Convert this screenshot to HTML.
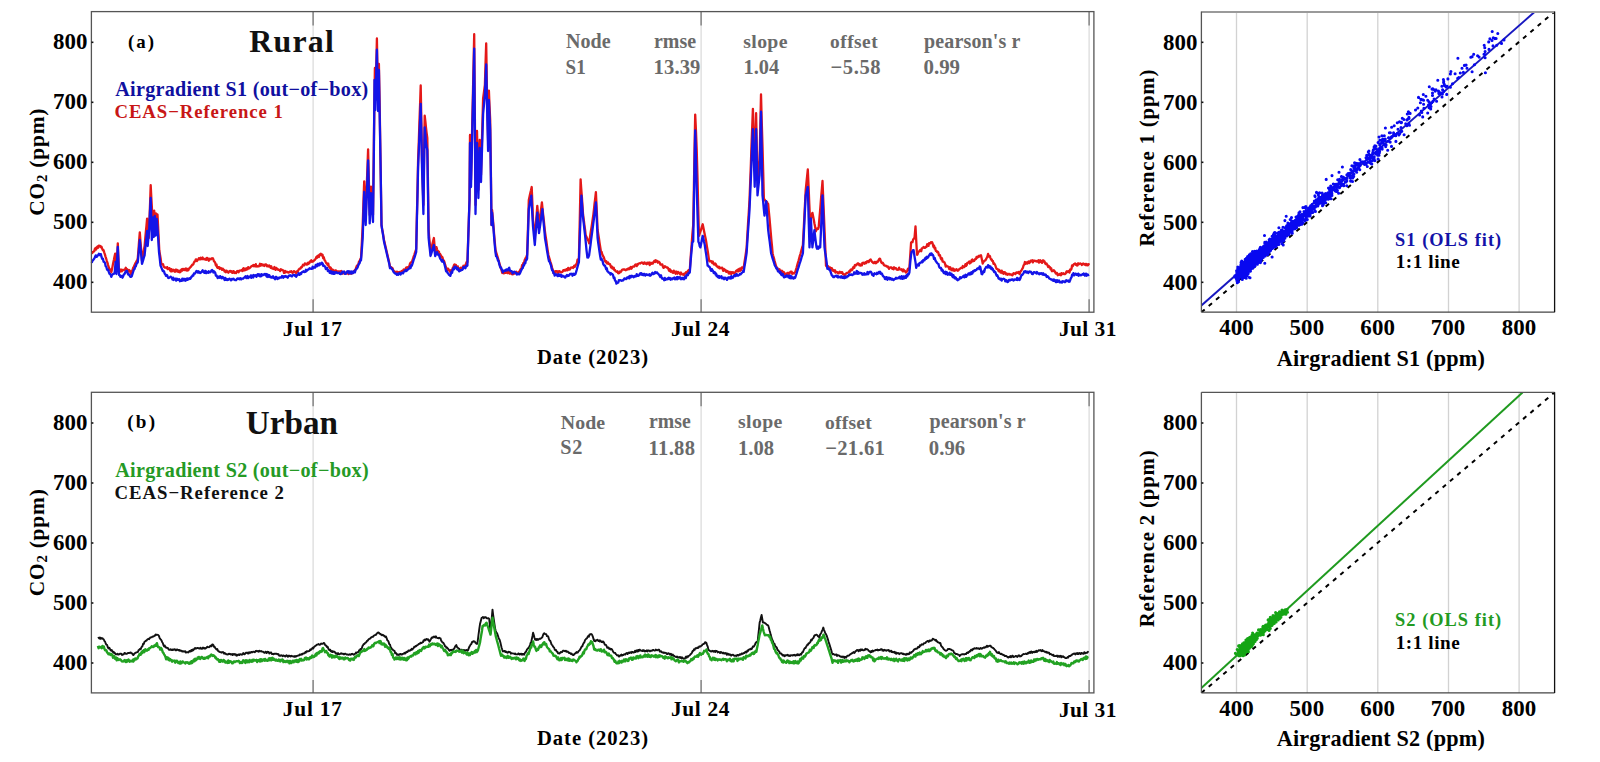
<!DOCTYPE html><html><head><meta charset="utf-8"><style>html,body{margin:0;padding:0;background:#fff;width:1600px;height:762px;overflow:hidden}svg{display:block}text{font-family:"Liberation Serif",serif;font-weight:bold;font-variant-ligatures:none}</style></head><body>
<svg width="1600" height="762" viewBox="0 0 1600 762">
<rect width="1600" height="762" fill="#fff"/>
<line x1="313.1" y1="11.6" x2="313.1" y2="312.2" stroke="#d6d6d6" stroke-width="1.1"/>
<line x1="313.1" y1="11.6" x2="313.1" y2="25.6" stroke="#777" stroke-width="1.3"/>
<line x1="313.1" y1="299.2" x2="313.1" y2="312.2" stroke="#777" stroke-width="1.3"/>
<line x1="701.1" y1="11.6" x2="701.1" y2="312.2" stroke="#d6d6d6" stroke-width="1.1"/>
<line x1="701.1" y1="11.6" x2="701.1" y2="25.6" stroke="#777" stroke-width="1.3"/>
<line x1="701.1" y1="299.2" x2="701.1" y2="312.2" stroke="#777" stroke-width="1.3"/>
<line x1="1089.1" y1="11.6" x2="1089.1" y2="312.2" stroke="#d6d6d6" stroke-width="1.1"/>
<line x1="1089.1" y1="11.6" x2="1089.1" y2="25.6" stroke="#777" stroke-width="1.3"/>
<line x1="1089.1" y1="299.2" x2="1089.1" y2="312.2" stroke="#777" stroke-width="1.3"/>
<path d="M91.7 252.9L92.3 253.0L93.0 251.8L93.6 251.7L94.3 251.1L94.9 248.8L95.6 248.0L96.2 249.5L96.8 247.2L97.5 246.4L98.1 247.8L98.8 245.6L99.4 245.9L100.1 245.8L100.8 247.1L101.5 246.7L102.2 248.8L102.9 250.3L103.6 250.2L104.2 252.3L104.9 254.4L105.5 256.6L106.2 258.7L106.8 260.8L107.5 262.9L108.1 265.1L108.8 267.3L109.4 269.1L110.0 270.2L110.7 269.8L111.3 272.3L112.0 269.2L112.6 266.1L113.2 262.9L113.9 259.8L114.5 256.7L115.2 253.6L115.8 261.8L116.4 270.0L117.1 256.6L117.8 243.3L118.4 257.6L119.0 272.7L119.7 271.8L120.4 270.7L121.0 269.5L121.7 271.4L122.4 269.9L123.1 270.2L123.8 270.2L124.4 269.4L125.1 269.5L125.8 267.7L126.5 269.4L127.1 269.1L127.8 271.1L128.4 271.5L129.1 270.0L129.7 270.8L130.3 271.6L131.0 274.3L131.7 271.3L132.4 270.3L133.1 268.0L133.8 267.0L134.5 265.2L135.2 263.6L135.8 262.7L136.5 261.2L137.2 260.6L137.8 258.0L138.5 249.4L139.1 240.9L139.8 232.3L140.5 241.9L141.3 251.4L142.0 261.0L142.7 257.2L143.3 253.5L143.9 249.8L144.6 246.0L145.2 239.2L145.8 232.3L146.5 225.4L147.1 218.6L147.9 228.3L148.8 238.0L149.4 220.4L150.1 202.8L150.7 185.2L151.4 199.1L152.2 213.0L153.2 225.0L154.2 210.7L155.0 222.0L156.0 213.5L156.8 214.9L157.5 214.5L158.1 226.5L158.7 238.5L159.3 250.5L159.9 254.3L160.6 258.2L161.2 263.0L161.8 264.3L162.4 264.5L163.0 264.1L163.7 266.5L164.4 267.4L165.2 267.7L165.9 267.4L166.5 268.1L167.1 267.1L167.7 269.1L168.3 268.8L168.9 268.3L169.5 268.1L170.1 270.5L170.7 271.2L171.3 269.1L171.9 271.4L172.5 270.4L173.1 269.7L173.8 270.2L174.4 271.5L175.0 271.8L175.6 269.6L176.2 271.2L176.8 269.7L177.5 271.5L178.1 270.5L178.7 272.0L179.3 272.2L179.9 270.8L180.5 272.0L181.1 270.0L181.7 269.3L182.3 270.6L182.9 268.9L183.5 269.2L184.1 269.7L184.7 270.1L185.3 268.8L185.9 268.4L186.5 270.5L187.1 268.9L187.7 270.5L188.3 270.2L188.9 268.7L189.5 268.1L190.2 267.4L190.8 266.9L191.4 266.0L192.0 265.1L192.7 264.4L193.3 264.5L193.9 262.5L194.5 261.5L195.2 261.4L195.8 259.3L196.4 259.3L197.0 261.1L197.7 259.7L198.3 259.7L198.9 258.1L199.5 259.1L200.1 259.4L200.7 257.8L201.4 259.2L202.0 259.2L202.6 257.5L203.2 259.1L203.8 258.8L204.5 259.4L205.1 258.6L205.7 259.6L206.3 259.8L206.9 257.9L207.5 258.1L208.2 259.8L208.8 260.7L209.4 258.8L210.1 259.2L210.8 259.4L211.4 258.5L212.1 258.5L212.8 258.2L213.4 259.5L214.0 261.3L214.6 261.7L215.3 263.1L215.9 265.4L216.5 264.5L217.1 267.2L217.7 267.9L218.4 267.1L219.0 267.2L219.6 269.0L220.2 267.8L220.9 268.0L221.5 268.9L222.1 269.9L222.7 268.6L223.4 269.5L224.0 269.9L224.6 271.5L225.2 270.7L225.9 272.2L226.5 270.6L227.1 271.1L227.8 272.0L228.4 272.7L229.1 271.6L229.7 271.0L230.3 270.8L231.0 271.9L231.6 271.1L232.2 272.8L232.9 272.9L233.5 271.2L234.1 271.5L234.8 273.0L235.4 272.6L236.1 273.1L236.7 271.9L237.3 271.0L238.0 271.2L238.6 272.3L239.3 270.6L239.9 270.6L240.5 270.5L241.2 270.3L241.8 270.0L242.4 271.1L243.1 268.8L243.7 268.1L244.4 270.4L245.0 269.9L245.6 270.0L246.3 268.3L246.9 269.5L247.6 269.2L248.2 267.1L248.8 268.3L249.5 268.3L250.1 267.6L250.7 267.0L251.4 266.2L252.0 266.1L252.6 265.6L253.3 265.0L253.9 266.2L254.6 265.1L255.2 266.3L255.8 264.2L256.4 266.5L257.0 265.9L257.6 266.5L258.2 266.3L258.8 266.3L259.4 265.4L260.0 263.8L260.7 265.7L261.3 264.1L261.9 264.4L262.5 265.4L263.1 265.0L263.7 264.6L264.3 266.0L264.9 265.0L265.5 264.3L266.1 264.3L266.8 266.2L267.4 265.4L268.1 266.5L268.7 265.6L269.3 265.5L270.0 266.6L270.6 267.7L271.2 266.2L271.9 268.1L272.5 268.7L273.1 268.7L273.8 269.0L274.4 267.0L275.1 269.0L275.7 269.9L276.3 267.9L277.0 268.7L277.6 268.9L278.2 269.8L278.9 269.8L279.5 270.1L280.2 271.1L280.8 269.3L281.4 269.6L282.1 270.0L282.7 270.2L283.3 270.3L284.0 272.9L284.6 272.8L285.3 271.0L285.9 272.3L286.5 271.8L287.1 271.8L287.7 271.9L288.3 272.7L288.9 272.5L289.5 271.9L290.1 271.5L290.7 271.8L291.4 271.3L292.0 272.4L292.6 272.9L293.2 272.0L293.8 271.2L294.4 271.4L295.0 272.0L295.6 272.6L296.2 273.1L296.8 271.4L297.4 271.9L298.1 270.8L298.7 269.6L299.3 268.9L299.9 268.6L300.5 268.5L301.1 267.1L301.8 267.3L302.4 266.0L303.0 264.8L303.6 265.3L304.3 265.4L304.9 263.4L305.6 264.0L306.2 263.7L306.8 264.6L307.5 264.4L308.1 262.6L308.7 263.7L309.4 263.1L310.0 261.4L310.6 261.6L311.3 260.3L311.9 261.9L312.6 261.2L313.2 261.4L313.8 260.7L314.5 259.9L315.1 259.6L315.7 258.7L316.4 257.0L317.0 257.9L317.6 255.8L318.2 255.7L318.9 257.0L319.5 254.6L320.1 254.2L320.8 253.8L321.4 255.4L322.0 254.5L322.6 255.0L323.2 258.2L323.8 257.2L324.5 260.1L325.1 260.6L325.7 262.0L326.3 263.3L326.9 263.2L327.5 264.8L328.2 263.6L328.8 266.6L329.4 266.8L330.1 268.3L330.7 267.6L331.4 270.3L332.0 271.8L332.6 269.5L333.2 270.3L333.8 271.1L334.4 271.9L335.1 270.4L335.7 270.4L336.3 270.7L336.9 271.7L337.5 272.2L338.1 271.4L338.7 271.4L339.3 271.6L340.0 271.5L340.6 271.8L341.2 271.0L341.8 272.3L342.4 273.6L343.0 272.2L343.6 273.2L344.2 271.8L344.9 273.3L345.5 273.6L346.1 273.5L346.7 273.1L347.3 273.2L347.9 273.5L348.6 274.1L349.2 272.0L349.8 271.8L350.4 273.5L351.1 273.8L351.7 272.7L352.3 272.4L352.9 273.1L353.6 271.5L354.2 271.7L354.9 270.0L355.6 269.6L356.2 267.4L356.9 265.7L357.6 265.5L358.3 264.8L359.0 261.6L359.6 261.4L360.3 259.2L361.0 258.0L361.9 241.5L362.7 225.0L363.4 203.2L364.2 181.4L364.9 198.2L365.7 215.0L366.3 198.6L366.9 182.2L367.5 165.7L368.1 149.3L368.9 182.2L369.7 215.0L370.4 200.8L371.0 186.7L371.7 196.1L372.3 205.6L373.0 215.0L373.9 140.0L374.9 68.0L375.6 100.0L376.2 69.2L376.9 38.5L378.0 100.0L378.9 64.0L379.6 100.0L380.5 160.0L381.5 225.0L382.1 228.8L382.8 232.5L383.4 236.2L384.0 240.0L384.6 242.6L385.2 245.2L385.8 247.8L386.4 250.4L387.0 253.0L387.6 255.6L388.2 258.2L388.8 260.8L389.4 263.4L390.0 267.0L390.6 267.1L391.3 267.1L391.9 267.9L392.6 268.2L393.2 270.3L393.8 270.9L394.5 271.2L395.1 272.6L395.7 272.4L396.3 273.5L396.9 271.7L397.6 273.8L398.2 272.3L398.8 272.5L399.4 272.0L400.0 272.9L400.6 272.5L401.2 271.4L401.9 270.9L402.5 271.1L403.1 271.1L403.7 269.5L404.3 270.1L404.9 270.3L405.6 268.6L406.2 267.6L406.8 267.3L407.4 267.8L408.1 267.0L408.7 267.0L409.4 266.0L410.0 263.6L410.6 262.7L411.3 262.1L411.9 262.0L412.5 260.1L413.1 258.3L413.7 256.4L414.4 254.6L415.0 252.7L415.6 250.9L416.2 249.0L416.8 219.3L417.5 189.7L418.1 160.0L418.8 141.4L419.4 122.8L420.1 104.1L420.7 85.5L421.4 122.8L422.0 160.0L422.7 182.5L423.4 205.0L424.0 160.3L424.7 115.7L425.4 121.6L426.0 127.5L426.6 132.8L427.3 138.0L428.0 184.0L428.6 230.0L429.2 237.3L429.9 244.7L430.5 252.0L431.2 249.2L431.9 246.4L432.5 243.6L433.2 240.8L433.9 238.0L434.5 245.0L435.2 252.0L435.9 250.0L436.5 247.2L437.1 249.6L437.7 251.1L438.3 252.3L438.9 251.6L439.5 254.4L440.1 254.0L440.8 255.3L441.4 257.2L442.0 256.6L442.6 257.7L443.2 260.7L443.8 260.4L444.4 262.0L445.2 265.0L446.1 267.6L446.8 268.9L447.5 269.8L448.2 268.7L448.9 270.2L449.6 271.2L450.3 272.0L450.9 270.2L451.5 270.2L452.1 270.2L452.8 267.7L453.4 267.1L454.0 265.0L454.6 264.4L455.2 265.9L455.9 265.0L456.5 267.5L457.1 268.1L457.8 266.4L458.4 269.2L459.1 268.2L459.7 269.7L460.3 269.3L460.9 267.6L461.5 268.2L462.2 267.7L462.8 267.7L463.4 265.8L464.0 266.7L464.7 266.4L465.4 264.9L466.0 263.7L466.7 261.8L467.4 262.0L468.1 241.3L468.8 220.7L469.5 200.0L470.0 135.0L471.0 180.0L471.7 150.0L472.3 120.0L473.0 90.0L474.2 34.2L474.9 119.6L475.5 205.0L476.2 168.0L477.0 131.0L477.7 160.5L478.4 190.0L479.0 165.0L479.7 140.0L480.4 157.5L481.0 175.0L481.7 149.5L482.4 124.0L483.1 98.5L484.0 91.8L484.9 85.0L485.5 64.2L486.2 43.4L487.0 95.0L488.1 140.0L488.9 90.6L489.5 105.3L490.2 120.0L490.9 172.5L491.5 225.0L492.1 210.0L492.8 218.0L493.5 226.0L494.1 234.0L494.8 242.0L495.5 250.0L496.1 252.1L496.7 254.2L497.4 256.3L498.0 258.4L498.6 260.5L499.2 262.5L499.8 264.6L500.4 266.7L501.1 268.8L501.7 270.9L502.3 273.0L502.9 272.5L503.6 273.4L504.2 273.2L504.8 272.8L505.4 271.7L506.1 272.8L506.7 272.7L507.3 271.4L507.9 273.2L508.6 272.5L509.2 271.0L509.9 273.6L510.6 271.8L511.2 272.7L511.9 274.2L512.6 274.3L513.2 274.0L513.8 274.0L514.5 273.3L515.1 272.8L515.7 272.2L516.3 271.7L516.9 273.3L517.5 273.2L518.2 272.5L518.8 272.8L519.4 271.6L520.1 270.0L520.8 268.9L521.4 268.8L522.1 265.2L522.8 265.0L523.4 262.9L524.0 262.9L524.6 260.3L525.3 258.8L525.9 257.6L526.5 256.5L527.1 255.0L528.0 227.5L528.8 200.0L529.5 196.8L530.2 193.5L531.0 190.2L531.7 187.0L532.4 203.5L533.0 220.0L533.9 229.0L534.8 238.0L535.4 229.9L536.0 221.9L536.7 213.9L537.3 205.8L538.1 215.4L539.0 225.0L539.7 219.3L540.5 213.7L541.2 208.1L541.9 202.4L542.5 208.3L543.1 214.2L543.8 220.2L544.4 226.1L545.0 232.0L545.7 236.6L546.4 241.2L547.0 245.8L547.7 250.4L548.4 255.0L549.0 257.2L549.7 259.3L550.3 261.5L551.0 263.6L551.6 265.8L552.2 268.0L552.9 270.1L553.5 273.0L554.1 271.9L554.7 273.2L555.3 271.2L555.9 271.6L556.5 271.1L557.1 271.1L557.7 272.8L558.3 272.7L558.9 271.2L559.5 271.2L560.1 271.6L560.8 272.3L561.4 272.4L562.0 272.0L562.7 271.5L563.3 270.1L563.9 270.6L564.6 269.9L565.2 270.7L565.8 270.5L566.4 269.2L567.0 269.0L567.6 270.2L568.2 267.8L568.8 269.6L569.4 269.6L570.0 269.4L570.7 267.6L571.3 267.7L571.9 267.5L572.5 267.4L573.1 268.0L573.7 266.9L574.3 265.6L574.9 266.8L575.5 265.5L576.2 264.3L576.9 263.1L577.5 259.7L578.2 260.2L578.9 258.0L579.8 218.7L580.6 179.4L581.2 188.3L581.9 197.2L582.5 206.1L583.1 215.0L583.8 220.0L584.4 225.0L585.1 230.0L585.7 235.4L586.4 236.6L587.1 238.4L587.7 239.9L588.4 240.8L589.1 243.3L589.7 239.2L590.3 235.0L590.9 230.9L591.6 226.7L592.2 222.6L592.8 218.4L593.4 214.3L594.0 208.8L594.6 203.2L595.3 197.7L595.9 192.2L596.8 211.1L597.6 230.0L598.3 234.4L599.0 238.8L599.6 243.1L600.3 247.5L601.0 252.0L601.6 251.9L602.3 254.5L603.0 256.1L603.6 256.8L604.2 258.5L604.9 260.8L605.6 261.9L606.2 261.1L606.8 263.4L607.5 263.5L608.1 262.5L608.7 263.9L609.3 264.1L610.0 264.2L610.6 266.0L611.2 267.6L611.8 266.5L612.5 268.5L613.1 268.5L613.7 267.6L614.3 270.0L615.0 269.9L615.6 271.3L616.2 271.3L616.8 271.9L617.5 271.3L618.1 273.1L618.7 273.3L619.4 272.9L620.0 271.5L620.6 272.1L621.3 271.2L621.9 270.0L622.6 269.6L623.2 269.5L623.8 269.6L624.5 269.3L625.1 270.0L625.8 270.3L626.4 269.6L627.0 269.1L627.7 269.5L628.3 268.4L628.9 268.5L629.5 269.1L630.1 267.9L630.7 267.0L631.3 268.7L631.9 268.0L632.5 266.8L633.1 266.5L633.7 266.7L634.3 266.6L634.9 265.3L635.5 264.5L636.1 264.8L636.7 266.1L637.3 264.1L637.9 264.7L638.5 263.7L639.1 263.5L639.7 263.2L640.3 263.5L640.9 262.9L641.6 262.5L642.2 262.7L642.8 262.9L643.4 263.8L644.1 262.6L644.7 262.5L645.3 263.7L645.9 263.6L646.6 264.3L647.2 262.6L647.8 263.5L648.4 263.5L649.1 262.5L649.7 265.1L650.3 263.0L650.9 262.7L651.6 263.7L652.2 262.9L652.8 263.6L653.4 262.4L654.0 261.3L654.7 260.6L655.3 262.0L655.9 260.3L656.5 261.2L657.1 260.9L657.8 262.7L658.4 261.6L659.1 262.0L659.7 262.6L660.4 264.6L661.0 264.7L661.6 264.5L662.3 264.4L662.9 266.6L663.6 267.9L664.2 267.4L664.8 266.2L665.5 266.6L666.1 267.1L666.8 267.6L667.4 267.5L668.0 267.9L668.7 269.8L669.3 270.8L669.9 269.3L670.6 271.7L671.2 270.6L671.9 271.8L672.5 272.5L673.1 272.9L673.8 270.7L674.4 271.8L675.0 272.7L675.6 273.7L676.2 271.5L676.8 272.1L677.4 273.7L678.0 271.9L678.6 272.7L679.2 272.7L679.8 273.7L680.4 274.5L681.0 272.5L681.6 274.1L682.2 274.2L682.8 274.6L683.4 273.9L684.0 275.0L684.6 273.6L685.2 273.3L685.9 272.3L686.5 273.3L687.2 271.9L687.9 270.9L688.5 270.1L689.1 271.1L689.8 270.0L690.4 261.2L691.0 252.5L691.7 243.8L692.3 235.0L693.2 225.0L693.9 188.2L694.5 151.4L695.2 114.6L696.0 131.9L696.7 149.3L697.5 178.1L698.2 207.0L699.0 235.8L699.6 233.9L700.2 232.0L700.9 230.1L701.5 228.1L702.1 226.2L702.7 224.3L703.4 227.8L704.1 231.2L704.8 234.7L705.5 238.1L706.2 241.6L706.9 246.3L707.7 251.0L708.4 255.7L709.1 260.7L709.7 261.4L710.3 260.9L710.9 261.6L711.6 261.1L712.2 263.0L712.8 261.6L713.4 263.2L714.0 264.4L714.6 264.5L715.2 263.4L715.9 264.2L716.5 266.2L717.1 266.1L717.7 267.1L718.3 267.5L718.9 266.7L719.5 268.3L720.1 268.3L720.8 267.6L721.4 268.1L722.0 267.6L722.6 268.9L723.2 270.8L723.8 268.9L724.4 270.5L725.0 269.7L725.6 270.0L726.2 271.9L726.9 271.2L727.5 271.0L728.1 271.7L728.7 273.4L729.3 273.6L729.9 271.9L730.6 272.4L731.2 274.2L731.8 272.1L732.5 272.9L733.1 272.3L733.7 273.2L734.3 272.6L735.0 272.9L735.6 272.1L736.2 270.8L736.8 270.5L737.5 269.8L738.1 271.5L738.7 269.3L739.3 268.7L740.0 270.9L740.6 268.5L741.2 270.0L741.8 267.5L742.5 268.2L743.1 267.2L743.7 267.6L744.4 262.7L745.2 257.8L745.9 252.9L746.6 248.0L747.3 236.0L748.0 224.0L748.8 212.0L749.5 200.0L750.2 181.8L750.9 163.6L751.5 145.3L752.2 127.1L752.9 108.9L753.5 129.3L754.1 149.6L754.7 170.0L755.4 141.6L756.1 113.2L756.8 146.6L757.5 180.0L758.2 173.3L758.9 166.7L759.6 160.0L760.3 127.2L761.0 94.4L761.7 120.4L762.5 146.4L763.2 172.3L763.9 199.2L764.5 199.4L765.1 200.3L765.7 201.5L766.4 202.6L767.0 202.0L767.6 203.5L768.2 204.1L768.8 211.1L769.5 218.1L770.1 225.1L770.7 232.2L771.3 239.2L772.0 246.2L772.6 253.2L773.2 255.7L773.9 258.1L774.5 260.6L775.2 263.1L775.9 265.5L776.5 267.9L777.1 267.4L777.7 269.8L778.3 269.5L778.9 270.6L779.5 269.3L780.1 270.7L780.8 270.9L781.4 272.0L782.0 270.7L782.6 271.9L783.2 272.7L783.8 272.0L784.4 273.7L785.0 274.6L785.6 273.7L786.2 274.2L786.8 273.9L787.4 272.8L788.0 273.0L788.6 274.6L789.2 272.7L789.8 272.9L790.5 271.8L791.1 272.1L791.7 271.8L792.3 273.8L792.9 273.1L793.5 273.4L794.1 273.5L794.7 272.4L795.3 272.0L795.9 269.8L796.6 267.5L797.2 265.2L797.8 263.0L798.5 260.8L799.1 258.5L799.7 256.2L800.4 254.0L801.0 251.8L801.6 249.5L802.3 247.2L802.9 245.0L803.6 231.2L804.3 217.5L805.0 203.8L805.7 190.0L806.4 183.2L807.1 176.3L807.8 169.5L808.6 186.8L809.3 204.1L810.1 221.4L810.9 218.5L811.6 215.7L812.4 212.8L813.1 216.3L813.8 219.7L814.4 223.2L815.1 226.6L815.8 231.3L816.5 229.5L817.2 228.4L818.0 229.1L818.7 227.2L819.3 219.5L820.0 211.8L820.6 204.1L821.2 196.4L821.9 188.7L822.5 181.0L823.2 197.7L823.9 214.5L824.6 231.2L825.3 248.0L826.0 265.8L826.6 266.4L827.2 265.6L827.8 266.9L828.4 266.4L829.0 268.5L829.6 268.7L830.2 267.5L830.8 269.7L831.4 268.2L832.0 268.4L832.6 270.6L833.2 269.9L833.8 270.9L834.4 271.6L835.0 270.3L835.6 272.6L836.2 271.7L836.8 272.2L837.4 272.1L838.0 273.3L838.6 273.4L839.2 272.2L839.8 271.8L840.4 272.5L841.0 272.9L841.7 272.1L842.3 272.4L842.9 274.1L843.5 274.0L844.1 274.9L844.7 275.0L845.3 274.8L845.9 273.6L846.5 273.1L847.1 272.9L847.7 272.8L848.3 272.4L848.9 271.9L849.5 270.9L850.1 271.7L850.7 269.6L851.3 269.5L851.9 270.1L852.5 269.4L853.1 267.4L853.7 266.7L854.3 267.7L854.9 265.0L855.5 264.8L856.1 265.3L856.7 264.8L857.3 263.7L858.0 263.3L858.6 263.7L859.3 265.2L859.9 264.3L860.5 265.6L861.2 265.0L861.8 265.4L862.4 262.8L863.1 263.2L863.7 262.6L864.4 263.7L865.0 263.4L865.6 262.2L866.3 263.1L866.9 261.4L867.5 261.6L868.2 261.0L868.8 262.1L869.5 260.6L870.1 259.8L870.7 259.5L871.4 260.9L872.0 261.7L872.7 262.2L873.3 263.1L873.9 263.2L874.6 262.0L875.2 262.0L875.8 263.2L876.4 262.8L877.0 261.6L877.7 262.0L878.3 260.7L878.9 259.5L879.5 258.7L880.1 258.9L880.8 261.3L881.4 262.6L882.1 263.2L882.7 262.7L883.4 263.8L884.0 265.2L884.6 265.5L885.3 265.6L885.9 265.7L886.6 266.6L887.2 266.3L887.8 266.4L888.5 267.9L889.1 268.8L889.7 267.7L890.3 267.4L891.0 267.3L891.6 267.7L892.2 268.7L892.8 267.9L893.5 269.3L894.1 267.3L894.7 267.8L895.3 268.4L896.0 268.2L896.6 269.5L897.2 269.5L897.8 269.9L898.5 269.1L899.1 267.6L899.7 269.3L900.3 269.5L901.0 269.6L901.6 269.3L902.2 270.6L902.8 271.4L903.4 269.5L904.0 271.2L904.7 270.7L905.3 271.3L905.9 272.6L906.6 272.0L907.3 270.5L908.0 268.6L908.7 269.8L909.4 268.0L910.2 255.7L911.1 242.4L911.8 242.0L912.5 242.1L913.1 239.7L913.8 238.6L914.5 238.2L915.5 226.3L916.2 239.9L917.0 254.8L917.6 254.3L918.2 252.1L918.8 251.8L919.4 251.0L920.0 250.1L920.6 249.9L921.2 251.3L921.8 248.4L922.4 248.3L923.0 247.7L923.6 246.9L924.2 247.7L924.8 247.9L925.4 247.7L926.0 246.7L926.6 246.8L927.2 244.2L927.9 244.5L928.5 245.9L929.1 243.1L929.7 243.2L930.3 243.3L930.9 242.3L931.5 242.6L932.1 242.3L932.7 243.8L933.4 246.8L934.0 245.6L934.6 248.6L935.2 247.7L935.8 250.9L936.4 251.0L937.1 252.0L937.7 251.6L938.3 252.4L938.9 255.3L939.5 254.7L940.1 255.7L940.8 258.4L941.4 259.5L942.0 258.2L942.6 261.6L943.2 261.5L943.8 262.0L944.4 262.3L945.1 264.0L945.7 266.6L946.3 265.6L946.9 266.2L947.5 266.4L948.1 266.6L948.7 267.4L949.3 269.1L949.9 267.1L950.5 267.6L951.1 269.8L951.7 270.1L952.3 270.3L952.9 268.5L953.5 269.0L954.1 270.8L954.7 269.8L955.3 270.5L955.9 269.7L956.5 269.1L957.1 270.2L957.7 270.8L958.4 270.5L959.0 269.5L959.6 268.8L960.3 268.6L960.9 267.9L961.6 267.7L962.2 268.1L962.8 266.0L963.5 266.6L964.1 267.1L964.8 266.4L965.4 264.2L966.0 265.9L966.7 265.1L967.3 262.9L967.9 262.8L968.5 262.2L969.2 261.4L969.8 263.5L970.4 261.6L971.0 262.5L971.7 260.1L972.3 259.4L972.9 261.3L973.5 260.7L974.1 260.9L974.8 259.7L975.4 258.8L976.0 259.1L976.6 256.9L977.3 257.7L977.9 257.1L978.5 255.9L979.1 256.7L979.8 255.6L980.4 255.7L981.0 255.3L981.9 259.6L982.7 263.5L983.4 262.1L984.1 261.1L984.7 260.6L985.4 260.4L986.1 259.2L986.8 257.8L987.4 256.6L988.1 253.9L988.7 256.7L989.3 255.7L989.9 256.2L990.5 258.1L991.1 259.6L991.7 259.4L992.3 261.1L992.9 261.0L993.5 263.8L994.1 263.3L994.7 264.2L995.4 265.5L996.0 267.5L996.7 268.9L997.3 268.8L998.0 269.6L998.6 271.2L999.2 269.9L999.9 271.1L1000.5 272.5L1001.1 272.5L1001.7 270.7L1002.4 273.1L1003.0 272.0L1003.6 273.8L1004.2 272.4L1004.9 272.2L1005.5 273.3L1006.1 274.4L1006.7 273.4L1007.4 274.8L1008.0 274.5L1008.6 273.8L1009.2 273.9L1009.9 274.6L1010.5 274.5L1011.1 274.3L1011.7 275.0L1012.3 275.4L1012.9 274.5L1013.5 273.2L1014.1 273.3L1014.7 273.6L1015.4 274.1L1016.0 272.7L1016.6 272.4L1017.2 272.9L1017.8 272.7L1018.4 271.9L1019.0 273.1L1019.6 274.0L1020.3 271.8L1020.9 271.1L1021.6 270.1L1022.2 268.9L1022.9 267.8L1023.6 265.3L1024.2 264.7L1024.9 262.0L1025.5 263.9L1026.1 262.4L1026.8 262.6L1027.4 263.6L1028.0 261.9L1028.6 261.5L1029.2 263.1L1029.8 262.4L1030.5 260.9L1031.1 260.6L1031.7 261.4L1032.3 260.3L1032.9 262.4L1033.5 260.6L1034.2 260.7L1034.8 260.9L1035.4 261.1L1036.0 261.0L1036.6 261.5L1037.2 261.7L1037.9 261.1L1038.5 260.2L1039.1 262.6L1039.7 261.9L1040.3 260.3L1040.9 261.3L1041.5 262.2L1042.1 262.9L1042.8 260.4L1043.4 260.3L1044.0 261.6L1044.6 261.5L1045.2 263.5L1045.8 264.0L1046.4 263.4L1047.0 264.4L1047.6 265.5L1048.2 267.0L1048.8 265.9L1049.4 267.2L1050.0 267.1L1050.6 269.3L1051.2 268.3L1051.9 271.2L1052.5 270.5L1053.2 271.1L1053.8 270.2L1054.5 271.0L1055.1 272.1L1055.8 273.6L1056.4 273.2L1057.0 272.9L1057.7 275.2L1058.3 274.8L1059.0 274.9L1059.6 273.8L1060.2 273.9L1060.9 275.3L1061.5 273.1L1062.1 273.9L1062.7 274.0L1063.3 273.1L1063.9 274.0L1064.6 274.2L1065.2 273.9L1065.8 273.4L1066.4 271.7L1067.0 271.2L1067.6 272.0L1068.3 271.5L1068.9 271.0L1069.5 272.6L1070.2 269.5L1070.8 269.8L1071.5 268.8L1072.1 265.3L1072.8 266.1L1073.4 264.7L1074.0 264.1L1074.6 264.0L1075.2 263.5L1075.8 264.7L1076.4 264.3L1077.0 265.5L1077.6 265.4L1078.2 263.3L1078.8 264.2L1079.4 264.1L1080.0 263.4L1080.6 263.7L1081.2 263.8L1081.8 265.0L1082.5 264.1L1083.1 263.5L1083.7 263.8L1084.3 264.5L1084.9 264.8L1085.5 264.0L1086.1 265.3L1086.7 264.0L1087.4 265.3L1088.0 265.2L1088.6 264.1L1089.2 265.0" fill="none" stroke="#e41818" stroke-width="2.3" stroke-linejoin="round"/>
<path d="M91.7 262.8L92.4 260.8L93.1 260.2L93.7 259.3L94.4 258.4L95.1 256.8L95.7 255.4L96.4 256.9L97.0 256.7L97.7 255.3L98.3 255.1L98.9 253.8L99.6 255.1L100.2 254.1L100.9 254.2L101.6 257.2L102.2 259.0L102.9 258.6L103.6 261.7L104.3 262.1L105.0 262.9L105.6 266.1L106.3 266.8L107.0 269.5L107.6 270.1L108.2 269.8L108.8 271.9L109.5 273.8L110.1 273.8L110.7 274.9L111.3 276.8L112.0 275.0L112.7 274.4L113.3 273.9L114.0 273.9L114.7 272.3L115.6 262.0L116.4 274.0L117.1 260.5L117.8 247.0L118.4 261.4L119.0 275.0L119.7 274.9L120.4 276.8L121.0 276.4L121.7 275.9L122.4 277.7L123.1 276.4L123.8 274.3L124.4 274.3L125.1 272.7L125.8 271.3L126.5 270.9L127.1 271.0L127.8 273.7L128.4 274.7L129.1 274.5L129.7 275.7L130.3 276.8L131.0 276.8L131.7 276.3L132.4 274.2L133.1 272.0L133.8 269.6L134.5 269.1L135.2 266.7L135.8 266.5L136.5 263.8L137.2 263.1L137.8 262.1L138.5 254.7L139.1 247.4L139.8 240.0L140.5 247.9L141.3 255.9L142.0 263.8L142.7 261.7L143.3 259.6L143.9 257.4L144.6 255.3L145.2 249.2L145.8 243.2L146.5 237.1L147.1 231.0L147.7 246.0L148.4 237.8L149.2 229.5L149.9 213.8L150.7 198.0L151.8 240.0L153.0 217.5L153.7 237.0L154.8 216.0L155.7 235.5L156.7 219.0L157.8 232.5L159.0 252.0L159.8 258.8L160.5 265.5L161.6 268.1L162.2 269.6L162.8 271.1L163.4 270.8L164.1 271.6L164.7 273.8L165.3 274.0L165.9 275.8L166.5 275.2L167.1 275.2L167.7 276.7L168.3 277.9L168.9 278.0L169.5 277.3L170.1 277.3L170.7 276.6L171.3 277.4L171.9 277.8L172.5 279.6L173.1 277.6L173.8 280.0L174.4 278.9L175.0 278.9L175.6 278.6L176.2 280.6L176.8 278.7L177.5 279.9L178.1 279.9L178.7 279.2L179.3 279.2L179.9 281.2L180.5 280.6L181.1 280.4L181.7 280.9L182.3 278.6L182.9 280.2L183.5 280.3L184.1 278.8L184.7 279.4L185.3 280.8L185.9 279.0L186.5 280.1L187.1 278.4L187.7 279.7L188.3 278.6L188.9 279.2L189.5 278.2L190.2 278.9L190.8 278.0L191.4 276.7L192.0 276.6L192.7 275.2L193.3 275.6L193.9 273.5L194.5 273.7L195.2 273.2L195.8 272.0L196.4 271.0L197.0 271.3L197.7 272.5L198.3 271.2L198.9 272.6L199.5 271.9L200.1 273.0L200.7 272.7L201.4 272.3L202.0 271.2L202.6 270.3L203.2 271.7L203.8 272.3L204.5 272.9L205.1 271.0L205.7 270.9L206.3 273.2L206.9 272.7L207.5 272.0L208.2 272.8L208.8 271.3L209.4 272.4L210.1 272.4L210.8 271.9L211.4 270.4L212.1 270.0L212.8 270.9L213.4 272.5L214.0 271.3L214.6 271.8L215.3 272.9L215.9 275.7L216.5 275.4L217.1 276.5L217.7 278.1L218.4 277.2L219.0 276.5L219.6 277.8L220.2 276.1L220.9 277.1L221.5 278.3L222.1 277.1L222.7 276.9L223.4 278.4L224.0 278.0L224.6 280.0L225.2 277.8L225.9 279.8L226.5 278.9L227.1 280.1L227.8 279.2L228.4 279.8L229.1 278.9L229.7 278.7L230.3 279.4L231.0 280.4L231.6 279.2L232.2 278.9L232.9 279.5L233.5 278.7L234.1 279.3L234.8 280.0L235.4 280.0L236.1 280.2L236.7 279.4L237.3 278.5L238.0 278.3L238.6 279.0L239.3 278.4L239.9 279.2L240.5 278.2L241.2 279.4L241.8 278.7L242.4 278.7L243.1 278.7L243.7 277.9L244.4 277.5L245.0 277.0L245.6 276.2L246.3 278.1L246.9 277.2L247.6 276.0L248.2 278.1L248.8 277.1L249.5 277.1L250.1 276.5L250.7 275.5L251.4 277.8L252.0 275.4L252.6 275.9L253.3 277.5L253.9 275.0L254.6 275.9L255.2 275.7L255.8 275.1L256.4 276.8L257.0 275.4L257.6 274.3L258.2 275.5L258.8 274.1L259.4 276.0L260.0 276.4L260.7 276.4L261.3 274.1L261.9 275.7L262.5 274.6L263.1 275.0L263.7 274.5L264.3 274.5L264.9 274.0L265.5 275.2L266.1 274.0L266.8 276.6L267.4 274.3L268.1 277.0L268.7 275.1L269.3 275.1L270.0 277.0L270.6 276.7L271.2 277.5L271.9 277.0L272.5 277.6L273.1 276.3L273.8 278.1L274.4 277.9L275.1 279.3L275.7 277.0L276.3 277.0L277.0 278.6L277.6 279.1L278.2 277.7L278.9 278.3L279.5 277.8L280.2 277.3L280.8 277.4L281.4 277.6L282.1 276.0L282.7 276.6L283.3 277.7L284.0 276.3L284.6 276.7L285.3 276.0L285.9 276.2L286.5 277.0L287.1 277.2L287.7 277.7L288.3 276.3L288.9 275.6L289.5 275.9L290.1 275.1L290.7 275.5L291.4 276.4L292.0 276.4L292.6 275.4L293.2 275.2L293.8 274.9L294.4 275.1L295.0 275.9L295.6 275.2L296.2 276.8L296.8 275.7L297.4 274.8L298.0 274.7L298.6 273.3L299.2 274.9L299.8 274.6L300.4 273.3L301.1 274.0L301.7 272.4L302.3 272.0L302.9 271.7L303.5 271.3L304.1 272.1L304.7 271.9L305.3 271.8L305.9 269.8L306.5 271.3L307.1 270.2L307.7 269.6L308.3 269.7L308.9 269.2L309.6 268.2L310.2 268.5L310.8 268.8L311.4 268.7L312.0 268.9L312.6 266.7L313.2 268.3L313.8 267.7L314.5 267.1L315.1 267.5L315.7 264.9L316.4 266.3L317.0 266.3L317.6 263.9L318.2 264.9L318.9 265.5L319.5 263.4L320.1 264.6L320.8 264.4L321.4 262.8L322.0 262.7L322.7 263.6L323.3 266.0L323.9 265.6L324.6 266.0L325.2 267.0L325.8 269.0L326.5 267.8L327.1 267.8L327.8 271.0L328.4 269.9L329.0 270.7L329.7 272.9L330.3 271.7L330.9 271.2L331.5 273.5L332.1 271.8L332.7 271.8L333.3 273.8L333.9 272.0L334.6 273.8L335.2 272.4L335.8 272.3L336.4 272.2L337.0 273.1L337.6 273.2L338.2 272.9L338.8 273.2L339.4 272.6L340.0 274.0L340.6 274.2L341.2 273.6L341.8 273.7L342.4 271.7L343.1 272.1L343.7 271.9L344.3 271.7L344.9 273.8L345.5 273.6L346.1 273.5L346.7 272.5L347.3 271.3L347.9 272.1L348.6 271.1L349.2 273.4L349.8 271.7L350.4 271.7L351.1 273.5L351.7 271.5L352.3 273.4L352.9 271.8L353.6 272.7L354.2 271.2L354.9 272.4L355.6 270.0L356.2 268.8L356.9 268.6L357.6 267.5L358.3 265.2L359.0 263.5L359.6 263.3L360.3 260.5L361.0 260.4L361.9 249.2L362.7 238.0L363.4 215.0L364.2 192.0L364.9 208.5L365.7 225.0L366.3 208.8L366.9 192.7L367.5 176.6L368.1 160.4L368.9 191.9L369.7 223.4L370.4 208.3L371.0 193.2L371.7 202.8L372.3 212.4L373.0 222.0L373.9 150.0L374.5 80.0L375.2 110.0L376.0 79.8L376.9 49.7L378.0 111.0L378.9 70.0L379.6 110.0L380.5 160.0L381.5 225.0L382.1 229.2L382.8 233.3L383.4 237.4L384.0 241.6L384.6 244.2L385.2 246.7L385.8 249.3L386.4 251.8L387.0 254.4L387.6 257.0L388.2 259.5L388.8 262.1L389.4 264.6L390.0 268.2L390.6 267.6L391.3 268.0L391.9 269.3L392.6 269.6L393.2 271.0L393.8 272.4L394.5 272.9L395.1 273.6L395.7 273.4L396.3 274.0L396.9 274.8L397.6 273.8L398.2 274.7L398.8 274.0L399.4 273.0L400.0 273.1L400.6 274.6L401.2 273.3L401.9 272.8L402.5 272.8L403.1 273.4L403.7 271.8L404.3 271.5L404.9 271.2L405.6 269.9L406.2 271.0L406.8 270.5L407.4 270.0L408.1 269.2L408.7 268.6L409.4 268.6L410.0 266.6L410.6 268.1L411.3 265.1L411.9 265.5L412.5 263.6L413.1 261.6L413.7 259.7L414.4 257.8L415.0 255.9L415.6 253.9L416.2 252.0L416.8 223.7L417.5 195.3L418.1 167.0L418.8 151.2L419.4 135.4L420.1 119.7L420.7 103.9L421.4 135.4L422.0 167.0L422.7 190.5L423.4 214.0L424.0 170.8L424.7 127.5L425.4 135.2L426.0 143.0L426.6 146.5L427.3 150.0L428.0 193.8L428.6 237.7L429.2 243.8L429.9 249.9L430.5 256.0L431.2 253.8L431.9 251.6L432.5 249.4L433.2 247.2L433.9 245.0L434.5 250.5L435.2 256.0L435.9 254.0L436.5 253.0L437.1 252.0L437.7 254.6L438.3 254.1L438.9 254.6L439.5 256.7L440.1 258.5L440.8 259.4L441.4 260.4L442.0 261.6L442.6 260.0L443.2 261.8L443.8 262.0L444.4 264.0L445.2 267.3L446.1 271.3L446.8 271.2L447.5 272.7L448.2 273.5L448.9 274.8L449.6 274.7L450.3 275.9L450.9 273.9L451.5 271.6L452.1 272.7L452.8 269.4L453.4 268.3L454.0 269.2L454.6 266.6L455.2 268.1L455.9 266.8L456.5 267.7L457.1 269.5L457.8 268.1L458.4 269.8L459.1 271.4L459.7 269.8L460.3 270.8L460.9 270.5L461.5 269.9L462.2 269.9L462.8 269.3L463.4 267.1L464.0 267.3L464.7 267.7L465.4 268.3L466.0 265.8L466.7 266.3L467.4 265.5L468.1 243.7L468.8 221.8L469.5 200.0L470.0 143.0L471.0 187.0L471.7 158.0L472.3 129.0L473.0 100.0L474.2 48.6L474.9 131.3L475.5 214.0L476.2 178.5L477.0 143.0L477.7 170.5L478.4 198.0L479.0 173.0L479.7 148.0L480.4 165.0L481.0 182.0L481.7 159.3L482.4 136.7L483.1 114.0L484.0 104.5L484.9 95.0L485.5 79.7L486.2 64.4L487.0 104.0L488.1 151.0L488.9 100.0L489.5 115.0L490.2 130.0L490.9 177.5L491.5 225.0L492.1 212.6L492.8 220.8L493.5 229.0L494.1 237.2L494.8 245.4L495.5 252.6L496.1 256.2L496.7 256.7L497.4 258.5L498.0 260.6L498.6 260.8L499.2 264.0L499.8 265.8L500.4 267.6L501.1 267.7L501.7 269.2L502.3 270.6L502.9 272.3L503.6 270.9L504.2 270.5L504.8 270.6L505.4 270.9L506.1 269.6L506.7 269.4L507.3 270.3L507.9 270.1L508.6 268.6L509.2 267.7L509.9 270.7L510.6 270.9L511.2 271.2L511.9 271.4L512.6 273.5L513.2 272.3L513.8 271.8L514.5 271.7L515.1 272.5L515.7 273.3L516.3 272.9L516.9 274.6L517.5 273.9L518.2 273.6L518.8 274.3L519.4 274.3L520.1 273.0L520.8 271.3L521.4 270.0L522.1 268.5L522.8 268.1L523.4 265.2L524.0 265.5L524.6 263.0L525.3 263.3L525.9 260.0L526.5 259.9L527.1 258.7L528.0 233.9L528.8 209.2L529.4 205.8L530.0 202.4L530.7 199.0L531.3 195.6L532.1 210.9L533.0 226.3L533.9 235.7L534.8 245.0L535.4 236.9L536.0 228.8L536.7 220.7L537.3 212.6L538.1 222.8L539.0 233.1L539.7 228.3L540.4 223.5L541.0 218.8L541.7 214.0L542.4 209.2L543.0 216.4L543.7 223.7L544.4 230.9L545.0 238.2L545.7 242.3L546.4 246.4L547.0 250.5L547.7 254.6L548.4 258.5L549.0 261.2L549.7 261.7L550.3 263.8L551.0 265.4L551.6 268.4L552.2 270.4L552.9 270.7L553.5 273.1L554.1 273.4L554.7 275.6L555.3 274.4L555.9 274.9L556.5 274.3L557.1 275.5L557.7 276.1L558.3 275.9L558.9 274.3L559.5 275.6L560.1 275.9L560.8 274.7L561.4 276.8L562.0 275.7L562.7 275.7L563.3 276.7L563.9 276.7L564.6 276.5L565.2 277.6L565.8 276.5L566.4 275.9L567.0 275.0L567.6 276.1L568.2 275.5L568.8 275.8L569.4 275.1L570.0 274.0L570.7 274.0L571.3 274.1L571.9 273.8L572.5 275.7L573.1 274.8L573.7 273.8L574.3 274.9L574.9 274.5L575.5 274.0L576.2 271.6L576.9 269.2L577.5 266.9L578.2 264.5L578.9 262.1L579.5 245.5L580.1 228.9L580.8 212.2L581.4 195.6L582.2 206.7L583.1 217.8L583.8 223.8L584.4 229.7L585.1 235.7L585.7 241.6L586.5 250.1L587.4 257.5L588.2 257.7L589.1 255.3L589.8 250.2L590.5 245.1L591.1 239.9L591.8 234.8L592.5 229.7L593.2 224.2L593.9 218.8L594.5 213.3L595.2 207.9L595.9 202.4L596.8 220.3L597.6 238.2L598.2 242.9L598.9 247.6L599.6 252.3L600.2 256.3L600.8 259.5L601.4 258.4L602.0 260.0L602.6 261.1L603.2 263.9L603.8 265.0L604.4 265.5L605.0 265.6L605.6 267.5L606.2 269.4L606.8 268.3L607.4 271.3L608.1 271.7L608.7 272.6L609.3 272.6L609.9 273.0L610.5 274.6L611.1 273.3L611.8 274.0L612.4 274.2L613.0 274.9L613.7 278.0L614.4 277.4L615.0 280.5L615.7 281.0L616.4 283.6L617.0 283.0L617.6 282.5L618.3 282.6L618.9 280.1L619.5 280.4L620.1 280.4L620.7 280.2L621.3 280.6L622.0 280.8L622.6 280.2L623.2 280.4L623.8 279.5L624.4 278.4L625.0 278.7L625.7 279.1L626.3 279.1L626.9 277.7L627.5 277.5L628.1 278.0L628.7 276.8L629.3 278.4L630.0 275.8L630.6 277.4L631.2 276.7L631.8 275.8L632.4 276.6L633.0 276.2L633.6 277.3L634.2 276.9L634.8 275.9L635.4 276.5L636.0 276.3L636.7 274.2L637.3 275.8L637.9 275.6L638.5 275.9L639.1 275.1L639.7 273.9L640.3 273.2L640.9 274.5L641.5 273.3L642.1 274.9L642.7 274.5L643.3 275.2L643.9 274.0L644.5 273.9L645.2 275.6L645.8 275.0L646.4 274.3L647.0 274.9L647.6 274.6L648.2 275.2L648.8 274.9L649.4 274.1L650.1 275.8L650.7 275.3L651.4 274.7L652.0 273.2L652.6 272.8L653.3 274.0L653.9 274.0L654.6 273.4L655.2 272.0L655.9 273.1L656.5 272.4L657.1 272.5L657.8 273.7L658.4 273.9L659.1 275.0L659.7 275.9L660.4 277.1L661.0 275.3L661.6 277.1L662.3 278.7L662.9 278.5L663.6 278.8L664.2 280.2L664.8 277.9L665.5 279.9L666.1 279.4L666.8 279.2L667.4 278.4L668.0 279.2L668.7 277.8L669.3 278.8L669.9 278.0L670.6 279.8L671.2 279.4L671.9 278.5L672.5 279.2L673.1 278.1L673.8 278.4L674.4 277.4L675.0 279.3L675.6 279.0L676.2 279.0L676.8 277.2L677.4 279.2L678.0 277.0L678.6 278.5L679.2 278.3L679.8 277.1L680.4 278.1L681.0 279.3L681.6 278.6L682.2 277.8L682.8 279.1L683.4 277.9L684.0 279.4L684.6 278.0L685.2 276.4L685.9 278.1L686.5 274.9L687.2 274.6L687.9 275.3L688.5 272.8L689.1 273.2L689.8 272.3L690.4 264.6L691.0 256.9L691.7 249.3L692.3 242.6L693.2 241.6L693.9 204.6L694.5 167.5L695.2 130.5L696.0 158.7L696.7 186.8L697.5 214.2L698.4 241.8L699.1 243.1L699.7 246.2L700.4 247.4L701.2 243.5L701.9 239.7L702.7 235.8L703.4 238.7L704.0 241.6L704.7 244.5L705.4 249.6L706.2 254.6L706.9 259.6L707.6 265.6L708.2 265.7L708.8 266.7L709.4 266.7L710.1 267.8L710.7 270.2L711.3 270.9L711.9 269.2L712.5 270.2L713.1 270.9L713.7 273.0L714.3 271.9L714.9 272.4L715.5 274.5L716.1 273.5L716.7 276.2L717.3 275.4L717.9 277.1L718.5 277.5L719.1 276.0L719.7 277.8L720.3 276.9L720.9 276.6L721.5 276.3L722.1 278.3L722.8 278.1L723.4 277.6L724.0 279.2L724.6 277.7L725.2 278.6L725.8 277.8L726.4 278.7L727.0 279.9L727.6 278.7L728.2 277.5L728.9 277.5L729.5 278.4L730.1 277.2L730.7 278.6L731.3 276.2L731.9 278.1L732.5 277.2L733.1 277.6L733.8 276.1L734.4 275.1L735.0 275.1L735.6 276.1L736.2 274.2L736.8 274.1L737.5 275.7L738.1 275.6L738.7 275.3L739.3 274.9L740.0 273.8L740.6 274.4L741.2 273.6L741.8 273.0L742.5 272.3L743.1 270.9L743.7 271.9L744.4 267.2L745.2 262.5L745.9 257.9L746.6 253.2L747.3 242.4L748.0 231.6L748.8 220.7L749.5 209.9L750.2 193.7L750.9 177.6L751.5 161.4L752.2 145.3L752.9 129.1L753.5 148.3L754.1 167.6L754.7 186.8L755.4 157.9L756.1 129.1L756.8 162.2L757.5 195.4L758.2 188.7L758.9 181.9L759.6 175.2L760.3 143.4L761.0 111.7L761.8 153.6L762.5 195.4L763.2 202.1L763.8 208.9L764.5 215.6L765.4 208.4L766.2 201.2L766.9 210.8L767.5 220.5L768.2 230.1L768.9 235.9L769.7 241.6L770.4 247.4L771.1 253.2L771.7 255.3L772.3 257.3L772.9 259.4L773.6 261.4L774.2 263.5L774.8 265.5L775.4 266.5L776.0 267.5L776.6 268.7L777.3 268.4L777.9 271.3L778.5 270.9L779.1 271.9L779.8 273.0L780.4 271.8L781.0 274.2L781.6 275.0L782.2 273.7L782.9 274.0L783.5 276.4L784.1 277.3L784.7 277.1L785.3 276.1L786.0 276.7L786.6 275.4L787.2 275.8L787.8 276.4L788.5 277.4L789.1 275.7L789.7 278.0L790.3 275.7L790.9 278.3L791.6 276.4L792.2 278.0L792.8 278.1L793.4 278.5L794.1 277.3L794.7 278.0L795.3 277.5L795.9 275.5L796.6 273.4L797.2 271.4L797.8 269.4L798.5 267.4L799.1 265.4L799.7 263.3L800.4 261.3L801.0 259.3L801.6 257.2L802.3 255.2L802.9 253.2L803.6 238.8L804.3 224.3L805.0 209.8L805.7 195.4L806.4 192.5L807.1 189.7L807.8 186.8L808.6 217.1L809.5 247.4L810.2 232.9L810.9 218.5L811.6 232.9L812.4 247.4L813.1 241.6L813.7 235.9L814.4 230.1L815.1 236.1L815.8 242.0L816.5 247.4L817.1 248.8L817.7 246.7L818.4 248.7L819.0 247.8L819.6 246.3L820.2 247.4L821.0 230.1L821.7 212.7L822.5 195.4L823.2 212.7L823.8 230.1L824.5 247.4L825.2 252.5L826.0 257.5L826.7 262.6L827.4 268.8L828.0 268.1L828.7 268.3L829.3 269.8L830.0 270.1L830.6 271.8L831.3 273.9L831.9 275.6L832.6 275.6L833.2 277.2L833.8 277.2L834.4 276.9L835.0 276.1L835.7 275.9L836.3 275.7L836.9 276.8L837.5 276.0L838.1 277.5L838.7 276.4L839.3 277.2L839.9 277.2L840.5 277.5L841.2 276.3L841.8 276.7L842.4 277.9L843.0 276.7L843.6 277.7L844.2 278.3L844.9 276.5L845.5 277.8L846.1 276.6L846.7 277.3L847.4 275.9L848.0 276.3L848.6 275.9L849.2 274.3L849.9 274.9L850.5 274.9L851.1 274.3L851.7 274.6L852.3 275.1L853.0 274.5L853.6 274.3L854.2 272.3L854.8 273.6L855.5 273.1L856.1 273.7L856.7 271.0L857.3 271.5L858.0 273.8L858.6 272.3L859.3 273.4L859.9 273.2L860.5 272.8L861.2 273.0L861.8 273.5L862.4 274.8L863.1 273.7L863.7 274.5L864.4 273.3L865.0 274.6L865.6 274.1L866.3 274.2L866.9 274.4L867.5 272.0L868.2 274.2L868.8 273.0L869.5 271.9L870.1 272.2L870.8 271.7L871.5 272.6L872.1 274.8L872.8 275.0L873.5 275.9L874.1 273.7L874.7 273.3L875.3 273.8L875.9 273.8L876.5 274.2L877.1 272.8L877.7 273.7L878.3 273.0L878.9 272.0L879.5 273.1L880.1 271.7L880.7 273.7L881.3 273.3L881.9 273.5L882.5 275.2L883.1 276.0L883.7 276.8L884.3 276.8L884.9 278.9L885.5 279.1L886.1 277.4L886.7 277.1L887.4 279.8L888.0 278.4L888.6 277.6L889.2 277.9L889.8 279.4L890.4 278.1L891.1 278.7L891.7 279.6L892.3 278.8L892.9 279.5L893.5 280.1L894.2 279.5L894.8 278.9L895.4 278.8L896.0 277.8L896.6 278.5L897.2 278.4L897.9 278.0L898.5 277.6L899.1 278.2L899.7 276.7L900.3 278.1L901.0 278.8L901.6 276.2L902.2 276.8L902.8 278.8L903.4 276.4L904.0 278.4L904.7 277.7L905.3 276.3L905.9 277.9L906.6 275.1L907.3 276.4L908.0 273.8L908.7 274.5L909.4 272.3L910.2 262.9L911.1 254.7L911.7 251.8L912.4 251.6L913.0 250.1L913.6 250.2L914.2 254.4L914.9 258.7L915.6 262.9L916.2 267.9L916.8 265.5L917.5 264.8L918.1 264.3L918.8 265.6L919.4 263.3L920.0 262.9L920.7 262.6L921.3 262.2L921.9 261.3L922.6 262.2L923.2 260.1L923.8 259.9L924.5 260.4L925.1 258.2L925.8 257.5L926.4 258.7L927.0 256.8L927.7 257.8L928.3 257.1L929.0 255.4L929.6 254.7L930.2 253.6L930.9 255.1L931.5 253.4L932.1 254.2L932.8 254.9L933.4 256.0L934.0 258.9L934.7 257.9L935.3 260.1L936.0 261.4L936.6 262.2L937.2 263.0L937.9 263.7L938.5 264.0L939.1 266.7L939.7 267.8L940.4 267.8L941.0 267.9L941.6 270.6L942.2 269.6L942.9 270.5L943.5 272.6L944.1 273.3L944.7 272.8L945.4 271.7L946.0 274.2L946.6 272.1L947.2 272.8L947.8 274.7L948.4 274.3L949.1 274.4L949.7 272.7L950.3 274.9L950.9 274.2L951.5 273.6L952.2 276.2L952.8 277.1L953.4 275.1L954.0 276.7L954.6 278.4L955.2 277.3L955.9 277.7L956.5 279.5L957.1 279.0L957.7 280.3L958.3 279.7L958.9 279.4L959.5 278.8L960.1 277.2L960.7 278.2L961.4 277.7L962.0 277.2L962.6 277.2L963.2 276.2L963.8 275.7L964.4 277.4L965.0 275.7L965.6 274.7L966.2 276.8L966.8 275.2L967.4 275.4L968.1 274.1L968.7 273.3L969.3 273.5L969.9 274.6L970.5 272.7L971.1 274.1L971.7 272.2L972.4 273.5L973.0 271.2L973.6 271.7L974.2 270.5L974.8 270.1L975.4 270.7L976.0 269.8L976.6 269.8L977.2 268.5L977.9 268.3L978.5 267.9L979.1 269.0L979.7 266.3L980.3 267.0L981.0 270.6L981.6 274.0L982.2 274.3L982.9 272.7L983.6 271.0L984.2 272.1L984.9 268.9L985.5 268.1L986.1 266.9L986.8 267.2L987.5 267.5L988.1 265.1L988.7 265.7L989.3 267.6L989.9 266.2L990.5 266.5L991.1 268.8L991.7 267.8L992.3 269.5L992.9 269.0L993.5 270.8L994.1 272.0L994.7 271.5L995.4 272.2L996.0 274.3L996.7 275.7L997.3 275.2L998.0 276.9L998.6 278.5L999.2 278.9L999.8 278.5L1000.4 279.6L1001.1 278.7L1001.7 280.6L1002.3 279.2L1002.9 279.0L1003.5 278.7L1004.1 279.0L1004.7 279.4L1005.3 281.3L1006.0 280.2L1006.6 280.4L1007.2 281.9L1007.8 282.1L1008.4 281.4L1009.0 279.9L1009.7 280.0L1010.3 280.4L1010.9 279.6L1011.5 279.8L1012.1 279.3L1012.8 279.3L1013.4 280.5L1014.0 280.0L1014.6 279.5L1015.3 279.5L1015.9 279.7L1016.5 279.8L1017.1 277.9L1017.7 280.0L1018.4 278.9L1019.0 278.5L1019.6 280.0L1020.3 278.6L1020.9 276.6L1021.6 274.8L1022.2 275.0L1022.9 274.1L1023.6 273.1L1024.2 271.4L1024.9 271.8L1025.6 271.1L1026.2 272.6L1026.9 272.1L1027.5 271.6L1028.2 273.1L1028.9 272.2L1029.5 271.4L1030.2 272.0L1030.8 271.6L1031.5 272.7L1032.1 274.0L1032.7 274.2L1033.3 273.4L1033.9 272.1L1034.5 272.4L1035.1 272.3L1035.7 272.8L1036.4 273.6L1037.0 272.0L1037.6 273.3L1038.2 273.1L1038.8 273.8L1039.4 274.3L1040.0 273.2L1040.6 273.8L1041.3 273.1L1041.9 273.9L1042.6 274.6L1043.2 273.3L1043.9 274.8L1044.6 275.0L1045.2 274.4L1045.9 274.8L1046.6 277.0L1047.2 276.2L1047.9 276.4L1048.6 277.2L1049.2 278.4L1049.9 278.7L1050.5 279.1L1051.2 279.6L1051.9 279.4L1052.5 280.3L1053.2 280.7L1053.8 279.4L1054.5 280.9L1055.1 280.2L1055.8 282.2L1056.4 282.1L1057.0 280.1L1057.7 281.7L1058.3 280.9L1059.0 280.4L1059.6 282.4L1060.2 282.4L1060.9 282.1L1061.5 281.6L1062.1 282.5L1062.7 281.3L1063.3 281.6L1063.9 281.5L1064.6 282.1L1065.2 282.0L1065.8 280.5L1066.4 280.2L1067.0 281.1L1067.6 281.1L1068.3 280.5L1068.9 281.8L1069.5 281.7L1070.2 280.0L1070.8 278.3L1071.5 277.4L1072.1 274.7L1072.8 275.0L1073.4 273.2L1074.0 275.4L1074.6 274.7L1075.2 273.8L1075.8 273.6L1076.4 274.8L1077.0 274.5L1077.6 275.1L1078.2 273.6L1078.8 275.7L1079.4 274.6L1080.0 274.6L1080.6 275.4L1081.2 275.1L1081.8 274.7L1082.5 274.2L1083.1 274.7L1083.7 273.5L1084.3 274.1L1084.9 275.7L1085.5 273.8L1086.1 273.7L1086.7 275.7L1087.4 274.5L1088.0 274.9L1088.6 275.0L1089.2 274.8" fill="none" stroke="#1414e8" stroke-width="2.3" stroke-linejoin="round"/>
<rect x="91.4" y="11.6" width="1002.5" height="300.6" fill="none" stroke="#555" stroke-width="1.3"/>
<line x1="91.4" y1="282.3" x2="93.4" y2="282.3" stroke="#111" stroke-width="1.6"/>
<line x1="91.4" y1="222.3" x2="93.4" y2="222.3" stroke="#111" stroke-width="1.6"/>
<line x1="91.4" y1="162.3" x2="93.4" y2="162.3" stroke="#111" stroke-width="1.6"/>
<line x1="91.4" y1="102.3" x2="93.4" y2="102.3" stroke="#111" stroke-width="1.6"/>
<line x1="91.4" y1="42.3" x2="93.4" y2="42.3" stroke="#111" stroke-width="1.6"/>
<line x1="313.1" y1="392.3" x2="313.1" y2="692.9" stroke="#d6d6d6" stroke-width="1.1"/>
<line x1="313.1" y1="392.3" x2="313.1" y2="406.3" stroke="#777" stroke-width="1.3"/>
<line x1="313.1" y1="679.9" x2="313.1" y2="692.9" stroke="#777" stroke-width="1.3"/>
<line x1="701.1" y1="392.3" x2="701.1" y2="692.9" stroke="#d6d6d6" stroke-width="1.1"/>
<line x1="701.1" y1="392.3" x2="701.1" y2="406.3" stroke="#777" stroke-width="1.3"/>
<line x1="701.1" y1="679.9" x2="701.1" y2="692.9" stroke="#777" stroke-width="1.3"/>
<line x1="1089.1" y1="392.3" x2="1089.1" y2="692.9" stroke="#d6d6d6" stroke-width="1.1"/>
<line x1="1089.1" y1="392.3" x2="1089.1" y2="406.3" stroke="#777" stroke-width="1.3"/>
<line x1="1089.1" y1="679.9" x2="1089.1" y2="692.9" stroke="#777" stroke-width="1.3"/>
<path d="M97.9 638.2L98.6 637.7L99.2 638.5L99.8 637.4L100.5 638.8L101.2 638.0L101.8 638.6L102.4 638.2L103.1 639.0L103.8 639.5L104.4 641.0L105.1 641.7L105.8 643.7L106.4 644.7L107.1 644.9L107.7 647.0L108.4 648.4L109.1 647.8L109.7 648.3L110.4 650.0L111.0 650.6L111.7 649.9L112.3 651.4L113.0 652.2L113.6 651.7L114.2 653.1L114.9 652.9L115.5 654.2L116.2 654.3L116.9 654.3L117.5 653.7L118.2 654.5L118.8 654.6L119.5 654.0L120.2 653.6L120.8 653.6L121.5 653.9L122.1 654.9L122.7 654.4L123.3 654.5L123.9 654.1L124.5 652.9L125.1 653.2L125.8 653.9L126.4 653.6L127.0 653.7L127.6 653.3L128.2 652.9L128.8 652.9L129.4 653.0L130.1 652.6L130.7 652.5L131.4 653.3L132.0 653.3L132.7 654.2L133.3 655.1L134.0 654.1L134.6 653.5L135.3 652.8L135.9 652.7L136.6 652.4L137.3 652.0L137.9 652.0L138.6 650.1L139.2 649.8L139.9 649.0L140.6 649.3L141.2 647.8L141.8 646.8L142.5 646.0L143.2 643.6L143.8 644.0L144.4 642.0L145.1 641.4L145.8 640.6L146.4 640.8L147.1 639.7L147.7 639.2L148.4 638.8L149.1 639.2L149.7 638.3L150.4 637.4L151.0 637.4L151.7 637.3L152.3 636.6L153.0 636.5L153.7 636.5L154.3 635.8L154.9 635.7L155.6 634.5L156.2 635.0L156.9 634.7L157.6 634.9L158.2 635.0L158.9 635.9L159.6 637.9L160.2 638.9L160.9 639.6L161.6 640.7L162.2 642.2L162.8 643.0L163.5 645.3L164.2 646.4L164.8 645.6L165.4 646.8L166.1 647.7L166.8 647.8L167.4 647.9L168.0 648.2L168.7 649.5L169.3 649.9L169.9 649.9L170.6 649.2L171.2 649.8L171.8 650.0L172.4 649.4L173.0 650.0L173.6 649.5L174.3 649.3L174.9 649.1L175.5 650.3L176.1 650.4L176.7 649.4L177.3 649.5L178.0 650.0L178.6 649.9L179.2 650.8L179.8 650.0L180.4 650.8L181.0 650.9L181.7 650.7L182.3 651.6L182.9 651.1L183.5 651.3L184.1 651.7L184.7 651.4L185.3 651.2L185.9 652.5L186.6 652.3L187.2 652.1L187.8 652.2L188.4 652.5L189.0 651.6L189.6 650.9L190.2 651.3L190.8 651.5L191.4 649.9L192.0 650.9L192.7 649.6L193.3 650.3L193.9 649.5L194.5 648.4L195.1 647.9L195.7 648.7L196.3 648.5L196.9 648.2L197.5 647.9L198.1 647.9L198.7 648.4L199.3 648.5L199.9 648.6L200.6 647.7L201.2 648.7L201.8 648.9L202.4 648.4L203.0 647.5L203.6 647.8L204.2 648.6L204.8 648.0L205.4 648.6L206.0 647.9L206.6 647.8L207.2 646.7L207.8 647.0L208.4 647.1L209.1 647.2L209.7 646.9L210.3 645.7L210.9 645.8L211.5 646.3L212.1 644.7L212.7 644.4L213.4 645.2L214.0 646.8L214.7 646.8L215.3 648.1L216.0 648.9L216.6 649.5L217.3 649.0L217.9 650.6L218.6 651.5L219.2 651.5L219.8 652.0L220.4 652.2L221.1 652.1L221.7 652.7L222.3 652.4L222.9 651.9L223.5 652.4L224.1 653.7L224.7 652.9L225.3 653.4L226.0 654.2L226.6 654.2L227.2 654.5L227.8 654.3L228.4 654.4L229.0 653.7L229.6 654.0L230.3 653.9L230.9 654.6L231.5 654.6L232.1 653.9L232.7 654.9L233.3 654.1L233.9 654.6L234.5 654.1L235.2 654.8L235.8 654.3L236.4 655.7L237.0 654.8L237.6 655.4L238.2 654.7L238.9 654.4L239.5 655.1L240.1 654.1L240.7 654.3L241.3 654.4L241.9 654.8L242.6 654.3L243.2 653.1L243.8 653.6L244.4 654.3L245.0 654.0L245.6 653.1L246.3 652.6L246.9 652.7L247.5 653.4L248.1 652.4L248.7 653.4L249.4 652.3L250.0 652.8L250.6 652.7L251.2 651.9L251.8 652.2L252.4 652.3L253.1 651.6L253.7 651.9L254.3 651.9L254.9 652.3L255.5 651.1L256.1 650.8L256.8 651.2L257.4 651.3L258.0 651.0L258.6 651.8L259.2 650.7L259.9 651.3L260.5 651.3L261.1 651.0L261.7 651.5L262.4 651.6L263.0 651.6L263.6 652.3L264.2 652.7L264.9 652.8L265.5 651.7L266.1 652.0L266.7 653.1L267.4 651.8L268.0 651.9L268.6 651.9L269.2 653.5L269.9 652.8L270.5 652.8L271.1 652.4L271.7 653.8L272.3 654.1L273.0 653.8L273.6 654.3L274.2 653.9L274.8 653.6L275.4 653.6L276.0 653.9L276.7 653.8L277.3 654.3L277.9 654.0L278.5 654.1L279.1 655.6L279.7 655.7L280.4 655.8L281.0 655.2L281.6 655.5L282.2 655.7L282.8 656.2L283.4 655.4L284.0 655.8L284.6 655.9L285.2 656.5L285.9 655.7L286.5 655.2L287.1 655.9L287.7 656.8L288.3 655.7L288.9 656.4L289.5 655.7L290.1 655.9L290.7 656.5L291.3 655.7L291.9 656.2L292.5 656.4L293.1 656.1L293.7 656.7L294.3 656.9L294.9 655.9L295.5 656.7L296.1 656.5L296.7 656.0L297.3 655.8L298.0 655.5L298.6 655.6L299.2 655.3L299.8 654.4L300.4 654.8L301.0 654.7L301.6 654.0L302.2 654.5L302.9 653.4L303.5 653.5L304.1 653.3L304.7 653.2L305.3 652.1L305.9 652.6L306.5 651.3L307.1 651.6L307.7 651.2L308.3 651.2L309.0 651.1L309.6 650.9L310.2 649.4L310.8 650.1L311.4 649.1L312.0 648.8L312.6 647.7L313.2 648.5L313.9 647.0L314.6 646.6L315.2 646.1L315.9 645.5L316.5 645.1L317.2 644.6L317.8 644.6L318.5 644.1L319.1 644.6L319.8 644.7L320.4 644.6L321.1 643.5L321.7 643.9L322.4 643.8L323.0 643.6L323.7 642.9L324.4 643.3L325.0 644.9L325.7 645.5L326.3 645.7L327.0 647.0L327.6 646.7L328.3 648.6L328.9 649.5L329.6 650.3L330.2 649.7L330.9 651.3L331.5 651.7L332.1 650.9L332.7 651.9L333.3 651.4L333.9 651.7L334.5 651.7L335.1 652.3L335.7 653.5L336.3 653.3L336.9 653.8L337.5 654.4L338.1 653.1L338.7 654.2L339.4 654.4L340.0 654.0L340.6 653.5L341.2 653.3L341.8 653.8L342.4 653.7L343.1 653.6L343.7 654.3L344.3 654.3L344.9 653.7L345.5 653.6L346.1 654.2L346.8 654.6L347.4 654.5L348.0 654.5L348.6 654.9L349.2 654.7L349.8 654.2L350.4 654.7L351.0 654.6L351.6 654.0L352.2 653.8L352.8 654.1L353.4 654.6L354.0 654.7L354.6 654.0L355.2 653.9L355.9 652.6L356.6 653.0L357.2 652.3L357.9 652.3L358.5 652.0L359.2 650.2L359.8 651.1L360.5 648.9L361.1 649.2L361.8 648.2L362.5 646.0L363.1 645.1L363.8 643.9L364.4 644.1L365.1 642.9L365.8 642.7L366.4 641.9L367.1 640.7L367.7 640.8L368.4 639.6L369.0 639.0L369.7 638.7L370.3 638.6L371.0 637.4L371.6 637.3L372.3 636.9L372.9 636.9L373.6 635.9L374.2 635.4L374.9 635.2L375.5 634.7L376.2 634.7L376.8 633.3L377.5 633.0L378.1 632.4L378.8 632.6L379.5 633.7L380.1 633.7L380.8 634.1L381.4 635.0L382.1 635.3L382.7 634.8L383.4 635.1L384.0 636.0L384.7 635.9L385.3 636.9L386.0 636.5L386.7 638.3L387.3 640.2L388.0 640.7L388.6 641.9L389.3 644.2L390.0 644.6L390.6 647.0L391.3 647.9L391.9 649.1L392.6 649.4L393.2 650.2L393.9 650.6L394.6 651.1L395.2 653.4L395.9 653.0L396.5 653.6L397.1 655.0L397.7 654.4L398.3 654.4L398.9 655.0L399.5 654.7L400.1 653.9L400.7 654.0L401.3 654.6L401.9 654.6L402.5 653.9L403.1 653.9L403.8 653.9L404.4 652.8L405.1 653.6L405.7 653.0L406.4 651.8L407.1 652.1L407.7 651.7L408.4 650.5L409.0 650.7L409.7 650.9L410.3 649.9L411.0 650.0L411.6 648.8L412.3 649.6L412.9 648.7L413.6 648.1L414.2 646.8L414.9 647.0L415.6 646.0L416.2 646.3L416.8 645.4L417.4 645.1L418.1 644.7L418.7 644.0L419.3 643.8L419.9 643.7L420.5 642.6L421.1 642.8L421.8 643.0L422.4 642.2L423.0 642.1L423.6 640.3L424.2 640.7L424.8 639.6L425.5 640.2L426.1 639.1L426.7 639.0L427.4 639.7L428.0 639.3L428.7 639.9L429.4 641.7L430.0 640.9L430.7 639.6L431.4 638.1L432.0 637.4L432.6 637.8L433.3 636.9L434.0 636.5L434.6 637.1L435.3 637.5L435.9 636.3L436.6 637.6L437.3 638.1L437.9 638.1L438.6 638.3L439.2 637.7L439.9 638.1L440.5 638.4L441.2 640.7L441.9 641.6L442.5 642.3L443.1 642.6L443.8 643.6L444.4 644.7L445.1 646.3L445.8 646.4L446.4 647.8L447.1 647.5L447.7 648.4L448.4 649.2L449.0 650.1L449.7 650.8L450.3 650.0L451.0 649.8L451.7 650.2L452.3 649.7L453.0 650.3L453.7 649.1L454.3 648.4L455.0 646.8L455.6 645.9L456.3 645.0L456.9 646.8L457.6 647.7L458.2 648.0L458.9 648.8L459.5 649.0L460.1 650.4L460.7 650.1L461.3 649.9L461.9 649.6L462.5 650.2L463.1 650.6L463.8 650.0L464.4 650.1L465.0 650.6L465.6 650.7L466.2 650.0L466.8 650.2L467.4 650.8L468.1 650.1L468.7 648.4L469.4 646.6L470.0 645.7L470.7 644.4L471.4 644.1L472.0 642.0L472.7 642.0L473.4 641.2L474.0 641.4L474.7 641.5L475.3 642.7L476.0 643.1L476.6 643.9L477.3 643.8L478.0 638.9L478.6 634.0L479.3 629.0L480.0 624.1L480.8 620.9L481.6 617.9L482.3 617.7L483.0 616.9L483.8 618.3L484.5 617.2L485.2 617.2L485.9 617.3L486.5 618.2L487.2 618.5L487.9 618.2L488.5 618.3L489.2 618.9L489.9 626.1L490.5 633.3L491.2 625.4L491.8 617.6L492.5 609.7L493.1 614.6L493.8 619.5L494.5 624.5L495.1 628.6L495.8 631.1L496.4 632.7L497.1 633.3L497.7 635.0L498.4 637.3L499.0 638.7L499.7 639.9L500.4 642.5L501.0 645.1L501.6 647.8L502.3 649.8L502.9 651.4L503.5 651.1L504.2 651.3L504.8 650.9L505.4 652.1L506.0 651.4L506.6 651.9L507.2 652.7L507.9 652.6L508.5 651.8L509.1 651.9L509.7 652.2L510.3 652.2L510.9 653.7L511.6 653.3L512.2 653.4L512.8 653.4L513.4 653.6L514.0 653.6L514.7 654.1L515.3 653.6L515.9 654.4L516.5 654.4L517.1 654.4L517.8 654.3L518.4 653.4L519.0 653.8L519.6 654.6L520.3 653.8L520.9 654.2L521.5 653.7L522.1 654.7L522.7 653.9L523.4 654.0L524.0 654.8L524.6 653.6L525.2 652.4L525.8 652.0L526.4 651.0L527.0 649.4L527.6 648.8L528.2 648.3L528.8 647.4L529.4 646.4L530.0 645.1L530.6 642.9L531.2 642.5L531.8 639.2L532.5 636.0L533.1 632.7L533.8 635.1L534.4 637.5L535.1 639.7L535.7 639.7L536.3 638.9L536.9 640.0L537.5 639.1L538.1 639.8L538.7 639.5L539.3 638.7L539.9 638.7L540.5 638.8L541.1 638.2L541.7 637.8L542.4 637.0L543.0 635.2L543.6 633.8L544.3 633.2L544.9 633.8L545.6 634.1L546.2 634.2L546.9 636.1L547.6 636.1L548.2 636.6L548.9 638.9L549.5 640.5L550.2 640.7L550.9 642.5L551.5 644.4L552.2 645.1L552.8 646.1L553.5 647.1L554.1 647.7L554.8 649.8L555.5 650.4L556.1 650.1L556.8 651.6L557.4 651.6L558.1 653.3L558.7 653.4L559.4 653.6L560.0 653.0L560.7 652.0L561.3 652.4L562.0 652.2L562.7 651.0L563.3 650.6L564.0 650.7L564.6 651.1L565.3 651.2L565.9 650.7L566.5 651.7L567.1 651.8L567.7 651.5L568.3 652.1L568.9 653.1L569.6 652.8L570.2 653.2L570.8 653.9L571.4 653.4L572.0 654.2L572.6 654.7L573.2 655.1L573.9 654.8L574.5 653.7L575.2 653.6L575.8 653.1L576.5 652.1L577.1 652.7L577.8 652.5L578.4 651.4L579.1 650.7L579.7 650.2L580.4 649.1L581.0 647.8L581.7 646.5L582.3 646.4L583.0 644.3L583.7 642.9L584.3 642.4L585.0 640.2L585.6 639.5L586.3 638.7L586.9 638.4L587.6 637.0L588.2 635.9L588.9 636.7L589.5 634.5L590.2 634.5L590.9 634.0L591.5 634.1L592.2 635.0L592.9 636.8L593.5 638.9L594.2 641.0L594.9 640.3L595.5 641.2L596.1 640.2L596.8 640.3L597.4 639.7L598.0 640.5L598.6 641.1L599.2 640.2L599.8 641.5L600.4 640.6L601.0 641.5L601.6 642.0L602.2 641.4L602.8 642.3L603.4 641.6L604.0 642.7L604.7 644.4L605.3 644.9L606.0 645.0L606.6 646.2L607.3 647.8L607.9 647.7L608.6 647.5L609.2 648.9L609.9 648.4L610.6 649.5L611.2 648.9L611.9 649.3L612.5 650.4L613.2 651.8L613.8 652.6L614.5 652.8L615.2 653.0L615.8 654.2L616.5 654.5L617.1 655.4L617.8 655.5L618.4 655.3L619.0 656.6L619.6 656.2L620.3 655.2L620.9 655.6L621.5 654.5L622.1 655.6L622.7 655.0L623.3 655.0L623.9 654.4L624.5 654.2L625.2 654.6L625.8 653.7L626.4 653.1L627.0 653.0L627.6 654.1L628.2 652.9L628.9 652.4L629.5 653.0L630.1 652.2L630.7 652.5L631.3 652.9L632.0 651.8L632.6 652.0L633.2 652.6L633.8 652.3L634.5 652.2L635.1 650.7L635.7 652.0L636.3 651.2L636.9 650.3L637.6 651.5L638.2 650.0L638.8 651.2L639.4 649.7L640.0 649.8L640.7 650.5L641.3 650.7L641.9 650.7L642.5 651.1L643.1 650.0L643.8 651.0L644.4 650.4L645.0 651.4L645.6 650.9L646.3 651.1L646.9 650.2L647.5 651.5L648.1 650.5L648.7 650.4L649.4 650.8L650.0 651.4L650.6 650.7L651.3 650.8L651.9 650.9L652.6 650.2L653.2 649.9L653.9 650.3L654.5 650.6L655.2 650.5L655.8 649.6L656.5 650.2L657.1 650.4L657.8 650.0L658.5 649.6L659.1 649.7L659.8 651.6L660.4 651.5L661.1 651.2L661.7 652.3L662.4 652.4L663.0 652.7L663.6 652.4L664.2 653.0L664.8 652.7L665.4 652.9L666.0 652.9L666.7 653.8L667.3 654.1L667.9 653.4L668.5 653.2L669.1 653.6L669.7 654.6L670.3 654.1L670.9 653.7L671.5 655.3L672.1 654.9L672.8 654.5L673.4 655.8L674.0 655.6L674.6 656.4L675.2 656.6L675.8 656.8L676.4 657.1L677.0 656.5L677.7 657.4L678.3 657.2L678.9 657.6L679.5 657.1L680.2 657.9L680.8 657.1L681.5 658.4L682.2 657.4L682.9 658.1L683.5 658.7L684.2 658.7L684.9 658.4L685.5 657.4L686.1 656.5L686.8 657.7L687.5 656.3L688.1 656.8L688.8 655.8L689.4 655.5L690.1 654.9L690.7 654.0L691.4 653.6L692.0 652.5L692.7 651.0L693.4 650.8L694.0 649.3L694.7 649.7L695.4 648.3L696.0 648.2L696.7 648.3L697.3 647.5L698.0 648.1L698.6 647.6L699.2 646.5L699.9 646.3L700.6 646.5L701.2 645.8L701.9 645.4L702.5 644.4L703.2 644.2L703.8 643.7L704.5 643.6L705.1 642.1L705.8 642.3L706.5 643.2L707.1 645.1L707.8 646.9L708.4 649.8L709.1 650.4L709.7 650.7L710.3 651.1L710.9 651.5L711.5 651.5L712.1 650.7L712.7 651.1L713.4 651.7L714.0 650.9L714.6 650.9L715.2 652.1L715.8 650.8L716.4 651.0L717.0 651.2L717.6 652.4L718.2 651.8L718.9 652.0L719.5 652.4L720.1 653.1L720.7 651.9L721.3 652.3L721.9 652.8L722.6 653.3L723.2 652.6L723.8 653.3L724.4 653.6L725.0 653.0L725.6 653.6L726.3 653.3L726.9 654.8L727.5 653.5L728.1 653.9L728.7 654.7L729.3 654.2L729.9 654.8L730.5 654.5L731.1 655.7L731.8 655.1L732.4 654.9L733.0 654.7L733.6 655.3L734.2 655.8L734.8 655.8L735.4 655.9L736.0 655.5L736.6 655.9L737.2 654.9L737.9 655.0L738.5 655.5L739.1 655.0L739.7 654.3L740.3 654.7L740.9 654.5L741.5 653.5L742.1 653.5L742.8 653.9L743.4 653.1L744.0 652.9L744.6 653.1L745.2 651.9L745.9 651.7L746.5 652.5L747.2 650.8L747.9 651.3L748.5 649.6L749.1 649.6L749.8 649.5L750.5 648.7L751.1 649.3L751.8 648.9L752.4 647.4L753.1 646.3L753.7 646.7L754.4 645.7L755.0 644.5L755.7 642.9L756.4 642.0L757.0 642.3L757.7 641.2L758.3 635.1L759.0 628.9L759.6 622.8L760.3 620.2L760.9 617.5L761.6 614.9L762.2 618.5L762.9 622.5L763.6 622.5L764.2 622.7L764.9 623.0L765.5 623.6L766.2 624.1L766.9 624.8L767.5 624.9L768.2 625.4L768.9 627.8L769.5 630.2L770.2 632.6L770.8 635.1L771.5 637.5L772.1 639.6L772.7 640.5L773.3 642.3L773.9 643.8L774.5 643.7L775.1 645.7L775.7 646.6L776.3 647.0L776.9 647.9L777.5 650.1L778.1 650.1L778.7 651.1L779.4 651.7L780.0 653.5L780.7 653.5L781.3 653.5L782.0 654.6L782.6 655.6L783.2 655.6L783.8 655.0L784.5 656.2L785.1 655.9L785.7 655.2L786.3 655.3L786.9 655.2L787.5 654.8L788.2 655.8L788.8 655.2L789.4 655.9L790.0 656.1L790.6 655.3L791.2 655.3L791.9 655.4L792.5 655.6L793.1 654.9L793.7 655.3L794.3 655.1L794.9 654.7L795.5 655.7L796.1 655.4L796.7 655.0L797.4 654.2L798.0 655.2L798.6 654.5L799.2 655.2L799.8 654.7L800.4 654.0L801.0 654.7L801.6 653.5L802.3 652.2L803.0 652.0L803.6 650.3L804.2 649.1L804.9 648.0L805.5 648.0L806.2 646.6L806.9 645.5L807.5 644.4L808.1 644.7L808.7 643.1L809.3 643.3L809.9 642.5L810.5 641.6L811.1 639.8L811.8 640.2L812.4 638.8L813.0 638.4L813.6 637.7L814.2 635.9L814.8 635.2L815.4 635.2L816.1 634.7L816.7 634.8L817.4 635.2L818.1 636.4L818.7 636.5L819.4 637.9L820.0 634.8L820.7 633.8L821.3 632.6L822.0 630.8L822.6 629.6L823.3 627.6L823.9 629.6L824.6 631.4L825.2 632.9L825.9 634.1L826.6 635.4L827.2 637.2L827.9 639.3L828.5 641.5L829.2 643.6L829.9 645.8L830.5 647.9L831.2 650.0L831.8 652.2L832.5 654.3L833.1 654.0L833.8 654.2L834.5 654.7L835.1 654.7L835.8 654.8L836.4 654.4L837.0 656.0L837.7 655.1L838.4 655.4L839.0 655.4L839.6 655.9L840.2 656.4L840.8 656.8L841.4 656.5L842.0 657.2L842.6 656.5L843.2 656.8L843.8 656.8L844.4 658.0L845.0 656.8L845.6 657.2L846.2 657.6L846.8 656.4L847.5 655.7L848.1 655.8L848.7 655.6L849.3 655.2L849.9 654.5L850.5 654.3L851.2 653.8L851.8 653.2L852.4 653.3L853.0 652.5L853.6 652.1L854.2 652.9L854.9 652.4L855.5 651.2L856.1 651.0L856.7 650.2L857.3 650.0L858.0 650.7L858.6 651.3L859.2 649.8L859.8 650.3L860.4 650.7L861.0 649.3L861.7 650.1L862.3 649.5L862.9 650.2L863.5 650.2L864.1 650.2L864.7 649.9L865.4 648.7L866.0 649.5L866.6 649.2L867.3 649.3L868.0 649.7L868.6 650.7L869.3 651.1L870.0 651.7L870.6 652.4L871.2 651.1L871.8 651.9L872.5 650.6L873.1 651.4L873.7 650.8L874.3 650.6L874.9 650.6L875.5 649.9L876.1 649.9L876.8 650.0L877.4 649.5L878.0 650.4L878.6 650.0L879.2 650.0L879.9 650.1L880.5 649.3L881.1 649.1L881.8 649.2L882.4 650.6L883.0 650.0L883.7 650.8L884.3 649.8L884.9 650.0L885.5 650.4L886.2 650.8L886.8 650.2L887.4 650.3L888.1 650.1L888.7 650.0L889.3 651.3L890.0 651.5L890.6 651.0L891.2 650.7L891.8 652.1L892.5 651.7L893.1 652.4L893.7 652.1L894.3 651.8L895.0 653.0L895.6 652.2L896.2 653.8L896.8 652.8L897.5 653.3L898.1 653.0L898.7 653.6L899.3 654.2L900.0 653.3L900.6 653.4L901.2 653.3L901.9 653.2L902.5 654.0L903.1 653.6L903.8 654.4L904.4 654.3L905.0 654.0L905.6 654.7L906.3 654.8L906.9 653.7L907.5 654.4L908.2 654.3L908.8 653.5L909.4 654.0L910.0 652.3L910.6 652.9L911.3 652.8L911.9 651.9L912.5 651.5L913.1 651.0L913.7 650.1L914.3 649.2L914.9 649.2L915.6 648.6L916.2 648.9L916.8 648.6L917.4 648.3L918.0 646.9L918.7 647.4L919.3 647.1L919.9 645.3L920.6 645.8L921.2 644.7L921.8 644.3L922.5 644.5L923.1 644.6L923.7 643.4L924.3 643.2L925.0 643.1L925.6 642.9L926.2 641.8L926.9 641.5L927.5 640.9L928.1 641.1L928.8 641.9L929.5 640.4L930.1 641.0L930.8 640.5L931.4 640.6L932.0 640.2L932.7 638.8L933.4 638.9L934.0 639.4L934.6 639.6L935.3 640.5L935.9 639.7L936.6 641.4L937.2 641.2L937.8 642.4L938.5 642.5L939.1 642.7L939.8 643.4L940.4 643.1L941.0 645.5L941.6 646.4L942.2 646.9L942.9 647.8L943.5 648.9L944.1 649.4L944.7 650.0L945.3 650.5L946.0 650.8L946.6 650.5L947.3 650.2L947.9 649.0L948.6 649.1L949.2 648.9L949.9 649.2L950.5 649.5L951.1 649.6L951.7 650.1L952.3 650.4L952.9 650.5L953.5 651.2L954.1 652.9L954.7 653.3L955.3 653.5L955.9 654.1L956.5 653.9L957.1 654.1L957.7 654.6L958.4 654.6L959.0 654.8L959.7 656.0L960.3 655.3L961.0 654.6L961.6 654.4L962.3 654.2L962.9 654.1L963.6 654.2L964.2 654.5L964.9 654.1L965.5 653.9L966.1 654.1L966.7 652.9L967.4 652.5L968.0 653.1L968.6 651.9L969.2 652.0L969.8 651.0L970.4 651.3L971.0 649.8L971.7 649.8L972.3 650.3L972.9 649.0L973.5 649.1L974.1 648.4L974.7 648.2L975.3 648.6L976.0 648.6L976.6 647.9L977.2 648.6L977.8 648.4L978.4 648.3L979.0 648.9L979.6 649.0L980.3 648.2L980.9 648.0L981.5 648.7L982.1 648.6L982.7 648.0L983.3 647.9L983.9 647.3L984.5 647.7L985.1 647.2L985.7 647.4L986.4 646.3L987.0 645.7L987.6 646.8L988.2 646.1L988.8 646.2L989.4 645.9L990.0 645.7L990.6 645.7L991.3 647.2L992.0 647.4L992.6 647.8L993.2 648.0L993.9 648.6L994.5 649.4L995.2 650.2L995.9 650.9L996.5 652.0L997.1 652.8L997.7 652.4L998.3 652.9L998.9 652.1L999.5 653.4L1000.1 653.4L1000.7 654.1L1001.3 653.7L1001.9 654.4L1002.6 654.5L1003.2 655.1L1003.8 654.9L1004.4 655.7L1005.0 656.1L1005.6 655.8L1006.2 656.0L1006.8 656.6L1007.4 656.6L1008.0 657.6L1008.6 657.5L1009.2 656.7L1009.8 657.0L1010.4 656.0L1011.0 657.3L1011.6 656.8L1012.2 655.8L1012.8 655.7L1013.4 657.0L1014.1 656.9L1014.7 656.6L1015.3 656.2L1015.9 655.9L1016.5 656.3L1017.1 656.9L1017.7 656.4L1018.3 655.4L1018.9 655.7L1019.5 655.4L1020.1 656.5L1020.8 656.2L1021.4 656.1L1022.0 655.1L1022.7 654.7L1023.3 654.0L1023.9 654.1L1024.5 654.1L1025.2 653.9L1025.8 653.6L1026.4 654.0L1027.1 654.0L1027.7 653.0L1028.3 653.5L1029.0 652.4L1029.6 652.1L1030.2 652.9L1030.8 651.6L1031.4 651.5L1032.1 652.9L1032.7 652.0L1033.3 651.8L1033.9 652.2L1034.5 652.3L1035.1 651.4L1035.7 652.0L1036.4 650.8L1037.0 651.9L1037.6 651.1L1038.2 650.9L1038.8 650.2L1039.4 650.2L1040.0 650.6L1040.7 650.1L1041.3 650.9L1041.9 651.3L1042.5 650.1L1043.1 651.1L1043.7 651.1L1044.3 651.4L1044.9 651.9L1045.5 651.7L1046.1 652.5L1046.7 651.7L1047.3 652.8L1047.9 652.8L1048.6 652.5L1049.2 652.9L1049.8 654.3L1050.4 654.0L1051.0 654.1L1051.6 654.3L1052.2 655.2L1052.8 655.1L1053.4 654.7L1054.0 656.1L1054.6 656.1L1055.2 656.1L1055.8 656.0L1056.5 656.1L1057.1 655.6L1057.7 656.8L1058.3 656.5L1058.9 655.7L1059.5 656.8L1060.1 656.3L1060.8 655.8L1061.4 657.3L1062.0 656.3L1062.6 656.7L1063.2 656.3L1063.8 657.1L1064.4 657.2L1065.1 657.8L1065.7 658.1L1066.3 658.1L1066.9 657.9L1067.6 657.1L1068.2 657.6L1068.9 656.2L1069.5 656.0L1070.2 656.1L1070.8 655.4L1071.5 655.4L1072.1 654.4L1072.8 654.2L1073.4 653.6L1074.1 653.9L1074.7 653.5L1075.3 654.4L1075.9 653.4L1076.5 653.3L1077.1 654.0L1077.7 653.1L1078.3 654.1L1078.9 653.5L1079.5 652.9L1080.1 653.7L1080.7 654.1L1081.3 652.9L1081.9 653.3L1082.5 653.2L1083.1 653.8L1083.7 653.8L1084.3 652.2L1084.9 652.7L1085.5 653.3L1086.1 652.6L1086.7 652.7L1087.3 652.7L1087.9 651.8L1088.5 652.5" fill="none" stroke="#111" stroke-width="1.9" stroke-linejoin="round"/>
<path d="M97.9 645.8L98.6 648.2L99.2 646.8L99.8 646.9L100.5 647.3L101.2 647.8L101.8 648.2L102.4 645.9L103.1 647.5L103.8 646.4L104.4 648.7L105.1 650.2L105.8 650.0L106.4 650.4L107.1 652.5L107.7 652.8L108.4 654.2L109.1 653.6L109.7 653.4L110.4 655.0L111.0 654.9L111.7 654.1L112.3 654.9L113.0 657.7L113.6 657.3L114.2 656.1L114.9 658.6L115.5 659.1L116.2 657.6L116.8 660.4L117.4 658.2L118.1 659.3L118.7 660.0L119.3 659.5L119.9 659.2L120.5 659.7L121.1 660.2L121.8 661.2L122.4 661.1L123.0 661.6L123.6 661.2L124.2 660.4L124.8 660.1L125.5 661.8L126.1 662.0L126.7 660.3L127.3 661.6L127.9 660.4L128.5 659.5L129.1 660.6L129.7 661.7L130.3 660.7L131.0 661.4L131.6 661.4L132.2 661.2L132.8 659.8L133.4 661.5L134.0 659.1L134.6 660.2L135.2 658.4L135.8 658.6L136.4 659.3L137.0 658.5L137.6 658.3L138.2 656.4L138.9 655.7L139.5 654.0L140.1 654.3L140.7 654.8L141.3 652.6L141.9 653.3L142.5 651.2L143.1 652.3L143.7 650.3L144.3 652.2L144.9 649.6L145.5 649.3L146.1 650.4L146.8 650.7L147.4 650.3L148.0 649.2L148.6 649.8L149.2 648.1L149.8 648.2L150.4 647.8L151.1 647.2L151.7 646.3L152.3 646.4L153.0 647.0L153.7 646.8L154.3 645.6L155.0 646.0L155.6 644.8L156.2 645.8L156.9 643.1L157.6 646.0L158.2 647.1L158.9 646.9L159.6 647.8L160.2 649.5L160.9 647.9L161.5 648.5L162.2 650.4L162.8 652.3L163.5 653.1L164.1 654.3L164.8 655.4L165.4 656.8L166.1 659.3L166.7 657.2L167.3 659.1L167.9 657.7L168.6 660.0L169.2 658.6L169.8 660.4L170.4 659.2L171.0 660.3L171.6 660.2L172.2 661.7L172.8 660.5L173.5 660.9L174.1 661.1L174.7 660.6L175.3 662.7L175.9 661.1L176.6 660.7L177.2 660.9L177.8 662.5L178.4 663.1L179.1 662.3L179.7 663.4L180.3 661.4L180.9 663.4L181.6 663.1L182.2 661.7L182.8 661.4L183.4 662.4L184.1 662.5L184.7 662.8L185.3 663.5L185.9 662.2L186.6 662.4L187.2 662.7L187.8 662.3L188.4 663.2L189.1 663.7L189.7 662.9L190.3 662.1L190.9 663.4L191.5 661.2L192.2 662.9L192.8 661.9L193.4 660.4L194.0 659.4L194.6 661.3L195.2 658.6L195.8 660.3L196.4 659.3L197.1 659.3L197.7 657.5L198.3 658.6L198.9 656.9L199.6 657.9L200.2 659.0L200.9 658.0L201.5 656.9L202.2 657.2L202.9 657.7L203.5 658.9L204.2 658.9L204.8 657.8L205.5 658.4L206.2 657.5L206.8 657.6L207.5 656.8L208.1 658.3L208.8 656.4L209.4 655.9L210.1 656.5L210.7 655.1L211.4 654.5L212.0 655.1L212.7 655.9L213.4 655.3L214.0 655.7L214.7 656.4L215.3 657.9L216.0 657.6L216.6 659.0L217.3 659.6L217.9 659.0L218.6 660.4L219.2 661.8L219.8 660.2L220.4 661.8L221.0 659.9L221.6 661.1L222.2 661.0L222.9 661.7L223.5 659.9L224.1 660.3L224.7 661.1L225.3 662.6L225.9 661.5L226.5 662.6L227.1 661.7L227.7 663.0L228.3 660.5L228.9 662.8L229.5 661.1L230.1 661.1L230.8 662.0L231.4 661.7L232.0 663.4L232.6 663.3L233.2 662.7L233.8 661.4L234.4 661.5L235.0 662.0L235.6 661.6L236.2 661.3L236.8 661.2L237.5 661.3L238.1 661.4L238.7 660.8L239.3 661.3L239.9 663.1L240.5 662.7L241.1 662.1L241.8 663.0L242.4 662.9L243.0 660.5L243.6 660.3L244.2 661.1L244.8 661.6L245.4 662.9L246.0 660.1L246.7 661.9L247.3 662.2L247.9 660.6L248.5 662.0L249.1 662.3L249.7 660.0L250.3 661.6L250.9 661.0L251.6 661.8L252.2 660.0L252.8 661.4L253.4 659.6L254.0 659.6L254.6 660.6L255.2 660.3L255.8 660.5L256.5 659.8L257.1 662.0L257.7 660.3L258.3 660.5L258.9 660.0L259.5 661.4L260.2 659.3L260.8 661.4L261.4 659.3L262.0 661.1L262.6 659.8L263.2 660.2L263.9 659.2L264.5 660.7L265.1 659.0L265.7 660.5L266.3 660.1L266.9 660.7L267.5 660.9L268.2 660.3L268.8 658.5L269.4 660.2L270.0 658.2L270.6 660.1L271.2 660.3L271.9 658.1L272.5 657.7L273.1 659.8L273.7 658.5L274.3 659.5L274.9 660.0L275.5 660.5L276.1 659.5L276.7 660.5L277.3 660.8L278.0 660.5L278.6 659.6L279.2 661.2L279.8 659.9L280.4 661.4L281.0 660.1L281.6 660.5L282.2 659.4L282.8 659.7L283.4 662.1L284.0 660.9L284.6 661.8L285.2 661.2L285.9 662.1L286.5 661.6L287.1 660.7L287.7 661.3L288.3 662.3L288.9 661.1L289.5 663.4L290.1 660.9L290.7 662.2L291.3 663.0L291.9 662.6L292.5 660.9L293.1 660.7L293.7 662.3L294.3 661.4L294.9 660.4L295.5 660.5L296.1 661.8L296.7 659.9L297.4 660.4L298.0 662.1L298.6 660.0L299.2 661.5L299.9 659.1L300.5 659.4L301.1 658.8L301.7 660.6L302.4 660.0L303.0 660.4L303.6 660.3L304.2 659.9L304.9 658.0L305.5 658.9L306.1 657.5L306.7 659.5L307.4 658.2L308.0 658.3L308.6 659.3L309.2 659.3L309.8 657.9L310.4 657.0L311.0 658.0L311.6 657.7L312.2 655.6L312.9 656.0L313.5 657.1L314.1 656.9L314.7 656.4L315.3 654.9L315.9 653.7L316.5 655.4L317.1 653.0L317.7 653.6L318.3 652.6L318.9 653.4L319.5 651.6L320.1 651.1L320.7 652.0L321.3 651.2L321.9 651.4L322.5 648.5L323.1 648.1L323.8 650.2L324.4 650.4L325.1 652.2L325.7 651.6L326.4 651.1L327.0 652.9L327.7 652.9L328.3 655.1L329.0 655.8L329.6 656.6L330.2 654.7L330.8 656.1L331.4 655.2L332.0 657.6L332.6 655.4L333.2 656.9L333.9 657.3L334.5 656.0L335.1 657.2L335.7 656.1L336.3 656.0L336.9 656.8L337.5 656.4L338.1 657.5L338.7 658.3L339.3 659.0L339.9 657.2L340.5 657.9L341.1 658.6L341.7 657.6L342.3 657.7L342.9 657.9L343.5 659.3L344.1 658.1L344.7 659.3L345.4 657.6L346.0 658.1L346.6 658.2L347.2 658.1L347.8 657.9L348.4 658.7L349.0 659.9L349.6 659.6L350.2 660.6L350.8 658.8L351.4 658.8L352.0 658.7L352.6 659.5L353.2 658.5L353.8 659.9L354.4 658.3L355.1 656.7L355.7 657.5L356.3 656.7L356.9 655.5L357.5 655.3L358.1 655.7L358.8 656.1L359.4 654.5L360.0 653.0L360.6 651.8L361.2 652.1L361.8 651.3L362.5 651.3L363.1 650.8L363.7 649.8L364.3 649.1L364.9 650.9L365.5 650.7L366.1 649.7L366.7 649.9L367.3 648.6L368.0 648.8L368.6 647.6L369.2 647.9L369.8 648.1L370.4 647.3L371.0 647.3L371.6 646.4L372.2 645.3L372.8 646.3L373.4 646.2L374.0 644.0L374.6 643.5L375.2 642.7L375.9 643.1L376.5 642.6L377.1 642.3L377.7 641.9L378.3 641.9L378.9 641.2L379.5 643.1L380.1 641.0L380.7 641.3L381.4 644.3L382.0 643.2L382.6 644.6L383.2 643.9L383.8 643.4L384.4 643.9L385.1 646.8L385.7 644.8L386.3 646.4L386.9 646.3L387.5 647.8L388.1 647.5L388.8 649.1L389.4 647.9L390.0 649.2L390.6 652.0L391.3 652.2L391.9 654.9L392.6 653.9L393.2 657.7L393.9 657.9L394.5 659.6L395.1 658.8L395.8 657.6L396.4 659.1L397.0 657.4L397.6 658.5L398.3 659.1L398.9 657.5L399.5 657.3L400.1 659.5L400.8 657.7L401.4 659.3L402.0 658.6L402.6 657.8L403.3 659.7L403.9 658.4L404.5 658.1L405.1 659.9L405.8 660.2L406.4 658.4L407.0 660.2L407.6 657.4L408.2 658.9L408.8 658.0L409.5 656.6L410.1 656.6L410.7 656.0L411.3 656.6L411.9 655.5L412.5 655.2L413.1 655.4L413.7 654.1L414.4 653.0L415.0 653.8L415.6 654.4L416.2 652.3L416.8 652.0L417.4 653.4L418.1 650.9L418.7 652.7L419.3 650.5L419.9 649.9L420.5 650.9L421.1 651.0L421.8 649.4L422.4 648.5L423.0 647.7L423.6 647.0L424.2 648.5L424.8 648.2L425.5 646.7L426.1 646.7L426.7 647.1L427.3 646.7L427.9 646.4L428.5 646.7L429.1 644.6L429.7 646.3L430.4 645.1L431.0 644.0L431.6 644.7L432.2 643.4L432.8 643.4L433.4 644.3L434.0 644.0L434.7 643.7L435.3 644.6L436.0 645.0L436.6 644.0L437.3 643.4L437.9 646.1L438.6 644.0L439.2 645.3L439.9 644.7L440.5 646.2L441.2 647.2L441.8 645.8L442.4 647.8L443.0 648.3L443.6 649.7L444.2 651.1L444.8 651.1L445.4 650.1L446.0 651.6L446.6 652.7L447.2 652.5L447.8 655.2L448.4 654.5L449.0 655.2L449.6 654.3L450.2 654.8L450.8 655.1L451.4 652.7L452.0 653.3L452.6 652.3L453.3 651.2L453.9 651.7L454.5 651.9L455.1 651.4L455.7 652.0L456.3 650.7L456.9 650.9L457.5 650.6L458.1 650.7L458.8 651.5L459.4 651.7L460.0 651.6L460.6 650.7L461.2 650.8L461.9 652.7L462.5 650.5L463.1 651.8L463.7 653.3L464.4 652.0L465.0 652.8L465.6 652.7L466.2 653.7L466.8 654.5L467.5 652.6L468.1 653.8L468.7 655.3L469.3 653.8L469.9 655.1L470.5 652.9L471.2 653.3L471.8 652.1L472.4 653.8L473.0 652.4L473.6 653.1L474.2 652.5L474.8 651.0L475.4 652.4L476.1 650.0L476.7 652.1L477.3 651.5L477.9 650.4L478.6 647.8L479.3 645.1L480.0 642.5L480.6 638.5L481.3 634.6L482.0 630.7L482.6 626.0L483.3 626.3L483.9 625.0L484.6 624.7L485.3 625.4L485.9 623.3L486.6 622.8L487.2 624.8L487.9 626.7L488.6 628.7L489.2 630.7L489.9 632.6L490.5 634.6L491.2 628.9L491.8 623.3L492.5 617.6L493.1 621.3L493.8 624.9L494.4 628.6L495.1 632.2L495.7 635.9L496.4 638.4L497.0 640.8L497.7 643.3L498.4 645.8L499.0 648.2L499.7 650.7L500.3 653.1L501.0 655.8L501.6 654.5L502.2 654.6L502.9 655.9L503.5 655.9L504.1 657.5L504.7 656.6L505.3 657.6L506.0 656.9L506.6 658.0L507.2 656.5L507.8 655.8L508.5 657.9L509.1 657.8L509.7 656.7L510.3 656.9L510.9 657.7L511.6 659.0L512.2 658.5L512.8 658.0L513.4 658.5L514.0 658.0L514.7 658.2L515.3 657.7L515.9 659.3L516.5 657.5L517.1 659.0L517.8 657.9L518.4 658.1L519.0 660.0L519.6 660.4L520.3 659.5L520.9 660.9L521.5 660.3L522.1 659.9L522.7 660.2L523.4 658.6L524.0 659.0L524.6 660.9L525.3 658.6L525.9 659.1L526.6 655.8L527.2 654.7L527.9 653.3L528.6 654.1L529.2 651.8L529.9 649.7L530.5 647.6L531.2 647.5L531.8 644.3L532.5 645.1L533.1 641.5L533.8 644.8L534.4 646.7L535.1 646.7L535.7 649.1L536.4 650.9L537.0 649.7L537.6 648.9L538.2 649.7L538.8 647.3L539.4 647.5L540.0 645.4L540.7 646.3L541.3 646.9L541.9 644.6L542.5 645.0L543.1 643.2L543.7 642.8L544.3 642.2L544.9 644.5L545.5 643.8L546.1 643.9L546.7 646.3L547.3 647.3L547.9 648.2L548.6 648.8L549.2 649.2L549.8 651.3L550.4 650.9L551.0 651.8L551.6 652.5L552.2 653.1L552.9 653.9L553.5 655.7L554.2 655.4L554.8 656.0L555.5 655.8L556.1 656.4L556.8 658.0L557.4 659.2L558.1 657.4L558.7 659.4L559.3 660.2L560.0 659.1L560.6 660.1L561.2 658.1L561.8 659.9L562.5 658.0L563.1 658.3L563.7 658.0L564.4 657.8L565.0 660.0L565.6 658.8L566.2 658.9L566.9 660.0L567.5 658.7L568.1 660.4L568.8 658.6L569.4 660.8L570.0 660.5L570.6 659.5L571.3 660.8L571.9 660.6L572.5 661.1L573.2 659.5L573.9 660.1L574.5 660.0L575.1 660.6L575.8 661.2L576.5 662.3L577.1 661.0L577.7 660.8L578.3 659.2L578.9 658.8L579.5 656.8L580.1 657.3L580.7 656.7L581.4 655.8L582.0 655.7L582.6 653.9L583.2 652.3L583.8 653.4L584.4 651.0L585.0 649.5L585.6 649.5L586.3 649.1L587.0 647.0L587.6 646.0L588.2 644.6L588.9 645.0L589.5 643.6L590.2 643.9L590.9 641.2L591.5 641.5L592.2 642.2L592.9 644.3L593.5 646.0L594.2 649.5L594.8 649.8L595.4 649.1L596.0 650.3L596.7 650.3L597.3 650.6L597.9 650.0L598.5 649.6L599.1 649.6L599.7 650.7L600.3 649.4L600.9 649.3L601.6 651.5L602.2 651.4L602.8 650.7L603.4 651.3L604.0 649.7L604.6 652.2L605.2 652.2L605.8 651.8L606.4 652.3L607.0 653.9L607.6 655.1L608.2 655.1L608.8 653.6L609.4 655.6L610.0 655.4L610.6 655.6L611.2 655.7L611.9 657.9L612.5 657.7L613.2 658.7L613.9 659.9L614.5 661.7L615.2 660.7L615.8 662.3L616.5 663.2L617.1 663.3L617.8 663.4L618.4 661.5L619.0 663.1L619.6 660.8L620.3 661.7L620.9 662.3L621.5 662.6L622.1 660.8L622.8 661.6L623.4 661.5L624.0 659.5L624.6 661.3L625.3 661.4L625.9 659.2L626.5 659.6L627.1 659.7L627.8 661.0L628.4 660.9L629.0 658.5L629.6 658.9L630.3 658.0L630.9 657.6L631.5 657.9L632.1 659.8L632.8 659.6L633.4 657.4L634.0 658.5L634.6 658.3L635.3 657.7L635.9 658.6L636.5 656.3L637.1 656.7L637.8 656.1L638.4 658.2L639.0 657.7L639.6 656.6L640.3 655.4L640.9 657.4L641.5 657.0L642.1 657.1L642.8 657.2L643.4 656.2L644.0 655.6L644.6 656.5L645.2 654.6L645.8 656.6L646.4 655.2L647.0 655.6L647.6 656.8L648.2 654.4L648.8 655.4L649.4 656.8L650.0 655.6L650.6 657.1L651.2 656.6L651.8 655.3L652.4 656.0L653.0 655.7L653.6 656.6L654.2 656.7L654.8 656.2L655.4 655.0L656.0 657.2L656.6 655.4L657.2 656.7L657.8 657.3L658.4 656.4L659.1 655.3L659.7 656.8L660.3 655.6L660.9 655.9L661.6 656.1L662.2 656.1L662.8 657.3L663.4 657.9L664.1 657.1L664.7 658.7L665.3 656.3L665.9 657.1L666.6 657.2L667.2 657.9L667.8 658.3L668.4 657.3L669.1 657.8L669.7 657.8L670.3 657.8L670.9 657.2L671.5 659.3L672.1 657.5L672.8 658.9L673.4 658.5L674.0 659.3L674.6 660.3L675.2 660.8L675.8 661.2L676.4 660.8L677.0 660.0L677.7 659.5L678.3 660.1L678.9 662.4L679.5 661.2L680.1 661.2L680.7 661.2L681.3 661.2L682.0 660.8L682.6 661.1L683.2 661.7L683.8 661.7L684.4 660.7L685.0 660.9L685.6 660.7L686.3 662.0L686.9 662.5L687.5 663.2L688.1 661.9L688.7 662.1L689.3 662.2L690.0 661.1L690.6 660.6L691.2 659.1L691.8 660.2L692.4 659.9L693.1 658.3L693.7 658.9L694.3 657.2L694.9 656.5L695.6 656.7L696.2 656.9L696.8 656.1L697.4 655.3L698.0 656.8L698.7 655.7L699.3 654.1L699.9 653.1L700.5 654.5L701.1 654.8L701.7 653.9L702.3 653.4L702.9 653.8L703.5 652.7L704.1 650.8L704.7 651.4L705.3 650.8L705.9 651.0L706.5 649.4L707.1 652.2L707.8 653.8L708.5 654.0L709.1 656.4L709.8 657.0L710.4 659.4L711.0 658.9L711.6 660.3L712.2 658.9L712.8 657.8L713.5 657.9L714.1 659.7L714.7 658.1L715.3 660.0L715.9 659.3L716.5 658.9L717.1 659.2L717.7 660.4L718.3 659.6L719.0 659.3L719.6 659.5L720.2 659.9L720.8 659.6L721.4 660.3L722.0 659.5L722.6 659.2L723.2 658.8L723.8 659.8L724.4 659.1L725.1 659.2L725.7 659.1L726.3 659.7L726.9 661.3L727.5 660.2L728.1 659.5L728.7 660.1L729.4 660.0L730.0 658.8L730.6 660.9L731.2 660.0L731.9 661.4L732.5 660.3L733.1 659.2L733.7 661.3L734.4 658.8L735.0 658.9L735.6 658.8L736.2 658.8L736.9 658.7L737.5 660.9L738.1 658.7L738.7 659.7L739.4 658.7L740.0 659.1L740.6 658.5L741.2 658.9L741.8 658.4L742.4 659.3L743.0 659.8L743.6 657.2L744.2 657.7L744.9 657.8L745.5 658.5L746.1 655.6L746.7 657.0L747.3 656.0L747.9 656.0L748.5 656.2L749.1 655.9L749.7 654.7L750.3 655.6L750.9 654.7L751.5 653.4L752.1 653.0L752.8 652.7L753.4 654.1L754.0 653.9L754.6 651.7L755.2 652.6L755.8 650.8L756.4 651.7L757.0 648.3L757.7 644.9L758.3 641.4L759.0 638.0L759.6 634.6L760.3 632.3L761.0 630.0L761.6 627.7L762.3 625.4L762.9 628.5L763.6 631.5L764.2 633.4L764.9 635.3L765.5 635.1L766.2 634.9L766.9 635.1L767.5 635.3L768.2 635.2L768.8 635.1L769.5 637.1L770.1 636.5L770.8 639.8L771.5 640.4L772.1 642.8L772.8 643.7L773.4 645.8L774.1 648.9L774.7 649.1L775.3 651.0L775.9 652.4L776.5 653.2L777.1 652.7L777.7 654.4L778.3 655.0L779.0 657.2L779.6 658.3L780.2 658.3L780.8 659.7L781.4 659.6L782.0 662.0L782.6 662.1L783.2 662.6L783.8 660.6L784.4 662.1L785.0 662.1L785.6 662.2L786.2 662.8L786.9 660.9L787.5 660.6L788.1 661.9L788.7 661.0L789.3 663.1L789.9 663.0L790.5 661.8L791.1 662.7L791.7 662.2L792.3 663.1L792.9 662.1L793.5 661.2L794.1 663.4L794.8 661.4L795.4 661.0L796.0 662.9L796.6 662.5L797.2 663.2L797.8 661.4L798.4 663.4L799.0 662.5L799.6 661.4L800.2 659.0L800.8 660.5L801.4 658.8L802.0 657.5L802.6 657.5L803.2 658.6L803.8 656.2L804.4 656.0L805.0 656.6L805.6 655.5L806.2 653.9L806.8 653.2L807.4 653.2L808.1 652.6L808.7 652.5L809.3 651.6L809.9 649.7L810.5 651.0L811.1 650.2L811.8 648.7L812.4 647.1L813.0 647.4L813.6 647.9L814.2 645.6L814.8 645.1L815.5 645.6L816.1 645.1L816.7 644.7L817.3 642.8L817.9 643.0L818.5 640.9L819.1 639.7L819.7 640.8L820.4 638.8L821.0 639.9L821.6 637.6L822.2 637.0L822.8 637.7L823.4 634.7L824.0 635.3L824.6 637.3L825.3 639.2L825.9 641.2L826.6 643.2L827.2 645.2L827.9 647.1L828.5 649.1L829.2 651.2L829.8 653.2L830.5 655.3L831.2 657.4L831.8 659.4L832.5 662.8L833.1 661.0L833.7 660.2L834.4 661.0L835.0 660.4L835.6 660.8L836.2 661.5L836.9 661.7L837.5 660.6L838.1 662.9L838.7 660.5L839.4 660.4L840.0 660.9L840.6 660.1L841.2 662.6L841.9 660.5L842.5 660.1L843.1 661.8L843.7 661.1L844.4 660.4L845.0 661.4L845.6 660.6L846.2 660.2L846.8 661.3L847.5 660.5L848.1 660.7L848.7 661.0L849.3 662.3L850.0 661.2L850.6 661.0L851.2 660.1L851.8 660.5L852.5 659.8L853.1 661.4L853.7 661.5L854.3 661.2L855.0 659.9L855.6 660.7L856.2 659.4L856.8 660.7L857.5 661.0L858.1 658.8L858.7 658.4L859.3 660.8L859.9 659.4L860.6 659.8L861.2 659.8L861.8 659.5L862.4 657.3L863.0 657.5L863.6 657.7L864.3 658.9L864.9 658.3L865.5 656.7L866.1 656.3L866.7 657.9L867.3 657.9L868.0 655.4L868.6 656.0L869.2 655.2L869.9 656.6L870.5 655.9L871.2 657.4L871.9 657.3L872.5 657.5L873.2 660.5L873.8 658.7L874.5 661.4L875.1 660.6L875.8 659.3L876.4 659.1L877.0 658.9L877.7 658.4L878.3 659.0L879.0 657.5L879.6 658.6L880.2 658.1L880.9 657.0L881.5 658.9L882.1 657.1L882.7 658.2L883.3 658.5L884.0 658.7L884.6 658.3L885.2 658.1L885.8 658.1L886.4 659.1L887.0 657.3L887.6 658.8L888.3 659.6L888.9 658.7L889.5 658.9L890.1 659.5L890.7 659.9L891.3 658.7L891.9 659.6L892.6 660.3L893.2 659.8L893.8 658.8L894.4 661.1L895.0 659.4L895.6 660.3L896.2 658.7L896.9 660.6L897.5 660.4L898.1 661.4L898.7 659.6L899.3 659.0L900.0 659.7L900.6 659.9L901.2 660.6L901.9 659.4L902.5 660.6L903.1 660.8L903.8 658.4L904.4 661.0L905.0 658.3L905.6 658.8L906.3 658.2L906.9 660.1L907.5 660.4L908.2 658.4L908.8 659.2L909.4 660.0L910.0 659.1L910.6 657.4L911.2 657.7L911.8 658.6L912.4 658.2L913.0 656.8L913.6 656.8L914.2 655.1L914.9 655.7L915.5 656.5L916.1 654.0L916.7 654.2L917.3 654.9L917.9 653.1L918.5 653.2L919.1 654.5L919.7 652.6L920.3 653.2L920.9 654.2L921.5 652.8L922.2 653.0L922.8 651.1L923.4 652.1L924.0 651.9L924.7 651.6L925.3 651.3L925.9 649.9L926.5 651.3L927.1 650.3L927.8 651.0L928.4 649.6L929.0 651.2L929.6 649.7L930.3 650.5L930.9 649.4L931.5 648.5L932.1 648.7L932.8 648.0L933.4 648.5L934.0 647.8L934.6 648.1L935.3 650.7L935.9 651.2L936.5 650.4L937.1 651.1L937.8 652.4L938.4 652.4L939.0 652.4L939.7 653.2L940.3 654.6L940.9 653.1L941.6 654.6L942.2 654.2L942.8 656.1L943.4 655.2L944.1 656.9L944.7 656.6L945.3 656.8L946.0 658.1L946.6 655.7L947.3 655.6L947.9 656.4L948.6 654.4L949.2 654.0L949.9 654.2L950.5 654.3L951.1 653.6L951.7 654.2L952.3 654.1L953.0 655.2L953.6 656.0L954.2 657.0L954.8 656.6L955.4 657.7L956.0 658.9L956.6 658.0L957.3 659.6L957.9 660.2L958.5 661.1L959.1 661.1L959.7 660.7L960.3 660.6L960.9 659.8L961.5 661.2L962.1 659.2L962.7 659.6L963.3 658.8L963.9 659.8L964.5 660.9L965.2 660.1L965.8 658.2L966.4 660.6L967.0 658.2L967.6 658.5L968.2 659.2L968.8 657.9L969.4 660.0L970.0 659.6L970.6 660.3L971.2 659.1L971.8 658.2L972.4 657.3L973.1 657.3L973.7 657.8L974.3 658.1L974.9 656.0L975.5 656.6L976.1 656.7L976.7 655.2L977.4 656.2L978.0 654.7L978.6 654.6L979.2 653.9L979.8 656.3L980.5 654.1L981.1 655.1L981.8 656.3L982.4 656.3L983.1 655.9L983.7 657.0L984.4 657.2L985.0 657.7L985.6 656.8L986.2 655.4L986.9 656.2L987.5 654.6L988.1 655.3L988.8 653.3L989.4 654.2L990.0 651.8L990.6 653.7L991.3 655.4L992.0 654.3L992.6 656.5L993.2 656.6L993.9 655.9L994.5 658.3L995.2 658.5L995.9 658.4L996.5 661.3L997.1 661.1L997.7 661.8L998.3 659.7L999.0 660.4L999.6 661.1L1000.2 660.6L1000.8 660.1L1001.4 660.9L1002.0 661.1L1002.6 661.4L1003.3 661.4L1003.9 661.4L1004.5 661.7L1005.1 662.4L1005.7 661.2L1006.3 662.0L1006.9 663.1L1007.6 663.0L1008.2 663.2L1008.8 663.7L1009.4 662.5L1010.0 663.6L1010.6 663.6L1011.2 662.5L1011.9 663.7L1012.5 663.1L1013.1 663.4L1013.7 662.3L1014.3 663.9L1015.0 662.7L1015.6 662.9L1016.2 663.1L1016.8 663.7L1017.5 664.3L1018.1 663.9L1018.7 663.3L1019.3 662.2L1020.0 662.8L1020.6 663.0L1021.2 662.2L1021.8 663.7L1022.5 661.9L1023.1 662.5L1023.7 663.7L1024.3 661.5L1025.0 662.0L1025.6 663.3L1026.2 663.3L1026.8 661.9L1027.5 662.5L1028.1 662.1L1028.7 660.6L1029.3 662.8L1029.9 662.6L1030.5 662.6L1031.1 660.5L1031.7 661.3L1032.3 661.9L1032.9 661.9L1033.5 661.8L1034.1 659.4L1034.7 661.1L1035.3 660.0L1035.9 659.3L1036.5 660.2L1037.1 658.9L1037.7 659.4L1038.3 659.7L1038.9 659.4L1039.5 659.1L1040.1 659.4L1040.7 659.4L1041.3 658.3L1041.9 658.4L1042.5 658.5L1043.1 657.8L1043.7 659.4L1044.3 660.7L1044.9 659.0L1045.5 661.0L1046.1 659.7L1046.7 660.1L1047.3 661.2L1047.9 660.4L1048.5 660.8L1049.1 662.1L1049.7 659.9L1050.3 661.2L1050.9 661.0L1051.5 661.7L1052.1 662.0L1052.7 662.6L1053.3 661.6L1053.9 663.6L1054.5 663.8L1055.1 663.5L1055.7 663.2L1056.3 663.9L1056.9 662.1L1057.5 663.8L1058.1 663.4L1058.7 663.2L1059.3 664.3L1059.9 663.5L1060.5 665.1L1061.1 663.0L1061.7 663.6L1062.3 664.3L1063.0 663.4L1063.6 663.5L1064.2 665.2L1064.8 664.1L1065.4 663.9L1066.0 665.6L1066.6 666.2L1067.2 665.6L1067.8 665.7L1068.4 664.9L1069.0 666.3L1069.7 665.7L1070.3 665.4L1070.9 664.3L1071.5 663.1L1072.2 663.5L1072.8 662.9L1073.4 663.3L1074.0 661.6L1074.7 661.5L1075.3 662.1L1075.9 660.7L1076.5 660.4L1077.2 661.2L1077.8 660.6L1078.4 661.3L1079.0 661.5L1079.7 660.1L1080.3 660.1L1080.9 659.3L1081.6 659.6L1082.2 658.7L1082.8 659.9L1083.5 658.6L1084.1 657.7L1084.7 657.9L1085.3 658.9L1086.0 656.4L1086.6 658.9L1087.2 657.9L1087.9 657.0L1088.5 656.8" fill="none" stroke="#22a222" stroke-width="2.4" stroke-linejoin="round"/>
<rect x="91.4" y="392.3" width="1002.5" height="300.6" fill="none" stroke="#555" stroke-width="1.3"/>
<line x1="91.4" y1="663.0" x2="93.4" y2="663.0" stroke="#111" stroke-width="1.6"/>
<line x1="91.4" y1="603.0" x2="93.4" y2="603.0" stroke="#111" stroke-width="1.6"/>
<line x1="91.4" y1="543.0" x2="93.4" y2="543.0" stroke="#111" stroke-width="1.6"/>
<line x1="91.4" y1="483.0" x2="93.4" y2="483.0" stroke="#111" stroke-width="1.6"/>
<line x1="91.4" y1="423.0" x2="93.4" y2="423.0" stroke="#111" stroke-width="1.6"/>
<line x1="1236.5" y1="11.6" x2="1236.5" y2="312.2" stroke="#d2d2d2" stroke-width="1.3"/>
<line x1="1307.2" y1="11.6" x2="1307.2" y2="312.2" stroke="#d2d2d2" stroke-width="1.3"/>
<line x1="1377.8" y1="11.6" x2="1377.8" y2="312.2" stroke="#d2d2d2" stroke-width="1.3"/>
<line x1="1448.5" y1="11.6" x2="1448.5" y2="312.2" stroke="#d2d2d2" stroke-width="1.3"/>
<line x1="1519.1" y1="11.6" x2="1519.1" y2="312.2" stroke="#d2d2d2" stroke-width="1.3"/>
<clipPath id="c0"><rect x="1201.4" y="11.6" width="353.2" height="300.6"/></clipPath>
<g clip-path="url(#c0)">
<line x1="1201.4" y1="312.2" x2="1554.6" y2="11.6" stroke="#000" stroke-width="2.0" stroke-dasharray="4.3,5.3"/>
<line x1="1201.4" y1="305.4" x2="1534.5" y2="12" stroke="#1717c0" stroke-width="2.0"/>
<path d="M1248.5 264.3h0M1249.8 263.6h0M1247.3 261.0h0M1244.7 265.4h0M1246.6 263.3h0M1244.3 268.8h0M1248.8 257.6h0M1254.2 253.5h0M1246.4 263.7h0M1245.9 263.9h0M1250.6 267.9h0M1250.0 260.4h0M1249.0 263.8h0M1244.6 265.8h0M1248.4 261.7h0M1251.5 262.0h0M1242.8 273.7h0M1246.6 264.2h0M1240.5 272.9h0M1243.0 269.4h0M1240.7 272.3h0M1247.5 265.5h0M1243.1 275.3h0M1249.7 258.9h0M1249.2 262.3h0M1247.7 261.0h0M1237.8 267.1h0M1246.2 265.6h0M1248.3 269.2h0M1249.0 265.9h0M1242.0 272.9h0M1246.5 266.9h0M1244.4 267.0h0M1245.1 272.6h0M1253.0 258.6h0M1245.1 271.2h0M1248.4 262.8h0M1252.3 260.6h0M1246.0 266.7h0M1248.0 264.2h0M1249.0 264.8h0M1248.8 265.2h0M1243.3 273.2h0M1248.8 263.4h0M1254.3 253.0h0M1242.0 263.4h0M1252.2 256.4h0M1249.0 261.0h0M1245.8 268.0h0M1257.0 251.8h0M1251.7 260.9h0M1243.4 268.3h0M1248.8 264.2h0M1251.0 261.2h0M1247.7 265.6h0M1251.4 261.3h0M1248.2 267.1h0M1251.3 262.2h0M1254.6 251.4h0M1245.6 266.3h0M1249.4 263.6h0M1246.5 263.7h0M1249.0 261.0h0M1243.5 271.4h0M1246.1 266.4h0M1247.7 261.6h0M1252.3 259.4h0M1253.4 259.0h0M1242.9 263.9h0M1245.1 268.6h0M1251.3 260.9h0M1240.1 272.6h0M1246.5 260.9h0M1248.1 269.8h0M1253.8 260.9h0M1251.4 262.6h0M1247.1 262.8h0M1246.9 263.2h0M1247.4 260.4h0M1255.0 262.6h0M1246.7 263.0h0M1247.2 265.6h0M1250.0 264.3h0M1248.0 262.4h0M1247.7 267.1h0M1243.8 274.0h0M1248.5 264.8h0M1246.6 269.8h0M1253.5 261.2h0M1251.3 260.1h0M1248.4 262.8h0M1251.3 256.4h0M1247.1 265.5h0M1253.0 264.3h0M1248.5 265.9h0M1251.0 264.2h0M1243.0 272.1h0M1250.0 261.0h0M1241.4 271.8h0M1239.9 277.1h0M1247.2 262.7h0M1244.7 267.3h0M1249.2 261.9h0M1258.0 254.9h0M1245.0 264.8h0M1245.9 265.8h0M1249.4 259.1h0M1250.6 260.5h0M1247.8 263.1h0M1247.6 263.1h0M1251.5 265.4h0M1250.7 262.2h0M1244.1 268.2h0M1248.2 263.3h0M1248.7 267.6h0M1244.0 262.6h0M1249.6 262.3h0M1244.9 270.4h0M1252.6 265.1h0M1249.3 263.7h0M1248.9 263.5h0M1246.0 268.0h0M1248.0 263.8h0M1240.0 273.0h0M1243.7 266.2h0M1250.0 264.4h0M1239.5 271.7h0M1252.1 257.5h0M1241.1 262.4h0M1251.7 263.8h0M1244.9 268.2h0M1251.8 263.2h0M1249.1 260.8h0M1242.0 272.8h0M1253.8 260.4h0M1254.6 258.3h0M1248.2 266.8h0M1247.3 267.5h0M1247.8 265.6h0M1244.4 273.5h0M1253.2 263.8h0M1246.2 266.9h0M1248.3 263.4h0M1245.1 267.1h0M1245.9 271.3h0M1243.1 269.8h0M1253.8 256.5h0M1247.9 262.5h0M1252.6 260.2h0M1248.6 266.2h0M1245.6 264.3h0M1247.1 266.6h0M1246.1 269.2h0M1248.5 266.0h0M1246.9 260.7h0M1247.2 264.1h0M1242.7 265.3h0M1245.1 268.1h0M1255.5 254.6h0M1245.7 267.9h0M1244.0 268.0h0M1249.9 254.9h0M1254.5 256.1h0M1242.3 270.5h0M1247.6 264.6h0M1245.8 265.0h0M1241.0 266.5h0M1251.6 262.3h0M1248.4 268.9h0M1248.8 264.2h0M1245.3 266.4h0M1250.4 261.6h0M1246.2 261.7h0M1247.9 263.2h0M1243.8 265.3h0M1243.4 271.4h0M1254.2 256.0h0M1246.4 259.2h0M1249.7 260.2h0M1248.4 263.0h0M1246.6 264.8h0M1246.4 260.1h0M1251.2 264.0h0M1247.2 265.1h0M1247.9 262.8h0M1248.6 261.3h0M1253.5 260.5h0M1251.4 260.1h0M1250.1 263.0h0M1246.1 265.3h0M1242.7 269.2h0M1252.5 263.5h0M1252.6 260.1h0M1247.9 261.5h0M1250.8 264.5h0M1251.8 261.4h0M1252.0 258.5h0M1252.4 263.4h0M1246.6 264.8h0M1254.9 261.1h0M1243.2 264.9h0M1252.2 253.5h0M1250.6 255.7h0M1252.2 261.0h0M1256.5 254.4h0M1254.8 257.7h0M1243.7 267.6h0M1241.4 265.3h0M1252.0 264.5h0M1244.2 264.2h0M1248.5 263.8h0M1252.1 256.3h0M1241.5 269.2h0M1239.6 273.5h0M1249.6 261.8h0M1248.7 261.2h0M1247.5 264.4h0M1248.7 262.0h0M1244.9 268.4h0M1242.1 275.7h0M1247.8 261.5h0M1244.4 265.1h0M1241.5 269.3h0M1250.7 261.5h0M1248.3 260.7h0M1250.2 263.5h0M1244.3 269.4h0M1245.7 266.6h0M1244.3 263.8h0M1244.8 271.1h0M1249.3 259.3h0M1245.2 268.4h0M1250.0 265.6h0M1250.0 258.6h0M1257.1 256.3h0M1242.6 272.7h0M1252.3 261.4h0M1248.1 261.1h0M1248.5 260.1h0M1242.4 270.3h0M1246.6 264.1h0M1251.7 258.7h0M1248.2 265.9h0M1248.9 262.2h0M1247.3 264.8h0M1253.4 260.9h0M1248.4 265.2h0M1239.2 271.6h0M1245.6 266.1h0M1240.2 272.6h0M1234.7 277.0h0M1246.3 262.2h0M1254.2 258.0h0M1248.7 260.8h0M1243.5 264.4h0M1244.5 265.4h0M1253.3 252.6h0M1249.2 265.5h0M1248.7 261.0h0M1248.3 264.8h0M1248.7 257.9h0M1251.9 255.5h0M1250.9 267.4h0M1249.4 265.7h0M1244.1 265.5h0M1250.7 259.3h0M1245.6 264.0h0M1253.1 259.7h0M1243.1 267.0h0M1247.9 262.2h0M1248.5 263.9h0M1242.9 265.5h0M1255.8 264.0h0M1254.7 256.3h0M1246.5 268.4h0M1251.8 257.9h0M1250.1 262.9h0M1237.4 276.0h0M1249.6 261.6h0M1248.3 266.6h0M1248.9 266.0h0M1243.9 272.3h0M1247.4 264.7h0M1247.8 262.8h0M1253.5 256.1h0M1249.9 262.8h0M1248.5 260.5h0M1255.0 257.9h0M1246.2 266.0h0M1246.9 263.3h0M1240.8 267.2h0M1255.2 258.8h0M1252.6 260.7h0M1252.4 260.7h0M1251.3 260.9h0M1249.0 265.9h0M1249.4 259.7h0M1247.4 265.7h0M1247.6 263.0h0M1248.7 265.9h0M1254.9 256.9h0M1250.9 260.4h0M1248.3 265.1h0M1246.1 259.7h0M1245.8 264.9h0M1255.3 252.3h0M1250.7 258.8h0M1248.8 265.3h0M1247.0 266.0h0M1243.8 266.4h0M1248.2 263.7h0M1252.2 260.2h0M1246.8 265.9h0M1247.5 269.9h0M1247.6 265.1h0M1249.0 269.9h0M1241.8 268.4h0M1247.5 266.7h0M1244.9 268.9h0M1252.3 261.0h0M1245.2 265.7h0M1251.0 265.8h0M1255.0 263.2h0M1247.2 268.0h0M1246.0 272.0h0M1249.3 265.8h0M1248.5 258.8h0M1244.3 270.5h0M1250.5 259.9h0M1257.1 260.2h0M1247.4 263.7h0M1247.7 265.3h0M1244.1 267.7h0M1249.9 260.7h0M1243.2 263.0h0M1243.8 267.2h0M1253.9 258.5h0M1244.7 269.9h0M1253.1 257.8h0M1255.0 258.7h0M1249.6 260.1h0M1250.9 261.7h0M1256.8 251.1h0M1247.7 270.3h0M1246.0 266.7h0M1242.8 266.0h0M1248.7 264.5h0M1254.8 260.5h0M1252.6 260.8h0M1244.5 271.3h0M1244.9 266.4h0M1246.4 258.2h0M1249.7 259.1h0M1247.6 267.7h0M1249.4 265.4h0M1249.8 263.7h0M1247.2 261.7h0M1248.3 266.2h0M1249.4 264.9h0M1248.2 261.3h0M1250.6 259.1h0M1256.4 257.8h0M1251.0 264.8h0M1248.7 268.0h0M1241.4 272.0h0M1250.2 268.9h0M1240.3 268.6h0M1242.5 270.8h0M1252.1 259.0h0M1251.5 255.4h0M1247.9 260.6h0M1241.3 273.4h0M1246.9 262.4h0M1245.6 262.7h0M1251.2 263.5h0M1258.1 258.0h0M1249.4 263.1h0M1245.2 271.3h0M1243.5 263.6h0M1248.3 271.0h0M1247.8 267.6h0M1243.6 268.7h0M1249.0 263.9h0M1243.6 267.4h0M1253.2 258.6h0M1253.0 260.3h0M1253.1 256.2h0M1246.5 271.8h0M1250.7 261.7h0M1248.0 266.2h0M1246.9 264.7h0M1247.1 264.2h0M1243.0 271.2h0M1242.4 270.9h0M1251.9 258.3h0M1247.7 263.3h0M1249.4 264.8h0M1252.8 253.8h0M1241.2 263.1h0M1245.2 270.9h0M1249.3 262.0h0M1250.2 254.6h0M1246.9 262.7h0M1252.9 259.1h0M1249.4 263.4h0M1243.4 269.8h0M1244.6 267.7h0M1251.9 262.3h0M1250.5 259.6h0M1240.5 271.9h0M1254.2 259.9h0M1251.0 265.0h0M1254.2 258.7h0M1246.9 267.7h0M1247.3 265.3h0M1243.7 264.7h0M1259.3 253.0h0M1247.8 262.7h0M1255.2 256.6h0M1245.8 265.8h0M1249.2 263.4h0M1241.4 270.8h0M1246.9 262.8h0M1252.7 263.2h0M1243.2 264.3h0M1253.1 259.5h0M1249.9 264.6h0M1244.1 269.0h0M1246.4 267.5h0M1246.6 264.8h0M1248.3 265.9h0M1246.2 262.2h0M1245.0 269.0h0M1247.2 271.6h0M1244.2 269.6h0M1243.0 274.4h0M1248.3 263.9h0M1252.3 257.1h0M1242.0 267.4h0M1248.5 267.6h0M1245.8 268.3h0M1244.4 261.9h0M1252.1 259.5h0M1246.3 265.5h0M1254.9 254.9h0M1245.2 259.2h0M1250.1 258.3h0M1247.5 264.0h0M1245.3 265.4h0M1251.0 259.6h0M1247.9 266.0h0M1251.1 264.5h0M1248.3 263.6h0M1243.9 270.5h0M1248.1 264.2h0M1248.7 263.1h0M1252.6 253.0h0M1244.7 269.5h0M1248.3 264.1h0M1241.2 270.5h0M1251.3 259.9h0M1243.9 264.5h0M1240.9 271.8h0M1248.3 266.3h0M1253.2 264.4h0M1242.0 272.1h0M1243.9 266.1h0M1245.4 266.2h0M1243.7 270.9h0M1250.1 263.3h0M1245.1 266.5h0M1245.5 264.8h0M1251.0 263.2h0M1245.3 267.2h0M1250.3 267.5h0M1244.4 270.7h0M1243.4 263.3h0M1240.7 277.0h0M1256.4 257.7h0M1247.2 264.1h0M1249.5 263.8h0M1248.4 266.1h0M1249.2 263.2h0M1248.7 263.4h0M1256.6 256.7h0M1244.1 273.1h0M1241.9 269.9h0M1244.2 269.9h0M1242.9 270.2h0M1251.7 260.1h0M1252.0 258.6h0M1244.4 264.5h0M1242.6 270.3h0M1247.0 262.2h0M1254.4 254.9h0M1236.6 270.7h0M1250.7 257.5h0M1244.0 268.1h0M1252.9 260.3h0M1243.9 265.2h0M1247.3 268.8h0M1242.1 268.6h0M1244.4 268.8h0M1254.4 259.5h0M1252.0 265.8h0M1246.8 267.8h0M1244.8 266.9h0M1240.5 268.0h0M1246.8 262.1h0M1248.4 264.0h0M1248.2 264.5h0M1248.1 266.5h0M1243.8 266.6h0M1248.2 264.6h0M1248.3 261.9h0M1254.0 253.5h0M1256.4 256.7h0M1247.9 268.6h0M1245.3 269.0h0M1248.2 268.2h0M1245.9 269.5h0M1245.4 262.5h0M1248.3 263.1h0M1244.1 272.1h0M1251.1 259.4h0M1248.1 260.2h0M1249.6 263.8h0M1247.7 266.3h0M1245.4 267.3h0M1244.5 266.3h0M1247.5 262.6h0M1246.2 262.1h0M1249.5 259.1h0M1248.5 260.1h0M1242.7 264.6h0M1248.8 261.4h0M1242.8 273.2h0M1245.9 266.3h0M1247.3 263.8h0M1239.7 272.5h0M1248.9 260.5h0M1249.2 264.1h0M1247.8 267.0h0M1246.7 260.9h0M1246.9 263.0h0M1244.4 266.6h0M1247.4 261.8h0M1246.2 262.5h0M1248.9 262.2h0M1243.4 275.5h0M1249.5 264.8h0M1249.1 264.4h0M1247.9 267.1h0M1246.6 264.7h0M1250.9 258.0h0M1241.5 271.3h0M1250.5 265.3h0M1249.5 256.6h0M1249.7 263.9h0M1250.1 265.9h0M1245.7 265.3h0M1247.4 263.3h0M1251.2 263.3h0M1250.3 259.6h0M1249.4 264.3h0M1242.1 272.0h0M1250.8 261.1h0M1253.5 256.9h0M1252.8 261.7h0M1249.5 261.7h0M1241.9 269.7h0M1252.5 251.6h0M1247.9 266.3h0M1237.8 268.9h0M1250.1 262.4h0M1242.2 269.6h0M1243.0 266.3h0M1245.8 263.3h0M1253.9 255.1h0M1246.9 264.0h0M1249.7 264.4h0M1255.9 258.7h0M1255.3 256.1h0M1248.1 262.3h0M1247.5 260.3h0M1243.2 267.1h0M1245.6 263.0h0M1250.3 257.5h0M1250.2 261.6h0M1249.0 267.7h0M1252.7 263.4h0M1245.2 270.8h0M1248.3 259.0h0M1251.6 263.4h0M1251.0 257.7h0M1253.1 257.9h0M1250.2 257.0h0M1247.2 261.8h0M1250.0 262.6h0M1244.3 267.9h0M1241.6 269.5h0M1251.0 260.9h0M1248.3 265.4h0M1249.8 262.6h0M1241.3 265.1h0M1247.0 270.1h0M1246.0 265.1h0M1244.8 269.6h0M1239.0 271.5h0M1247.1 262.3h0M1252.3 260.4h0M1250.1 259.9h0M1246.0 270.6h0M1248.4 260.3h0M1251.7 262.6h0M1236.8 272.0h0M1248.0 263.5h0M1250.8 269.3h0M1251.4 263.3h0M1255.7 256.6h0M1253.3 254.7h0M1249.8 261.6h0M1249.8 261.7h0M1251.8 264.9h0M1246.2 261.3h0M1248.3 258.3h0M1252.4 260.1h0M1256.8 257.0h0M1247.8 269.1h0M1248.3 261.1h0M1249.4 254.8h0M1254.2 256.4h0M1248.4 259.9h0M1254.7 256.5h0M1244.4 270.2h0M1247.7 260.3h0M1247.7 268.1h0M1251.8 261.3h0M1252.9 258.9h0M1242.1 266.6h0M1244.6 265.8h0M1249.9 261.2h0M1245.7 268.3h0M1242.1 273.2h0M1252.9 259.6h0M1250.6 263.9h0M1250.6 265.7h0M1246.5 269.2h0M1252.9 261.2h0M1247.5 270.1h0M1253.2 263.6h0M1244.6 271.9h0M1244.9 266.2h0M1249.4 261.6h0M1245.5 260.2h0M1251.4 265.6h0M1249.6 264.7h0M1244.6 264.3h0M1248.8 264.0h0M1247.0 265.9h0M1252.4 255.1h0M1245.8 267.0h0M1246.6 268.7h0M1253.6 263.0h0M1258.0 254.3h0M1257.0 255.2h0M1248.8 267.5h0M1249.4 265.7h0M1255.0 256.3h0M1248.0 262.3h0M1244.4 269.2h0M1249.0 261.3h0M1250.4 260.2h0M1245.0 272.1h0M1241.5 270.7h0M1242.4 267.7h0M1251.3 262.8h0M1245.3 272.9h0M1247.9 265.0h0M1249.4 260.6h0M1251.1 256.6h0M1247.1 271.4h0M1250.6 253.9h0M1244.7 270.3h0M1247.0 262.1h0M1244.2 263.7h0M1253.3 256.4h0M1248.4 263.3h0M1245.4 269.9h0M1247.0 263.0h0M1247.6 266.6h0M1251.5 268.6h0M1241.7 261.1h0M1244.1 265.4h0M1246.9 259.6h0M1259.2 256.9h0M1252.6 255.6h0M1248.0 259.3h0M1251.5 256.3h0M1257.2 256.0h0M1241.0 268.6h0M1245.0 268.7h0M1237.1 276.6h0M1239.1 275.3h0M1246.0 267.0h0M1241.8 275.1h0M1245.0 270.9h0M1245.3 269.1h0M1253.2 263.9h0M1250.7 264.5h0M1245.5 270.8h0M1250.4 257.1h0M1242.7 266.4h0M1244.4 268.0h0M1249.2 265.6h0M1240.9 264.9h0M1244.6 268.3h0M1240.6 273.3h0M1246.1 267.0h0M1252.0 261.8h0M1242.8 266.0h0M1246.6 267.8h0M1242.2 264.0h0M1241.2 275.6h0M1240.9 270.2h0M1251.3 267.1h0M1254.9 253.9h0M1247.6 268.0h0M1242.9 271.2h0M1248.4 262.8h0M1244.4 265.1h0M1248.8 269.8h0M1246.8 268.7h0M1246.8 272.6h0M1248.0 265.9h0M1243.4 270.8h0M1244.1 271.1h0M1239.0 276.8h0M1244.0 271.4h0M1240.2 276.0h0M1245.1 267.1h0M1242.0 266.3h0M1246.1 275.1h0M1247.4 267.4h0M1240.2 274.9h0M1242.5 269.5h0M1242.0 275.1h0M1248.6 266.5h0M1252.3 266.4h0M1249.0 263.1h0M1244.3 269.3h0M1251.4 264.1h0M1239.8 272.3h0M1251.5 264.3h0M1243.1 276.3h0M1234.9 275.9h0M1256.0 258.4h0M1251.8 263.7h0M1241.7 268.5h0M1246.3 263.5h0M1244.9 273.2h0M1246.1 271.0h0M1239.9 268.0h0M1243.0 265.7h0M1247.5 269.6h0M1246.5 272.0h0M1250.3 266.7h0M1246.0 270.0h0M1254.8 266.2h0M1242.9 270.8h0M1246.7 272.2h0M1238.2 279.4h0M1240.8 269.5h0M1250.8 266.4h0M1242.0 272.0h0M1247.7 264.4h0M1245.4 265.8h0M1241.6 273.3h0M1244.3 269.5h0M1243.7 273.2h0M1243.8 263.9h0M1248.6 263.6h0M1248.2 270.2h0M1243.4 270.5h0M1242.2 269.0h0M1246.8 265.8h0M1245.3 262.3h0M1249.7 260.0h0M1256.0 261.4h0M1249.0 265.9h0M1245.5 273.2h0M1245.0 268.2h0M1242.4 270.9h0M1242.2 261.9h0M1241.8 271.6h0M1244.1 277.4h0M1244.0 272.4h0M1248.6 265.5h0M1244.1 274.4h0M1244.9 272.3h0M1241.0 274.0h0M1252.1 261.6h0M1247.7 267.4h0M1252.6 265.6h0M1248.8 262.9h0M1251.5 265.3h0M1244.7 271.1h0M1248.5 271.0h0M1256.2 262.1h0M1240.9 270.3h0M1250.3 270.3h0M1252.3 262.9h0M1247.3 264.5h0M1248.7 267.2h0M1250.7 263.3h0M1243.1 274.8h0M1247.3 262.4h0M1242.2 267.6h0M1243.0 270.0h0M1243.2 277.0h0M1245.1 272.8h0M1246.3 264.5h0M1247.5 260.7h0M1240.0 272.4h0M1253.6 257.1h0M1250.3 266.6h0M1248.6 266.6h0M1244.3 269.7h0M1245.3 267.3h0M1247.9 272.1h0M1247.3 263.7h0M1239.0 269.6h0M1248.6 270.0h0M1257.3 263.2h0M1238.3 273.7h0M1249.6 267.4h0M1247.2 275.7h0M1245.2 266.0h0M1251.2 263.1h0M1241.0 274.4h0M1246.3 260.3h0M1251.5 262.9h0M1244.9 271.9h0M1244.0 269.6h0M1246.1 271.8h0M1243.9 272.8h0M1251.9 261.7h0M1242.1 273.7h0M1249.2 267.1h0M1240.7 266.9h0M1248.4 263.0h0M1245.3 266.0h0M1235.4 275.7h0M1245.7 266.8h0M1241.4 267.0h0M1243.9 270.1h0M1251.8 256.4h0M1241.2 275.8h0M1241.4 273.1h0M1251.4 268.4h0M1246.1 269.3h0M1251.8 261.2h0M1247.0 262.1h0M1242.2 274.0h0M1245.4 268.7h0M1250.6 265.5h0M1249.4 267.8h0M1245.7 272.8h0M1245.9 268.1h0M1245.2 275.1h0M1243.4 270.1h0M1253.4 261.6h0M1245.7 270.8h0M1241.2 276.1h0M1243.8 275.2h0M1248.6 259.2h0M1248.2 271.1h0M1245.1 263.4h0M1243.0 268.7h0M1245.8 269.7h0M1239.0 278.5h0M1240.5 269.3h0M1248.9 259.5h0M1243.8 273.5h0M1247.2 268.3h0M1250.6 260.4h0M1248.3 265.0h0M1245.8 261.2h0M1254.2 263.1h0M1248.4 264.2h0M1244.3 274.2h0M1248.6 258.4h0M1247.3 269.7h0M1242.3 279.5h0M1246.0 268.7h0M1245.0 269.6h0M1237.8 268.5h0M1245.0 270.3h0M1244.6 269.5h0M1243.9 267.9h0M1239.1 268.6h0M1244.3 270.0h0M1245.5 264.9h0M1246.1 266.3h0M1241.1 273.6h0M1248.2 266.0h0M1240.8 272.7h0M1244.8 272.6h0M1250.9 259.5h0M1242.9 275.9h0M1243.6 266.1h0M1250.0 261.3h0M1244.2 270.2h0M1244.5 272.3h0M1246.6 268.5h0M1249.9 263.1h0M1236.9 273.6h0M1242.4 270.4h0M1241.7 268.5h0M1241.4 274.3h0M1242.3 270.7h0M1242.3 277.1h0M1246.9 264.7h0M1242.1 271.1h0M1246.2 269.6h0M1247.3 262.9h0M1242.8 268.6h0M1246.2 278.2h0M1252.2 262.6h0M1247.0 272.6h0M1243.1 266.9h0M1245.4 259.8h0M1242.0 273.6h0M1246.8 267.3h0M1249.1 266.4h0M1242.4 270.1h0M1244.9 266.9h0M1250.1 260.0h0M1243.7 273.8h0M1246.4 262.2h0M1241.6 275.4h0M1242.4 270.4h0M1243.7 266.1h0M1254.1 258.5h0M1244.1 273.3h0M1243.6 272.8h0M1243.5 272.1h0M1245.0 269.2h0M1248.2 262.1h0M1246.4 272.5h0M1253.7 259.8h0M1246.5 265.6h0M1251.3 261.5h0M1246.8 265.9h0M1248.0 261.0h0M1240.1 271.7h0M1245.2 265.8h0M1245.4 266.7h0M1244.7 262.9h0M1237.3 282.7h0M1249.1 260.9h0M1244.2 270.8h0M1244.0 271.0h0M1244.7 272.9h0M1244.8 276.0h0M1247.3 268.5h0M1240.7 275.3h0M1242.1 269.9h0M1246.8 272.8h0M1246.3 262.8h0M1244.2 268.8h0M1243.5 271.3h0M1242.4 273.9h0M1245.5 271.5h0M1250.3 268.5h0M1241.6 274.1h0M1251.6 263.3h0M1249.0 266.2h0M1243.9 275.1h0M1248.7 266.8h0M1240.0 276.7h0M1239.0 273.8h0M1240.7 266.2h0M1244.1 267.6h0M1244.4 270.7h0M1243.7 276.1h0M1246.1 273.2h0M1237.4 281.9h0M1247.6 264.2h0M1240.2 276.1h0M1243.1 270.5h0M1244.1 272.1h0M1241.2 272.1h0M1240.4 268.1h0M1241.8 274.4h0M1245.6 269.8h0M1248.0 269.4h0M1247.9 263.4h0M1241.8 275.6h0M1242.6 275.3h0M1242.1 276.6h0M1247.4 272.0h0M1237.8 273.8h0M1250.5 255.0h0M1243.8 273.7h0M1242.6 267.7h0M1247.0 266.4h0M1249.7 268.9h0M1247.0 268.3h0M1249.8 265.7h0M1246.2 270.5h0M1250.5 257.3h0M1250.5 271.1h0M1245.3 267.5h0M1251.3 262.4h0M1246.3 270.0h0M1246.0 267.7h0M1242.1 268.5h0M1244.6 268.9h0M1248.7 264.3h0M1240.6 270.5h0M1248.2 273.6h0M1247.0 262.0h0M1246.8 259.3h0M1237.1 272.5h0M1245.3 265.2h0M1248.2 271.3h0M1242.7 271.5h0M1246.0 271.1h0M1236.4 278.7h0M1248.3 262.7h0M1243.1 273.7h0M1249.1 266.0h0M1238.5 281.7h0M1248.4 266.7h0M1244.8 269.0h0M1248.8 268.3h0M1242.1 274.3h0M1243.3 263.8h0M1254.4 265.2h0M1242.5 275.1h0M1242.9 273.8h0M1244.6 265.1h0M1241.7 264.4h0M1250.3 263.2h0M1252.4 265.2h0M1242.9 272.4h0M1239.0 270.6h0M1250.2 267.8h0M1250.0 259.5h0M1248.9 260.6h0M1250.2 264.3h0M1242.3 269.1h0M1245.0 266.4h0M1240.3 267.6h0M1240.2 277.1h0M1249.5 260.9h0M1243.1 272.1h0M1254.5 263.5h0M1246.0 267.9h0M1243.2 271.5h0M1248.8 269.3h0M1252.7 268.1h0M1247.6 270.2h0M1241.0 267.4h0M1247.1 260.2h0M1251.0 261.5h0M1243.8 265.9h0M1242.7 273.0h0M1249.6 265.3h0M1246.2 267.0h0M1241.4 276.2h0M1244.2 273.4h0M1242.7 270.7h0M1246.8 268.6h0M1246.1 271.9h0M1250.2 263.2h0M1248.4 267.0h0M1239.6 270.2h0M1247.3 267.1h0M1249.2 266.5h0M1247.5 266.5h0M1249.7 265.6h0M1243.5 272.8h0M1242.0 273.2h0M1249.3 262.6h0M1241.5 269.8h0M1237.3 271.2h0M1249.7 271.1h0M1242.9 272.4h0M1244.5 271.0h0M1240.3 272.7h0M1240.5 274.7h0M1241.2 274.3h0M1244.3 266.9h0M1247.1 266.6h0M1236.8 280.5h0M1248.6 261.1h0M1241.1 268.9h0M1241.5 274.2h0M1248.3 263.2h0M1245.4 271.4h0M1239.7 269.7h0M1252.9 263.0h0M1242.3 274.3h0M1246.6 269.0h0M1246.5 270.6h0M1251.2 263.0h0M1243.9 269.4h0M1249.6 264.9h0M1242.8 273.0h0M1250.0 277.8h0M1242.7 270.8h0M1244.3 276.6h0M1253.1 261.1h0M1246.9 263.3h0M1246.1 267.1h0M1254.4 262.2h0M1247.1 267.9h0M1242.5 271.8h0M1248.5 268.0h0M1241.1 274.6h0M1250.1 268.0h0M1250.4 260.1h0M1243.5 270.5h0M1243.2 267.2h0M1246.4 268.8h0M1245.7 268.2h0M1241.9 272.5h0M1247.9 264.9h0M1237.8 272.5h0M1244.0 269.1h0M1244.1 272.3h0M1244.6 272.2h0M1246.9 261.5h0M1240.9 273.7h0M1248.0 267.5h0M1245.0 263.8h0M1243.2 266.8h0M1240.4 271.2h0M1241.1 274.0h0M1247.1 258.8h0M1241.9 270.4h0M1245.9 266.3h0M1249.8 265.5h0M1249.7 270.1h0M1251.7 268.0h0M1244.5 268.0h0M1241.5 270.8h0M1249.7 265.9h0M1246.9 271.7h0M1250.1 269.8h0M1245.7 269.6h0M1250.3 269.6h0M1249.0 262.4h0M1248.5 261.9h0M1247.6 256.6h0M1247.2 264.0h0M1246.6 269.8h0M1246.6 270.9h0M1249.5 277.5h0M1243.7 272.4h0M1252.4 263.2h0M1245.3 265.4h0M1249.5 262.9h0M1245.3 266.7h0M1244.7 268.6h0M1253.6 259.2h0M1244.5 264.3h0M1240.7 276.7h0M1242.9 272.6h0M1244.5 274.6h0M1254.1 255.3h0M1246.5 263.1h0M1249.3 262.6h0M1241.8 276.2h0M1247.1 266.7h0M1248.3 267.0h0M1252.7 262.0h0M1243.0 271.6h0M1248.0 264.6h0M1246.9 268.9h0M1241.7 268.9h0M1245.6 267.7h0M1244.7 270.5h0M1236.6 276.8h0M1248.0 268.0h0M1247.8 263.7h0M1244.0 271.0h0M1240.5 272.0h0M1251.4 264.8h0M1246.7 272.9h0M1249.6 261.8h0M1251.2 267.5h0M1243.7 267.8h0M1248.8 264.2h0M1244.7 275.3h0M1245.4 272.1h0M1245.4 270.6h0M1245.7 271.5h0M1262.8 251.2h0M1293.8 221.2h0M1309.2 208.7h0M1286.0 230.4h0M1284.0 232.6h0M1265.7 244.4h0M1293.3 223.9h0M1304.5 215.8h0M1277.1 242.2h0M1283.5 235.1h0M1329.6 196.6h0M1258.5 255.7h0M1279.2 237.0h0M1267.8 254.0h0M1260.0 254.6h0M1266.1 247.4h0M1307.2 212.6h0M1260.5 257.1h0M1282.0 231.5h0M1281.1 238.2h0M1265.4 253.6h0M1256.6 260.9h0M1277.5 239.4h0M1278.4 235.6h0M1257.7 253.3h0M1275.8 240.1h0M1272.6 247.2h0M1269.7 248.2h0M1356.7 172.3h0M1320.2 202.3h0M1422.7 116.9h0M1256.4 257.6h0M1255.3 256.9h0M1271.5 245.0h0M1428.5 105.0h0M1303.5 219.3h0M1278.5 242.8h0M1299.3 222.0h0M1273.4 239.5h0M1271.7 241.3h0M1257.5 258.3h0M1257.2 253.5h0M1294.3 225.5h0M1265.6 245.2h0M1256.5 256.3h0M1257.0 258.7h0M1256.1 255.7h0M1314.3 209.3h0M1271.1 247.7h0M1268.9 251.2h0M1269.8 245.3h0M1268.8 247.2h0M1256.4 258.1h0M1271.0 246.2h0M1290.3 223.7h0M1281.0 237.5h0M1263.7 253.6h0M1254.5 255.8h0M1268.3 243.2h0M1331.5 190.8h0M1292.1 231.7h0M1280.2 238.8h0M1297.4 219.9h0M1300.8 218.7h0M1260.8 249.3h0M1281.5 239.9h0M1336.3 185.6h0M1267.1 250.3h0M1267.1 244.4h0M1263.8 251.6h0M1358.7 164.8h0M1310.4 212.3h0M1266.7 253.0h0M1288.6 232.9h0M1324.4 199.9h0M1339.5 187.8h0M1256.1 254.6h0M1270.3 241.6h0M1330.1 192.2h0M1271.0 248.1h0M1259.1 255.9h0M1292.1 228.5h0M1256.1 253.8h0M1340.5 182.9h0M1295.0 222.4h0M1401.0 131.8h0M1258.8 261.8h0M1279.3 240.0h0M1260.4 257.7h0M1273.3 241.9h0M1276.7 239.7h0M1259.3 257.7h0M1262.4 253.7h0M1254.2 255.1h0M1259.4 258.1h0M1279.0 240.7h0M1260.3 255.1h0M1254.4 261.7h0M1272.7 244.8h0M1267.8 246.2h0M1272.5 238.5h0M1310.1 215.9h0M1275.0 241.6h0M1265.7 249.6h0M1262.6 252.6h0M1315.3 206.6h0M1257.0 258.3h0M1290.9 224.5h0M1266.9 250.1h0M1299.4 220.4h0M1261.7 253.2h0M1312.2 208.5h0M1259.6 255.6h0M1298.5 217.8h0M1261.6 253.3h0M1286.4 230.9h0M1269.1 246.9h0M1272.6 246.6h0M1272.3 246.4h0M1257.3 260.2h0M1395.6 134.8h0M1280.5 238.8h0M1263.4 254.9h0M1265.2 249.4h0M1274.8 240.1h0M1277.5 244.6h0M1287.9 225.1h0M1268.1 247.5h0M1269.7 246.5h0M1367.0 157.4h0M1294.5 224.2h0M1280.8 238.2h0M1274.8 235.1h0M1266.5 252.2h0M1356.8 169.8h0M1265.5 247.3h0M1330.6 195.8h0M1315.5 206.2h0M1261.0 252.7h0M1266.2 242.1h0M1269.2 249.3h0M1259.3 255.4h0M1294.2 222.6h0M1271.3 244.5h0M1268.6 250.7h0M1258.5 254.8h0M1257.6 256.4h0M1271.5 243.2h0M1267.1 245.0h0M1259.1 252.5h0M1297.7 220.3h0M1303.3 215.7h0M1311.8 212.5h0M1275.6 241.4h0M1312.3 208.0h0M1256.1 259.3h0M1301.2 218.2h0M1272.8 245.9h0M1267.5 243.5h0M1328.5 188.0h0M1257.7 257.9h0M1256.2 256.9h0M1291.1 228.0h0M1297.5 217.9h0M1270.2 244.4h0M1273.7 242.4h0M1275.7 241.6h0M1309.1 211.2h0M1279.3 240.7h0M1256.7 255.5h0M1261.4 255.6h0M1320.1 200.2h0M1279.5 237.1h0M1268.6 243.8h0M1255.5 258.7h0M1254.8 256.2h0M1255.4 261.5h0M1274.9 239.8h0M1313.4 208.4h0M1284.3 232.7h0M1260.0 254.5h0M1282.5 232.1h0M1254.6 265.5h0M1305.1 214.1h0M1330.3 197.3h0M1257.3 253.5h0M1261.4 259.3h0M1254.2 262.8h0M1256.0 263.3h0M1266.4 244.1h0M1269.7 250.0h0M1259.6 254.7h0M1295.7 224.9h0M1284.9 238.2h0M1255.8 259.4h0M1264.4 248.8h0M1272.2 244.5h0M1255.0 256.2h0M1265.9 250.6h0M1318.8 202.9h0M1269.3 247.6h0M1285.3 231.4h0M1298.7 215.0h0M1280.6 235.5h0M1303.5 215.8h0M1263.1 253.8h0M1256.1 260.4h0M1255.6 254.2h0M1284.0 236.9h0M1257.4 259.7h0M1258.4 256.4h0M1266.4 250.3h0M1278.6 232.5h0M1283.8 240.9h0M1255.9 257.2h0M1264.0 249.0h0M1258.3 259.5h0M1255.4 260.7h0M1261.2 252.3h0M1255.5 253.8h0M1274.4 244.8h0M1273.0 248.0h0M1273.9 239.6h0M1261.0 249.3h0M1300.5 220.1h0M1267.9 254.4h0M1291.0 223.1h0M1271.2 245.5h0M1266.9 245.3h0M1262.0 253.1h0M1269.8 247.2h0M1254.4 261.0h0M1257.9 252.2h0M1259.7 250.6h0M1261.2 260.0h0M1280.2 239.7h0M1297.8 216.1h0M1259.5 256.3h0M1260.4 258.5h0M1273.0 243.3h0M1262.4 252.9h0M1257.3 257.4h0M1320.3 203.1h0M1285.0 233.6h0M1285.0 234.0h0M1267.9 246.8h0M1259.7 257.4h0M1273.0 244.1h0M1261.9 253.5h0M1255.1 255.1h0M1268.5 246.1h0M1268.0 248.0h0M1271.1 243.3h0M1299.8 218.5h0M1263.6 248.2h0M1287.6 228.9h0M1278.3 233.2h0M1265.7 245.6h0M1262.7 252.5h0M1289.9 229.7h0M1349.5 173.3h0M1306.2 212.5h0M1308.6 212.3h0M1268.4 251.7h0M1269.1 252.2h0M1261.9 252.0h0M1274.9 239.3h0M1257.9 254.1h0M1289.0 233.1h0M1266.3 246.1h0M1258.0 258.1h0M1263.3 250.7h0M1279.1 236.7h0M1302.1 220.1h0M1275.1 243.2h0M1301.8 224.2h0M1339.7 187.4h0M1260.2 259.9h0M1305.8 213.1h0M1263.3 251.6h0M1275.6 238.3h0M1260.9 252.8h0M1267.8 249.8h0M1271.0 244.0h0M1263.5 252.8h0M1355.5 168.8h0M1294.0 223.8h0M1256.3 260.9h0M1255.7 258.5h0M1254.5 259.4h0M1284.9 233.7h0M1260.5 251.6h0M1322.4 194.7h0M1279.3 238.8h0M1286.9 232.1h0M1257.7 263.5h0M1277.1 240.0h0M1254.5 260.8h0M1307.3 219.6h0M1280.0 236.2h0M1270.3 243.9h0M1258.1 258.6h0M1276.7 241.1h0M1274.8 244.6h0M1272.9 241.1h0M1263.9 255.8h0M1283.3 235.1h0M1278.9 232.2h0M1275.7 240.7h0M1345.0 178.5h0M1290.2 228.5h0M1292.0 230.1h0M1280.4 236.9h0M1329.9 192.0h0M1280.6 239.6h0M1299.1 219.3h0M1255.7 254.7h0M1261.6 250.0h0M1352.7 177.9h0M1256.4 260.8h0M1258.5 260.9h0M1295.3 220.4h0M1284.7 231.2h0M1257.9 254.4h0M1295.5 226.1h0M1286.1 235.2h0M1263.3 251.5h0M1312.2 208.5h0M1260.1 257.2h0M1258.6 255.5h0M1258.1 254.4h0M1279.2 237.1h0M1336.9 190.1h0M1395.9 141.4h0M1254.4 260.4h0M1255.1 258.5h0M1265.9 250.3h0M1281.5 237.1h0M1269.3 248.6h0M1301.0 216.5h0M1313.7 207.6h0M1304.8 214.9h0M1279.2 240.7h0M1254.4 261.5h0M1258.0 256.0h0M1343.5 184.2h0M1293.6 229.0h0M1262.3 253.6h0M1265.7 246.1h0M1259.4 254.6h0M1290.8 223.2h0M1262.2 253.2h0M1275.8 241.8h0M1263.0 256.2h0M1258.7 257.6h0M1314.1 202.8h0M1272.1 243.0h0M1266.7 246.6h0M1269.6 244.2h0M1276.0 240.7h0M1261.2 254.2h0M1364.2 162.7h0M1258.0 254.4h0M1282.7 233.4h0M1292.5 224.7h0M1278.4 238.1h0M1272.4 246.1h0M1256.5 258.6h0M1255.7 261.3h0M1277.5 236.3h0M1257.0 263.6h0M1273.3 243.7h0M1260.4 247.2h0M1290.0 229.3h0M1263.4 255.1h0M1287.2 230.8h0M1257.2 253.3h0M1273.0 243.7h0M1268.6 245.3h0M1291.6 226.6h0M1289.5 229.9h0M1319.6 192.8h0M1282.3 234.9h0M1261.7 254.8h0M1341.2 184.8h0M1379.7 148.3h0M1331.6 190.5h0M1293.0 223.3h0M1263.6 251.1h0M1284.8 237.2h0M1312.4 207.0h0M1264.7 251.5h0M1279.2 238.7h0M1257.7 261.2h0M1256.6 259.4h0M1271.4 246.8h0M1256.8 257.6h0M1260.1 259.0h0M1265.2 250.0h0M1295.2 223.4h0M1291.3 230.6h0M1296.5 224.5h0M1265.9 252.0h0M1275.8 238.0h0M1260.8 261.6h0M1255.6 259.6h0M1273.3 248.0h0M1258.7 257.2h0M1265.0 247.7h0M1278.5 240.3h0M1306.3 213.6h0M1270.0 248.4h0M1281.4 230.1h0M1280.9 233.6h0M1256.9 254.1h0M1255.2 262.9h0M1267.1 251.7h0M1272.5 240.5h0M1260.3 255.0h0M1259.6 255.8h0M1270.0 244.9h0M1268.5 251.0h0M1370.1 155.5h0M1256.2 257.9h0M1289.5 227.3h0M1296.9 224.2h0M1262.1 251.3h0M1341.0 185.6h0M1272.0 241.2h0M1309.7 207.5h0M1255.9 255.5h0M1264.2 249.4h0M1313.0 206.2h0M1352.5 181.5h0M1263.2 249.4h0M1322.3 200.7h0M1257.0 257.0h0M1254.9 260.0h0M1268.1 251.7h0M1272.4 245.4h0M1292.3 224.3h0M1258.7 251.6h0M1336.1 189.6h0M1323.9 201.2h0M1304.0 211.6h0M1311.8 211.7h0M1266.7 242.6h0M1257.2 257.0h0M1278.9 240.8h0M1258.3 253.3h0M1260.5 249.2h0M1271.7 248.7h0M1282.4 230.3h0M1301.7 218.8h0M1269.4 242.0h0M1284.8 234.1h0M1323.8 203.3h0M1341.5 181.5h0M1287.2 228.0h0M1291.5 220.7h0M1275.4 235.9h0M1280.7 234.4h0M1293.3 226.1h0M1278.8 239.7h0M1260.5 255.2h0M1258.4 258.6h0M1276.0 241.4h0M1338.6 193.2h0M1279.3 237.2h0M1256.3 258.1h0M1300.0 211.8h0M1255.3 256.6h0M1284.1 235.0h0M1283.0 232.8h0M1282.4 238.6h0M1254.4 261.4h0M1255.1 264.6h0M1268.8 242.7h0M1262.3 250.9h0M1271.6 248.0h0M1277.7 239.3h0M1255.6 255.7h0M1259.4 253.7h0M1272.8 242.3h0M1346.8 180.9h0M1260.4 256.2h0M1284.6 232.8h0M1348.1 174.4h0M1260.2 257.1h0M1280.9 239.7h0M1266.7 245.4h0M1288.6 232.4h0M1299.5 216.7h0M1258.5 255.3h0M1288.2 227.3h0M1263.4 246.5h0M1334.0 187.6h0M1255.7 256.1h0M1270.7 248.1h0M1409.5 125.3h0M1254.6 257.5h0M1273.4 238.3h0M1263.6 247.3h0M1269.8 239.1h0M1258.0 255.6h0M1341.1 182.8h0M1258.1 253.4h0M1281.9 235.3h0M1406.8 125.8h0M1260.3 257.6h0M1264.7 247.6h0M1293.4 228.5h0M1254.8 257.8h0M1282.8 238.9h0M1263.7 248.1h0M1264.1 254.2h0M1290.3 225.5h0M1256.3 262.7h0M1257.4 258.3h0M1274.5 238.4h0M1321.7 202.8h0M1258.6 255.7h0M1268.0 249.1h0M1254.6 266.4h0M1270.0 244.9h0M1265.4 248.7h0M1296.0 226.4h0M1301.5 216.4h0M1277.0 242.1h0M1346.0 182.0h0M1276.8 239.9h0M1263.5 253.7h0M1269.2 239.7h0M1273.0 247.9h0M1309.2 209.2h0M1298.4 218.0h0M1325.7 202.8h0M1296.6 227.7h0M1258.2 254.6h0M1267.2 249.8h0M1255.4 257.6h0M1315.4 202.5h0M1255.1 260.2h0M1267.9 250.9h0M1281.9 243.6h0M1397.4 133.2h0M1350.3 178.0h0M1258.7 254.9h0M1268.2 246.8h0M1269.3 250.7h0M1258.1 251.2h0M1298.2 217.8h0M1288.6 227.0h0M1272.9 246.9h0M1318.3 204.6h0M1268.0 249.3h0M1277.6 240.5h0M1284.5 236.5h0M1262.3 251.4h0M1263.4 251.0h0M1269.9 244.9h0M1266.0 250.9h0M1257.8 252.8h0M1284.5 232.6h0M1260.4 262.6h0M1275.3 243.2h0M1256.5 258.0h0M1289.2 226.1h0M1284.9 233.7h0M1313.0 208.8h0M1275.2 243.3h0M1359.9 164.8h0M1256.1 259.5h0M1276.2 242.3h0M1271.5 246.8h0M1269.4 244.8h0M1274.4 243.6h0M1322.9 204.4h0M1278.3 236.8h0M1267.1 250.5h0M1272.1 243.0h0M1270.4 244.4h0M1254.8 255.6h0M1271.4 241.5h0M1334.9 190.6h0M1350.4 175.7h0M1309.9 214.7h0M1270.2 240.7h0M1319.5 201.1h0M1270.9 240.9h0M1280.5 237.6h0M1275.9 246.8h0M1259.5 250.6h0M1330.2 192.6h0M1283.6 233.6h0M1310.5 210.1h0M1259.3 253.4h0M1338.7 183.9h0M1295.0 228.7h0M1258.6 252.7h0M1257.4 258.6h0M1309.8 212.3h0M1263.9 246.1h0M1258.5 253.3h0M1381.5 148.8h0M1263.2 257.4h0M1312.2 208.3h0M1297.0 220.5h0M1285.6 232.4h0M1274.8 245.4h0M1262.0 255.3h0M1284.4 237.0h0M1279.4 237.0h0M1309.7 208.5h0M1262.1 249.8h0M1431.0 106.5h0M1285.4 231.7h0M1318.5 201.5h0M1297.4 223.4h0M1280.4 237.2h0M1273.2 236.7h0M1286.4 230.9h0M1256.4 255.2h0M1255.1 260.3h0M1263.3 251.7h0M1270.5 250.6h0M1254.4 259.7h0M1260.6 250.6h0M1259.9 248.5h0M1348.1 173.6h0M1280.4 234.7h0M1270.6 245.2h0M1293.0 227.4h0M1278.8 238.7h0M1343.8 179.1h0M1259.1 257.8h0M1291.5 224.2h0M1256.3 261.0h0M1254.4 265.0h0M1297.0 225.2h0M1256.5 262.8h0M1266.3 253.3h0M1261.8 249.7h0M1259.2 256.0h0M1261.4 252.8h0M1306.3 210.5h0M1269.9 242.2h0M1263.3 253.4h0M1268.3 243.4h0M1263.1 250.8h0M1260.0 254.7h0M1287.0 229.6h0M1277.3 243.8h0M1270.8 247.6h0M1299.7 220.1h0M1256.1 256.3h0M1272.6 244.8h0M1327.1 196.0h0M1260.9 251.0h0M1254.5 255.3h0M1258.3 253.9h0M1291.0 223.6h0M1256.0 259.4h0M1255.9 259.2h0M1282.6 233.8h0M1254.6 260.4h0M1255.8 259.9h0M1280.7 231.6h0M1274.4 242.6h0M1255.0 262.0h0M1319.0 201.3h0M1259.3 249.8h0M1270.7 245.0h0M1275.2 237.7h0M1258.1 257.7h0M1274.8 243.2h0M1295.8 225.3h0M1304.5 216.0h0M1260.5 248.7h0M1301.3 221.8h0M1269.2 241.7h0M1288.2 232.9h0M1278.1 239.5h0M1261.9 250.5h0M1266.0 247.5h0M1287.1 230.0h0M1264.0 256.1h0M1299.1 219.2h0M1298.6 223.8h0M1272.1 236.3h0M1269.8 246.7h0M1281.0 235.7h0M1298.8 224.0h0M1257.3 258.5h0M1256.3 261.8h0M1333.4 187.2h0M1273.8 243.3h0M1263.3 250.1h0M1272.5 245.7h0M1265.3 251.5h0M1257.9 252.7h0M1262.1 255.8h0M1258.5 261.4h0M1301.8 216.7h0M1256.1 261.5h0M1266.0 250.8h0M1264.9 247.6h0M1267.6 250.5h0M1257.7 254.1h0M1295.2 225.8h0M1270.9 240.6h0M1263.9 247.3h0M1282.7 236.1h0M1299.4 220.6h0M1325.7 199.4h0M1324.3 197.6h0M1259.2 252.0h0M1262.1 257.2h0M1267.4 245.4h0M1299.2 224.2h0M1275.6 243.6h0M1300.5 224.4h0M1341.6 176.6h0M1318.8 202.8h0M1290.0 227.5h0M1259.8 256.9h0M1263.7 248.3h0M1278.8 244.5h0M1504.0 39.9h0M1305.5 208.0h0M1279.6 238.6h0M1280.7 236.4h0M1274.0 240.4h0M1273.7 245.1h0M1257.3 257.0h0M1278.2 235.8h0M1254.6 258.8h0M1281.8 234.4h0M1328.9 195.2h0M1259.0 254.6h0M1286.9 230.9h0M1274.2 237.8h0M1262.8 250.0h0M1282.3 235.8h0M1257.4 264.3h0M1273.1 241.0h0M1318.7 200.8h0M1309.9 213.6h0M1265.3 256.0h0M1272.5 247.2h0M1275.4 238.4h0M1254.6 262.6h0M1266.3 250.6h0M1292.5 225.4h0M1267.9 244.1h0M1255.8 258.5h0M1295.1 224.1h0M1287.0 232.6h0M1270.1 240.9h0M1278.4 235.3h0M1272.9 243.6h0M1298.7 224.8h0M1287.6 232.8h0M1254.2 258.1h0M1281.1 238.3h0M1259.4 252.6h0M1268.3 246.3h0M1276.7 239.1h0M1294.0 222.9h0M1305.0 213.6h0M1266.9 251.2h0M1302.6 218.2h0M1322.1 193.0h0M1266.0 253.1h0M1290.0 229.7h0M1257.7 253.5h0M1254.3 260.2h0M1308.5 214.4h0M1275.8 244.7h0M1267.9 246.1h0M1266.4 246.0h0M1255.5 254.5h0M1299.5 219.7h0M1260.3 251.3h0M1370.0 161.0h0M1265.7 249.2h0M1276.3 242.4h0M1322.8 198.9h0M1255.9 256.1h0M1293.4 222.1h0M1263.1 255.0h0M1270.2 241.9h0M1307.6 214.3h0M1279.4 240.7h0M1255.3 259.3h0M1263.9 255.6h0M1256.9 257.4h0M1254.7 258.5h0M1269.4 247.0h0M1263.1 250.3h0M1321.9 196.9h0M1332.0 189.4h0M1301.5 220.6h0M1302.1 214.6h0M1278.2 237.5h0M1380.6 146.8h0M1275.3 242.1h0M1288.3 228.8h0M1358.8 167.4h0M1326.8 193.8h0M1333.3 184.0h0M1307.2 210.9h0M1291.2 232.2h0M1367.8 162.3h0M1286.7 235.9h0M1307.4 214.9h0M1362.1 161.8h0M1307.6 210.3h0M1386.1 144.9h0M1292.9 223.8h0M1335.2 190.2h0M1336.4 191.5h0M1331.9 195.4h0M1364.8 164.5h0M1277.4 233.3h0M1337.4 190.4h0M1366.7 155.3h0M1277.9 233.1h0M1337.4 186.2h0M1324.8 196.9h0M1320.4 202.7h0M1336.4 186.5h0M1346.9 174.9h0M1356.3 168.9h0M1379.7 144.8h0M1350.7 169.6h0M1391.8 136.5h0M1351.7 171.8h0M1304.1 215.1h0M1289.5 226.5h0M1280.3 239.8h0M1304.0 213.5h0M1286.1 230.0h0M1353.9 174.2h0M1354.6 162.7h0M1345.3 182.1h0M1317.8 206.0h0M1327.5 193.3h0M1303.0 222.8h0M1382.2 149.1h0M1273.7 247.1h0M1310.3 212.9h0M1340.6 183.2h0M1293.5 223.0h0M1374.4 149.0h0M1329.5 189.6h0M1316.3 199.9h0M1279.4 234.5h0M1305.6 215.3h0M1342.6 177.0h0M1305.6 215.3h0M1277.2 240.7h0M1341.4 176.6h0M1308.3 208.3h0M1373.5 153.1h0M1354.9 167.5h0M1358.5 163.9h0M1378.7 154.1h0M1369.1 158.0h0M1311.4 212.7h0M1340.2 182.7h0M1302.9 218.4h0M1296.0 217.1h0M1296.5 219.7h0M1285.2 234.5h0M1300.5 218.1h0M1298.8 223.9h0M1352.6 172.1h0M1302.0 214.8h0M1277.4 237.4h0M1322.5 205.7h0M1296.0 223.3h0M1354.6 168.6h0M1298.5 218.8h0M1338.7 180.3h0M1293.0 229.3h0M1329.7 190.5h0M1376.0 154.0h0M1308.3 210.5h0M1335.1 186.1h0M1324.5 194.5h0M1280.2 238.0h0M1274.3 240.5h0M1373.0 158.5h0M1312.7 212.4h0M1354.2 168.8h0M1321.4 199.9h0M1372.5 160.5h0M1295.2 225.8h0M1329.9 192.1h0M1337.7 179.8h0M1367.1 155.7h0M1275.4 237.3h0M1315.4 211.4h0M1328.9 193.4h0M1342.5 179.4h0M1288.8 226.9h0M1337.1 184.4h0M1355.1 170.9h0M1359.9 159.5h0M1298.8 214.3h0M1324.8 197.1h0M1307.6 215.3h0M1318.4 195.0h0M1315.4 206.9h0M1385.3 139.1h0M1273.4 235.0h0M1385.7 146.6h0M1275.8 238.8h0M1281.2 236.3h0M1296.6 219.7h0M1306.3 211.8h0M1374.8 145.7h0M1372.9 152.3h0M1384.1 144.6h0M1318.6 198.1h0M1273.7 242.6h0M1347.0 178.5h0M1379.8 140.2h0M1284.7 234.9h0M1371.2 157.6h0M1272.0 243.0h0M1359.8 169.7h0M1331.1 198.8h0M1380.9 143.5h0M1376.9 153.7h0M1277.4 240.3h0M1331.7 192.0h0M1300.9 221.3h0M1324.6 200.7h0M1279.8 235.7h0M1315.1 196.6h0M1320.9 197.5h0M1272.3 240.2h0M1328.8 198.6h0M1379.3 148.9h0M1279.1 241.1h0M1385.3 140.7h0M1330.6 192.4h0M1297.1 220.9h0M1388.2 141.2h0M1328.7 195.4h0M1324.3 202.6h0M1317.0 201.4h0M1377.7 155.2h0M1287.4 233.8h0M1297.1 222.1h0M1305.8 215.9h0M1279.3 235.8h0M1373.2 150.5h0M1330.5 190.8h0M1344.1 179.0h0M1378.2 149.7h0M1331.2 187.9h0M1305.0 220.8h0M1335.6 185.9h0M1331.9 193.8h0M1307.7 216.2h0M1299.7 218.8h0M1314.8 206.9h0M1360.1 163.5h0M1291.7 221.9h0M1391.5 146.4h0M1300.1 218.7h0M1304.6 207.4h0M1286.6 227.2h0M1318.9 196.7h0M1316.5 203.6h0M1353.7 176.4h0M1379.4 152.7h0M1301.6 214.6h0M1369.0 154.3h0M1308.9 213.4h0M1320.7 201.3h0M1287.2 228.8h0M1379.0 155.3h0M1316.7 205.1h0M1356.0 163.4h0M1275.0 232.6h0M1355.6 170.0h0M1299.0 212.8h0M1326.0 197.5h0M1352.8 175.0h0M1292.3 233.3h0M1335.1 184.2h0M1372.2 156.3h0M1291.5 217.6h0M1328.0 192.7h0M1293.9 223.2h0M1289.0 234.7h0M1330.7 186.1h0M1326.7 196.4h0M1349.2 175.8h0M1374.9 160.6h0M1356.7 165.3h0M1312.2 204.2h0M1330.2 194.1h0M1352.7 171.8h0M1372.6 153.3h0M1353.8 167.7h0M1332.2 189.8h0M1287.9 223.0h0M1376.1 152.4h0M1305.6 215.8h0M1320.5 202.2h0M1378.1 159.0h0M1296.7 224.3h0M1381.6 143.1h0M1299.3 218.1h0M1282.3 237.0h0M1333.5 187.8h0M1367.3 166.5h0M1320.2 201.8h0M1373.0 152.4h0M1319.4 198.9h0M1369.7 159.9h0M1285.4 228.1h0M1305.9 206.6h0M1286.5 231.9h0M1360.7 162.5h0M1328.2 199.3h0M1350.6 181.1h0M1300.5 215.9h0M1360.1 165.5h0M1391.1 137.7h0M1281.3 237.0h0M1310.1 210.7h0M1376.2 148.5h0M1374.1 147.1h0M1376.6 151.9h0M1299.0 225.3h0M1339.5 179.2h0M1282.2 232.0h0M1323.6 195.3h0M1341.0 181.7h0M1302.9 207.6h0M1322.5 198.4h0M1315.8 202.7h0M1282.0 241.0h0M1280.1 238.1h0M1365.6 163.2h0M1272.2 243.1h0M1390.3 137.8h0M1379.6 151.2h0M1390.4 132.7h0M1366.2 164.1h0M1272.1 244.6h0M1285.8 230.2h0M1310.1 214.1h0M1293.6 222.1h0M1279.1 234.6h0M1382.0 147.4h0M1381.1 140.2h0M1364.0 161.9h0M1302.2 215.5h0M1374.2 156.7h0M1370.2 162.7h0M1310.7 211.4h0M1287.2 230.9h0M1288.1 230.6h0M1320.9 197.3h0M1371.8 163.9h0M1281.0 239.3h0M1323.4 204.5h0M1314.4 201.0h0M1379.0 151.0h0M1290.2 229.0h0M1350.6 178.0h0M1310.6 205.9h0M1349.5 176.4h0M1370.6 155.6h0M1370.9 163.5h0M1373.4 149.7h0M1307.0 210.9h0M1305.0 212.1h0M1286.6 225.9h0M1302.5 217.0h0M1286.2 231.3h0M1366.0 157.8h0M1277.5 236.7h0M1294.9 223.9h0M1366.7 159.6h0M1364.1 163.9h0M1388.7 137.8h0M1317.9 199.4h0M1277.2 238.5h0M1368.9 151.1h0M1306.2 218.6h0M1364.7 162.4h0M1274.2 235.1h0M1276.0 241.1h0M1343.7 185.8h0M1354.0 165.9h0M1339.3 181.9h0M1335.7 191.3h0M1343.5 177.4h0M1287.6 233.1h0M1279.5 241.4h0M1313.8 206.9h0M1337.6 187.1h0M1301.7 220.9h0M1293.3 225.7h0M1325.4 199.7h0M1321.0 199.8h0M1304.1 215.0h0M1383.2 142.6h0M1385.1 145.3h0M1277.4 243.1h0M1329.5 197.3h0M1300.4 219.0h0M1436.6 101.2h0M1399.5 121.8h0M1417.8 108.0h0M1399.8 133.6h0M1401.8 131.3h0M1443.7 91.4h0M1441.9 86.2h0M1390.2 142.1h0M1429.0 101.9h0M1387.7 150.2h0M1398.9 134.9h0M1382.8 139.0h0M1423.6 100.2h0M1429.1 107.7h0M1430.5 104.2h0M1432.5 93.0h0M1405.7 123.7h0M1390.3 138.2h0M1378.1 142.5h0M1408.9 117.4h0M1443.7 81.2h0M1409.5 113.2h0M1421.3 111.1h0M1442.6 89.7h0M1438.7 92.7h0M1430.1 108.1h0M1419.6 115.0h0M1394.2 125.7h0M1430.7 108.9h0M1407.3 114.0h0M1427.7 100.3h0M1393.6 132.9h0M1444.3 84.2h0M1389.4 132.8h0M1433.7 89.5h0M1440.7 93.0h0M1388.5 137.8h0M1438.9 93.6h0M1423.3 94.5h0M1420.4 102.7h0M1395.7 135.7h0M1401.0 127.5h0M1394.4 135.5h0M1409.0 118.4h0M1423.6 104.3h0M1429.3 86.8h0M1427.7 113.0h0M1402.3 118.2h0M1401.5 122.4h0M1431.7 102.7h0M1446.6 86.3h0M1393.5 135.1h0M1407.0 119.9h0M1397.3 122.7h0M1446.7 94.4h0M1379.0 137.0h0M1440.8 92.7h0M1432.0 89.1h0M1401.2 122.8h0M1425.9 96.2h0M1403.9 119.5h0M1422.8 99.8h0M1407.9 119.1h0M1442.4 94.0h0M1410.1 113.4h0M1435.2 91.1h0M1418.5 97.4h0M1404.1 134.8h0M1446.1 87.0h0M1391.6 127.3h0M1442.0 97.0h0M1447.1 86.2h0M1437.8 80.3h0M1420.9 99.4h0M1421.8 112.5h0M1443.4 79.6h0M1408.4 111.8h0M1436.0 89.9h0M1432.5 95.4h0M1438.5 91.0h0M1408.9 123.7h0M1423.9 108.4h0M1384.3 135.7h0M1382.9 140.5h0M1385.4 128.0h0M1484.8 47.8h0M1497.8 33.5h0M1485.1 51.6h0M1447.9 78.9h0M1464.4 65.4h0M1470.8 57.3h0M1492.2 31.5h0M1484.0 54.3h0M1444.8 85.8h0M1467.0 68.2h0M1485.4 72.8h0M1472.1 71.7h0M1479.1 57.1h0M1496.1 38.5h0M1496.7 45.2h0M1488.7 41.9h0M1473.7 54.2h0M1458.8 77.5h0M1450.4 73.9h0M1450.9 71.5h0M1477.6 55.7h0M1485.1 57.8h0M1489.9 38.8h0M1493.0 45.9h0M1457.7 78.3h0M1460.3 73.0h0M1452.5 83.8h0M1472.1 56.8h0M1494.9 38.6h0M1484.2 45.3h0M1466.1 65.1h0M1450.4 87.2h0M1489.0 49.4h0M1492.0 40.5h0M1484.8 54.6h0M1457.9 58.3h0M1463.4 72.4h0M1474.4 64.8h0M1493.3 37.8h0M1455.1 73.8h0M1273.4 234.8h0M1314.9 195.9h0M1293.7 227.0h0M1332.0 175.6h0M1264.9 250.4h0M1283.2 244.9h0M1272.1 257.0h0M1264.5 235.5h0M1325.5 193.5h0M1265.8 250.0h0M1311.9 210.2h0M1374.1 158.0h0M1432.8 88.7h0M1291.9 223.0h0M1326.2 179.4h0M1337.2 184.0h0M1264.8 263.2h0M1278.9 227.8h0M1275.3 239.7h0M1434.1 99.1h0M1286.2 216.2h0M1260.6 251.9h0M1316.5 192.4h0M1398.0 129.2h0M1501.5 43.4h0M1415.5 110.0h0M1358.9 167.8h0M1339.0 172.2h0M1317.4 193.0h0M1275.4 236.5h0M1273.6 234.2h0M1264.8 242.3h0M1352.6 171.0h0M1443.6 82.5h0M1280.7 233.9h0M1290.2 219.5h0M1339.6 187.3h0M1262.8 247.3h0M1283.0 227.2h0M1308.3 213.7h0M1432.9 101.4h0M1259.1 255.1h0M1274.3 232.7h0M1267.5 249.1h0M1368.3 152.0h0M1342.4 167.0h0M1375.8 146.0h0M1346.8 185.7h0M1357.8 163.5h0M1381.9 135.7h0M1265.8 247.4h0M1284.9 220.6h0M1462.0 68.3h0M1264.8 243.2h0M1324.4 195.7h0M1266.1 248.7h0M1270.0 243.5h0M1285.5 227.5h0M1351.9 165.8h0" stroke="#0808f0" stroke-width="3.1" stroke-linecap="round" fill="none"/>
</g>
<line x1="1201.4" y1="12.0" x2="1554.6" y2="12.0" stroke="#9a9a9a" stroke-width="1.9"/>
<line x1="1201.4" y1="11.6" x2="1201.4" y2="312.2" stroke="#555" stroke-width="1.3"/>
<line x1="1201.4" y1="312.2" x2="1554.6" y2="312.2" stroke="#444" stroke-width="1.3"/>
<line x1="1554.6" y1="11.6" x2="1554.6" y2="312.2" stroke="#111" stroke-width="1.3"/>
<line x1="1201.4" y1="282.3" x2="1203.4" y2="282.3" stroke="#111" stroke-width="1.6"/>
<line x1="1201.4" y1="222.3" x2="1203.4" y2="222.3" stroke="#111" stroke-width="1.6"/>
<line x1="1201.4" y1="162.3" x2="1203.4" y2="162.3" stroke="#111" stroke-width="1.6"/>
<line x1="1201.4" y1="102.3" x2="1203.4" y2="102.3" stroke="#111" stroke-width="1.6"/>
<line x1="1201.4" y1="42.3" x2="1203.4" y2="42.3" stroke="#111" stroke-width="1.6"/>
<line x1="1236.5" y1="392.3" x2="1236.5" y2="692.9" stroke="#d2d2d2" stroke-width="1.3"/>
<line x1="1307.2" y1="392.3" x2="1307.2" y2="692.9" stroke="#d2d2d2" stroke-width="1.3"/>
<line x1="1377.8" y1="392.3" x2="1377.8" y2="692.9" stroke="#d2d2d2" stroke-width="1.3"/>
<line x1="1448.5" y1="392.3" x2="1448.5" y2="692.9" stroke="#d2d2d2" stroke-width="1.3"/>
<line x1="1519.1" y1="392.3" x2="1519.1" y2="692.9" stroke="#d2d2d2" stroke-width="1.3"/>
<clipPath id="c380"><rect x="1201.4" y="392.3" width="353.2" height="300.6"/></clipPath>
<g clip-path="url(#c380)">
<line x1="1201.4" y1="692.9" x2="1554.6" y2="392.3" stroke="#000" stroke-width="2.0" stroke-dasharray="4.3,5.3"/>
<line x1="1201.4" y1="688.0999999999999" x2="1522.5" y2="392.5" stroke="#1f9a1f" stroke-width="2.0"/>
<path d="M1247.9 643.9h0M1245.4 649.3h0M1246.7 643.3h0M1247.8 644.2h0M1240.7 653.5h0M1243.7 650.2h0M1243.6 646.1h0M1245.7 647.4h0M1245.5 646.6h0M1245.5 645.1h0M1243.4 648.4h0M1248.8 647.3h0M1247.4 643.4h0M1240.6 648.9h0M1246.5 643.7h0M1242.5 645.6h0M1252.5 639.5h0M1244.8 645.4h0M1245.1 643.3h0M1246.7 646.3h0M1245.7 642.3h0M1246.2 641.9h0M1251.9 638.9h0M1247.2 640.7h0M1249.4 641.1h0M1250.4 644.3h0M1243.0 646.3h0M1252.4 639.6h0M1248.9 642.6h0M1249.8 642.4h0M1243.4 645.4h0M1249.3 641.9h0M1247.9 646.2h0M1244.6 646.4h0M1254.5 636.7h0M1248.5 645.7h0M1245.6 647.6h0M1247.1 646.1h0M1249.7 644.3h0M1250.4 641.3h0M1248.5 641.5h0M1250.8 637.3h0M1251.7 638.2h0M1242.1 647.4h0M1244.7 644.6h0M1243.1 645.7h0M1246.8 646.4h0M1251.6 639.5h0M1248.8 642.9h0M1242.8 649.5h0M1245.4 647.9h0M1250.1 643.7h0M1244.6 648.2h0M1246.1 649.1h0M1247.5 643.6h0M1240.0 651.8h0M1249.2 643.0h0M1247.7 643.9h0M1248.5 642.2h0M1243.0 650.4h0M1243.7 648.6h0M1244.4 651.6h0M1247.3 650.3h0M1246.7 650.2h0M1246.9 641.7h0M1252.8 644.4h0M1251.1 640.5h0M1243.9 644.6h0M1244.2 649.0h0M1252.5 636.4h0M1245.3 642.4h0M1251.3 639.1h0M1252.1 635.0h0M1244.5 646.1h0M1245.5 648.4h0M1246.8 644.3h0M1243.4 649.7h0M1243.0 652.1h0M1245.0 650.2h0M1249.5 637.5h0M1244.9 648.6h0M1245.7 646.5h0M1244.8 648.9h0M1241.6 649.9h0M1251.7 641.6h0M1238.2 654.4h0M1244.2 650.8h0M1248.4 647.4h0M1241.5 652.1h0M1248.6 643.1h0M1250.9 636.8h0M1243.4 646.0h0M1247.2 640.7h0M1242.5 648.2h0M1248.3 644.4h0M1246.8 648.7h0M1247.2 645.1h0M1251.3 646.5h0M1248.1 645.0h0M1251.2 637.5h0M1248.7 642.9h0M1242.2 646.9h0M1247.4 645.8h0M1248.2 647.5h0M1241.4 651.6h0M1251.2 642.4h0M1246.7 642.7h0M1247.8 639.8h0M1243.3 650.4h0M1246.7 646.4h0M1247.5 645.1h0M1245.3 647.7h0M1246.7 648.5h0M1239.0 652.4h0M1251.3 640.5h0M1242.5 648.4h0M1238.7 655.7h0M1243.1 649.1h0M1243.5 652.6h0M1248.4 641.8h0M1243.2 651.2h0M1247.5 645.5h0M1243.1 649.9h0M1254.3 640.0h0M1248.4 646.5h0M1253.4 643.7h0M1242.9 644.9h0M1248.8 643.0h0M1243.1 648.2h0M1248.5 638.8h0M1248.8 643.8h0M1240.8 649.6h0M1242.4 649.4h0M1242.3 646.7h0M1241.1 649.4h0M1243.9 647.4h0M1243.1 649.5h0M1241.3 649.8h0M1246.8 642.6h0M1248.4 649.0h0M1241.8 650.3h0M1244.5 648.6h0M1246.5 646.5h0M1245.6 651.3h0M1244.0 646.3h0M1249.3 645.2h0M1249.4 643.6h0M1248.8 644.8h0M1245.7 650.4h0M1253.5 640.4h0M1252.6 644.6h0M1245.0 649.3h0M1246.0 646.9h0M1250.6 641.9h0M1243.6 648.2h0M1247.8 644.8h0M1246.6 640.5h0M1243.9 647.0h0M1245.6 649.5h0M1240.9 652.3h0M1244.5 649.1h0M1239.4 652.7h0M1254.5 639.8h0M1251.7 643.0h0M1250.8 637.8h0M1247.5 644.7h0M1249.9 643.4h0M1250.9 642.3h0M1250.0 643.0h0M1249.7 639.5h0M1243.2 647.6h0M1247.9 641.7h0M1244.5 655.0h0M1242.2 648.8h0M1242.4 646.9h0M1247.9 639.7h0M1250.1 642.3h0M1241.6 654.3h0M1252.6 638.7h0M1251.6 642.5h0M1245.1 651.3h0M1244.8 648.8h0M1246.1 643.5h0M1249.9 639.7h0M1245.1 645.3h0M1242.5 651.9h0M1247.6 638.6h0M1239.1 655.3h0M1246.9 645.5h0M1250.5 645.5h0M1247.5 641.6h0M1249.2 642.2h0M1248.1 642.1h0M1249.0 643.2h0M1246.9 645.5h0M1243.5 648.1h0M1245.6 651.0h0M1246.1 643.6h0M1250.8 639.5h0M1252.1 641.5h0M1247.9 644.5h0M1243.7 647.5h0M1243.8 644.4h0M1245.7 645.4h0M1251.3 641.2h0M1247.6 645.9h0M1246.2 649.6h0M1243.7 649.7h0M1249.5 642.8h0M1247.4 645.4h0M1246.2 645.8h0M1246.8 643.7h0M1252.3 639.3h0M1245.8 645.6h0M1252.4 638.7h0M1250.8 641.3h0M1246.6 645.7h0M1249.5 641.8h0M1246.0 650.3h0M1243.5 645.4h0M1245.4 649.7h0M1243.2 646.7h0M1248.2 644.1h0M1246.4 643.1h0M1248.4 643.8h0M1249.3 645.4h0M1235.4 653.3h0M1247.5 644.3h0M1240.0 651.3h0M1247.0 645.0h0M1243.3 646.2h0M1246.8 643.5h0M1251.2 640.8h0M1240.4 655.0h0M1247.1 646.1h0M1246.1 645.8h0M1239.7 647.6h0M1248.7 642.7h0M1246.5 645.9h0M1244.6 644.5h0M1243.8 648.4h0M1257.7 635.4h0M1245.0 646.7h0M1240.0 655.2h0M1243.1 646.5h0M1245.1 645.9h0M1245.0 647.7h0M1246.1 648.7h0M1242.7 648.6h0M1248.3 640.6h0M1244.7 648.9h0M1241.6 652.7h0M1243.5 647.4h0M1245.0 650.8h0M1249.4 648.3h0M1248.1 645.2h0M1245.2 648.5h0M1246.5 646.3h0M1247.2 646.4h0M1253.6 638.4h0M1244.2 648.3h0M1248.0 645.7h0M1249.0 644.5h0M1243.0 647.3h0M1247.1 642.8h0M1247.0 643.0h0M1244.7 645.6h0M1248.4 651.8h0M1250.0 644.8h0M1250.4 642.8h0M1245.7 645.9h0M1247.1 649.0h0M1254.7 634.7h0M1242.5 648.6h0M1247.2 646.5h0M1249.5 642.5h0M1246.9 646.1h0M1248.7 645.4h0M1247.0 644.0h0M1249.1 644.4h0M1250.9 645.0h0M1245.6 648.0h0M1247.1 645.4h0M1246.2 648.5h0M1245.0 644.0h0M1246.3 648.4h0M1242.4 645.2h0M1249.0 641.2h0M1252.4 642.5h0M1252.4 639.9h0M1250.9 638.8h0M1243.0 649.3h0M1251.8 643.7h0M1243.9 647.8h0M1246.2 641.1h0M1252.9 643.3h0M1242.6 647.9h0M1249.4 643.0h0M1247.4 645.1h0M1245.9 647.2h0M1243.3 649.3h0M1247.9 641.9h0M1244.8 645.8h0M1250.1 644.7h0M1250.7 638.0h0M1241.5 653.3h0M1244.6 645.8h0M1245.3 646.3h0M1242.2 646.7h0M1242.4 648.5h0M1246.7 642.9h0M1245.7 646.4h0M1240.6 648.7h0M1244.5 646.6h0M1248.2 638.9h0M1242.1 651.3h0M1243.1 645.8h0M1252.0 639.5h0M1251.0 641.0h0M1240.7 652.3h0M1241.6 649.0h0M1247.7 648.0h0M1242.2 652.8h0M1245.5 644.8h0M1244.8 650.9h0M1248.4 640.4h0M1237.5 654.5h0M1238.6 652.2h0M1242.1 649.5h0M1250.0 641.4h0M1245.8 646.9h0M1240.4 652.1h0M1248.1 644.4h0M1248.9 640.9h0M1245.5 643.8h0M1245.2 643.7h0M1247.9 643.4h0M1250.7 642.3h0M1246.9 649.2h0M1248.3 642.4h0M1246.2 643.8h0M1245.0 647.9h0M1243.2 646.7h0M1247.3 641.8h0M1245.3 646.4h0M1245.5 644.0h0M1249.7 642.0h0M1248.1 648.3h0M1249.5 644.0h0M1240.8 651.8h0M1248.4 642.6h0M1244.3 649.7h0M1243.5 649.4h0M1243.4 650.8h0M1250.7 641.9h0M1249.3 642.9h0M1243.9 645.7h0M1242.4 647.5h0M1246.4 645.3h0M1244.8 646.6h0M1252.3 640.1h0M1241.2 650.2h0M1239.9 647.9h0M1245.5 652.5h0M1246.4 646.1h0M1246.9 644.5h0M1249.1 640.5h0M1253.7 641.6h0M1245.2 646.0h0M1244.5 645.4h0M1240.2 652.5h0M1247.3 649.5h0M1249.4 643.8h0M1245.5 649.4h0M1250.6 640.3h0M1246.5 647.6h0M1251.7 636.5h0M1247.6 644.3h0M1242.7 651.1h0M1244.1 649.0h0M1241.0 653.3h0M1240.3 650.4h0M1247.3 641.3h0M1249.5 643.4h0M1253.3 637.2h0M1246.2 648.1h0M1245.6 645.7h0M1242.5 643.8h0M1249.9 645.9h0M1247.8 641.5h0M1244.3 644.8h0M1248.8 648.0h0M1248.4 647.3h0M1239.8 654.1h0M1249.0 641.0h0M1246.9 646.3h0M1245.0 647.4h0M1244.9 645.3h0M1252.6 639.8h0M1251.8 640.2h0M1252.8 640.6h0M1242.3 646.7h0M1244.1 649.7h0M1249.6 638.7h0M1242.1 650.4h0M1243.8 649.9h0M1240.0 650.0h0M1252.9 638.6h0M1250.1 647.0h0M1248.0 643.7h0M1247.2 648.2h0M1244.9 649.0h0M1245.0 645.1h0M1248.6 645.8h0M1243.9 647.2h0M1250.7 642.6h0M1244.7 642.7h0M1243.3 648.8h0M1251.0 644.3h0M1245.9 648.8h0M1248.4 646.1h0M1244.9 646.7h0M1238.4 653.0h0M1248.3 641.6h0M1241.6 649.7h0M1250.2 641.9h0M1240.9 650.0h0M1239.8 652.1h0M1247.5 644.0h0M1247.9 642.5h0M1246.8 643.5h0M1242.1 651.0h0M1249.5 647.1h0M1241.2 652.4h0M1244.8 646.6h0M1243.6 654.2h0M1245.1 648.1h0M1249.4 641.9h0M1244.2 649.1h0M1248.4 646.6h0M1248.8 639.3h0M1240.3 647.9h0M1242.3 650.1h0M1245.0 643.8h0M1244.3 644.5h0M1247.5 647.5h0M1239.6 645.6h0M1248.9 645.7h0M1249.0 644.0h0M1245.8 648.9h0M1241.5 650.0h0M1246.4 648.9h0M1244.5 647.5h0M1248.4 641.3h0M1246.1 645.5h0M1249.0 644.0h0M1244.9 643.4h0M1251.5 643.2h0M1238.2 650.9h0M1242.8 649.8h0M1248.1 643.6h0M1241.1 650.6h0M1249.0 643.1h0M1242.1 649.8h0M1246.7 647.3h0M1243.2 650.1h0M1244.8 646.1h0M1247.0 645.5h0M1246.0 648.9h0M1245.0 648.7h0M1254.0 640.5h0M1246.4 645.9h0M1243.0 648.5h0M1249.7 642.6h0M1249.3 644.7h0M1250.7 641.8h0M1252.7 643.3h0M1243.1 655.7h0M1250.1 642.5h0M1250.4 646.1h0M1246.4 648.1h0M1247.3 647.9h0M1235.8 654.0h0M1244.4 650.6h0M1252.7 639.4h0M1240.1 652.8h0M1244.5 650.5h0M1247.4 648.7h0M1248.4 642.8h0M1252.2 639.6h0M1240.2 649.7h0M1246.5 641.3h0M1249.4 642.4h0M1241.8 649.4h0M1246.3 646.2h0M1253.0 639.5h0M1251.0 642.4h0M1248.3 646.2h0M1237.2 649.5h0M1245.9 650.7h0M1247.8 644.0h0M1245.3 645.8h0M1246.2 645.7h0M1257.3 638.2h0M1245.6 647.0h0M1243.0 650.1h0M1247.2 647.6h0M1245.3 647.0h0M1245.3 647.8h0M1246.1 647.5h0M1249.1 641.7h0M1247.2 647.6h0M1242.1 648.7h0M1245.9 647.8h0M1248.1 643.3h0M1244.7 647.2h0M1250.4 641.6h0M1249.1 645.7h0M1242.9 650.9h0M1247.5 646.9h0M1253.4 639.1h0M1251.9 639.0h0M1246.2 643.5h0M1249.6 644.2h0M1244.0 647.9h0M1241.3 654.5h0M1248.3 649.4h0M1247.3 647.2h0M1248.2 645.8h0M1246.3 649.7h0M1247.5 649.1h0M1244.6 646.3h0M1248.1 646.3h0M1249.3 647.2h0M1246.2 640.5h0M1249.3 642.9h0M1240.1 652.4h0M1243.6 646.8h0M1251.5 643.1h0M1252.6 636.4h0M1247.3 648.8h0M1246.0 649.4h0M1241.9 650.4h0M1247.7 646.6h0M1249.1 640.0h0M1241.2 654.6h0M1248.4 645.9h0M1248.1 643.8h0M1247.9 643.2h0M1242.4 647.2h0M1248.3 643.4h0M1241.1 645.5h0M1251.6 642.3h0M1246.9 645.1h0M1242.3 647.7h0M1251.1 642.4h0M1250.5 642.9h0M1244.1 649.2h0M1254.2 640.4h0M1242.8 651.9h0M1247.5 646.3h0M1250.6 645.8h0M1238.4 652.4h0M1249.9 646.5h0M1246.2 641.2h0M1246.3 642.0h0M1242.6 646.8h0M1247.6 645.4h0M1242.5 651.0h0M1243.0 646.2h0M1244.8 647.0h0M1242.1 648.6h0M1251.9 642.6h0M1241.7 647.7h0M1243.7 650.3h0M1245.3 646.8h0M1246.4 650.1h0M1249.2 645.0h0M1249.3 642.1h0M1245.3 648.1h0M1245.0 648.3h0M1246.5 644.0h0M1249.3 643.5h0M1248.9 640.8h0M1244.6 653.4h0M1239.1 651.3h0M1254.0 637.9h0M1249.8 646.6h0M1247.3 648.3h0M1247.6 642.8h0M1244.5 650.2h0M1242.9 650.8h0M1245.2 645.7h0M1245.6 647.5h0M1244.2 646.9h0M1241.2 652.8h0M1245.3 646.3h0M1248.4 641.6h0M1244.6 646.8h0M1246.5 651.2h0M1239.1 651.2h0M1245.7 646.5h0M1246.0 648.6h0M1242.1 646.6h0M1240.3 655.8h0M1247.8 640.2h0M1243.5 650.1h0M1248.1 640.7h0M1244.9 647.5h0M1248.6 647.2h0M1245.2 646.9h0M1241.1 650.1h0M1246.1 645.0h0M1245.2 644.5h0M1248.7 646.0h0M1244.8 646.3h0M1245.0 645.5h0M1249.4 643.9h0M1250.5 644.5h0M1249.1 645.8h0M1250.1 640.9h0M1248.0 642.6h0M1249.1 645.5h0M1249.5 646.4h0M1247.8 641.7h0M1246.6 649.5h0M1246.9 645.2h0M1254.9 640.2h0M1246.4 650.2h0M1245.6 646.5h0M1245.1 647.6h0M1246.3 642.7h0M1247.3 639.8h0M1242.4 650.1h0M1239.4 650.0h0M1247.4 642.6h0M1240.7 652.5h0M1247.3 647.3h0M1246.9 641.7h0M1250.5 643.2h0M1252.3 640.7h0M1247.7 645.5h0M1244.4 648.1h0M1242.2 651.3h0M1243.6 646.8h0M1246.5 642.9h0M1239.1 653.6h0M1246.7 649.1h0M1246.3 645.9h0M1248.7 647.5h0M1245.2 648.6h0M1246.8 642.7h0M1243.8 642.9h0M1244.8 646.6h0M1240.1 654.3h0M1246.8 643.8h0M1251.9 646.4h0M1247.0 647.2h0M1247.7 641.2h0M1242.9 647.4h0M1251.4 644.7h0M1243.7 652.5h0M1249.2 641.4h0M1246.8 645.8h0M1243.0 650.5h0M1250.0 641.7h0M1246.4 647.3h0M1247.0 650.0h0M1248.0 642.6h0M1246.3 647.6h0M1245.1 649.6h0M1248.0 647.7h0M1245.0 646.7h0M1246.6 647.7h0M1244.0 646.7h0M1241.1 651.5h0M1244.0 645.6h0M1244.6 648.5h0M1246.4 647.5h0M1250.6 646.9h0M1240.4 654.1h0M1246.8 643.9h0M1238.6 645.9h0M1242.7 652.4h0M1244.6 650.1h0M1238.4 652.5h0M1239.8 650.9h0M1246.9 647.1h0M1246.7 645.6h0M1246.0 650.2h0M1243.6 649.3h0M1254.0 636.9h0M1245.8 642.6h0M1243.3 649.2h0M1252.3 641.2h0M1248.6 642.9h0M1245.1 644.6h0M1250.6 641.0h0M1246.9 647.3h0M1248.7 643.1h0M1282.0 611.5h0M1274.2 623.4h0M1281.2 615.3h0M1245.2 645.6h0M1285.3 611.9h0M1266.3 627.8h0M1285.3 610.0h0M1251.8 640.7h0M1260.1 631.1h0M1251.2 640.6h0M1273.9 619.8h0M1285.1 613.3h0M1285.7 611.8h0M1247.2 643.8h0M1278.3 619.9h0M1268.8 624.1h0M1253.6 640.3h0M1284.0 612.8h0M1267.5 624.5h0M1245.5 647.8h0M1260.6 634.4h0M1274.4 621.3h0M1282.0 612.5h0M1252.6 633.1h0M1270.3 628.4h0M1247.5 644.4h0M1284.8 610.7h0M1244.0 645.2h0M1269.1 630.4h0M1277.6 613.6h0M1273.8 622.8h0M1266.4 627.1h0M1263.4 633.0h0M1253.0 641.9h0M1256.5 637.2h0M1247.8 642.0h0M1255.7 634.8h0M1273.1 622.3h0M1268.5 623.9h0M1269.2 625.3h0M1267.5 625.8h0M1282.0 611.2h0M1255.5 638.5h0M1268.7 625.2h0M1255.7 636.6h0M1275.3 620.8h0M1272.9 617.0h0M1273.8 621.3h0M1268.7 623.1h0M1277.1 616.8h0M1260.5 629.5h0M1285.9 614.3h0M1269.2 619.6h0M1258.9 634.4h0M1272.5 624.4h0M1274.6 619.2h0M1272.3 620.4h0M1267.2 629.2h0M1259.5 634.4h0M1262.8 627.1h0M1256.5 639.4h0M1271.6 622.7h0M1282.5 613.0h0M1270.4 618.2h0M1252.7 640.2h0M1245.2 643.3h0M1283.3 613.2h0M1256.9 637.6h0M1274.7 617.0h0M1286.1 613.1h0M1268.7 623.4h0M1261.8 632.7h0M1274.3 619.2h0M1247.2 645.8h0M1280.3 615.7h0M1250.8 642.9h0M1245.8 649.1h0M1277.8 616.7h0M1250.5 645.2h0M1268.0 625.4h0M1260.4 632.7h0M1283.1 614.2h0M1255.9 634.6h0M1276.1 613.5h0M1246.5 648.5h0M1275.9 615.3h0M1247.4 644.0h0M1278.8 615.8h0M1282.3 613.9h0M1249.9 642.2h0M1263.4 628.5h0M1257.5 636.2h0M1287.2 609.6h0M1260.9 633.0h0M1253.0 637.9h0M1258.5 629.9h0M1284.5 613.0h0M1264.1 630.0h0M1265.9 629.3h0M1270.6 622.2h0M1281.5 611.9h0M1244.0 651.0h0M1279.5 617.5h0M1261.9 630.4h0M1263.4 628.6h0M1286.9 609.5h0M1262.0 632.0h0M1260.6 631.3h0M1282.4 613.5h0M1265.0 631.0h0M1272.8 621.2h0M1256.5 633.9h0M1274.3 622.2h0M1260.2 630.2h0M1279.0 613.8h0M1265.8 629.6h0M1285.1 609.9h0M1268.3 625.4h0M1282.3 610.9h0M1263.5 628.1h0M1273.8 623.3h0M1255.6 640.1h0M1270.1 621.2h0M1273.5 620.2h0M1252.2 639.1h0M1268.2 624.6h0M1252.7 642.5h0M1265.6 625.1h0M1281.4 615.2h0M1262.8 628.6h0M1244.9 643.5h0M1267.3 629.5h0M1264.5 627.9h0M1285.5 610.2h0M1273.6 621.1h0M1278.7 615.7h0M1260.2 635.2h0M1284.1 613.1h0M1281.0 612.1h0M1247.7 642.2h0M1273.4 621.9h0M1284.5 613.9h0M1273.0 615.5h0M1255.4 636.3h0M1270.1 626.1h0M1267.7 627.2h0M1256.9 635.1h0M1278.9 617.9h0M1263.1 626.3h0M1272.9 620.7h0M1278.9 614.6h0M1276.4 620.3h0M1248.1 645.9h0M1246.1 647.5h0M1280.7 613.3h0M1273.0 621.7h0M1250.3 642.5h0M1249.4 641.8h0M1266.1 626.8h0M1251.6 637.1h0M1285.6 609.9h0M1253.7 641.1h0M1275.9 614.8h0M1268.7 626.2h0M1273.9 620.0h0M1274.9 620.1h0M1256.5 635.2h0M1265.6 627.1h0M1246.6 647.1h0M1245.7 646.5h0M1282.0 610.1h0M1277.6 614.6h0M1248.3 641.6h0M1271.8 622.9h0M1275.9 619.2h0M1263.0 627.9h0M1260.7 635.1h0M1276.4 618.0h0M1244.0 651.9h0M1264.8 629.4h0M1255.2 639.0h0M1263.6 632.4h0M1268.6 623.7h0M1262.6 632.3h0M1283.2 612.5h0M1283.4 612.0h0M1277.9 618.2h0M1279.5 611.7h0M1266.2 628.4h0M1255.8 636.3h0M1280.4 617.2h0M1248.8 644.2h0M1270.4 624.1h0M1272.2 622.4h0M1248.5 644.8h0M1252.8 639.2h0M1274.0 616.4h0M1282.3 612.7h0M1261.2 632.1h0M1267.6 626.9h0M1275.6 612.6h0M1269.9 620.1h0M1264.5 627.5h0M1272.4 619.9h0M1275.7 620.2h0M1279.8 615.1h0M1268.9 624.2h0M1273.4 620.3h0M1252.4 641.9h0M1250.9 643.1h0M1280.2 613.2h0M1253.7 637.9h0M1263.3 634.8h0M1283.6 611.1h0M1250.2 638.9h0M1274.3 621.4h0M1254.8 637.1h0M1271.9 625.4h0M1280.5 612.2h0M1280.7 616.6h0M1278.7 618.7h0M1267.0 627.2h0M1268.1 619.9h0M1251.3 642.3h0M1248.8 646.1h0M1277.4 615.9h0M1245.9 645.2h0M1252.0 643.2h0M1276.1 621.9h0M1263.8 630.1h0M1271.3 621.7h0M1277.8 615.8h0M1257.0 633.1h0M1280.9 617.3h0M1277.7 618.6h0M1269.8 624.2h0M1269.5 622.2h0M1260.9 630.9h0M1261.1 634.3h0M1254.5 635.9h0M1268.8 622.6h0M1285.4 610.0h0M1269.7 620.2h0M1261.3 634.5h0M1277.3 618.3h0M1268.8 626.4h0M1280.8 615.0h0M1281.2 615.5h0M1275.3 620.1h0M1272.9 622.1h0M1273.0 621.1h0M1253.4 638.9h0M1271.9 618.5h0M1278.3 615.4h0M1262.7 630.1h0M1251.2 641.0h0M1259.5 633.2h0M1278.9 614.2h0M1253.0 641.2h0M1244.1 644.8h0M1282.9 613.1h0M1279.8 618.5h0M1276.6 618.8h0M1268.5 624.7h0M1273.0 619.0h0M1277.3 617.5h0M1258.4 635.0h0M1252.8 635.9h0M1274.9 620.8h0M1270.9 620.4h0M1262.3 633.9h0M1262.3 630.1h0M1249.1 644.2h0M1244.2 649.6h0M1249.9 646.5h0M1245.9 647.8h0M1253.1 640.0h0M1247.6 643.7h0M1246.6 647.2h0M1260.7 630.3h0M1273.5 620.2h0M1270.3 617.3h0M1245.9 640.0h0M1255.0 641.5h0M1255.6 639.2h0M1287.5 612.2h0M1262.7 634.4h0M1248.6 642.4h0M1252.7 643.1h0M1246.1 649.3h0M1246.2 647.0h0M1263.5 628.0h0M1245.0 648.3h0M1247.0 646.5h0M1248.0 641.8h0M1259.9 632.2h0M1254.7 637.1h0M1251.0 639.0h0M1254.0 642.0h0M1264.1 629.1h0M1252.0 642.7h0M1246.4 642.9h0M1269.7 622.2h0M1249.3 646.4h0" stroke="#14a514" stroke-width="3.1" stroke-linecap="round" fill="none"/>
</g>
<line x1="1201.4" y1="392.3" x2="1554.6" y2="392.3" stroke="#555" stroke-width="1.3"/>
<line x1="1201.4" y1="392.3" x2="1201.4" y2="692.9" stroke="#555" stroke-width="1.3"/>
<line x1="1201.4" y1="692.9" x2="1554.6" y2="692.9" stroke="#444" stroke-width="1.3"/>
<line x1="1554.6" y1="392.3" x2="1554.6" y2="692.9" stroke="#111" stroke-width="1.3"/>
<line x1="1201.4" y1="663.0" x2="1203.4" y2="663.0" stroke="#111" stroke-width="1.6"/>
<line x1="1201.4" y1="603.0" x2="1203.4" y2="603.0" stroke="#111" stroke-width="1.6"/>
<line x1="1201.4" y1="543.0" x2="1203.4" y2="543.0" stroke="#111" stroke-width="1.6"/>
<line x1="1201.4" y1="483.0" x2="1203.4" y2="483.0" stroke="#111" stroke-width="1.6"/>
<line x1="1201.4" y1="423.0" x2="1203.4" y2="423.0" stroke="#111" stroke-width="1.6"/>
<text transform="matrix(0.22941 0 0 0.22941 53.01 289.34)" font-size="100" letter-spacing="0.21" fill="#000">400</text>
<text transform="matrix(0.22941 0 0 0.22941 53.01 229.34)" font-size="100" letter-spacing="0.20" fill="#000">500</text>
<text transform="matrix(0.22941 0 0 0.22941 53.01 169.34)" font-size="100" letter-spacing="0.21" fill="#000">600</text>
<text transform="matrix(0.22941 0 0 0.22941 53.01 109.34)" font-size="100" letter-spacing="0.20" fill="#000">700</text>
<text transform="matrix(0.22941 0 0 0.22941 53.01 49.34)" font-size="100" letter-spacing="0.21" fill="#000">800</text>
<text transform="matrix(0.21429 0 0 0.21429 282.84 335.69)" font-size="100" letter-spacing="3.64" fill="#000">Jul 17</text>
<text transform="matrix(0.21429 0 0 0.21429 670.89 335.79)" font-size="100" letter-spacing="3.07" fill="#000">Jul 24</text>
<text transform="matrix(0.21479 0 0 0.21479 1058.89 335.82)" font-size="100" letter-spacing="1.88" fill="#000">Jul 31</text>
<text transform="matrix(0.20667 0 0 0.20667 536.89 364.46)" font-size="100" letter-spacing="4.68" fill="#000">Date (2023)</text>
<text transform="matrix(0 -0.21444 0.21444 0 43.80 215.67)" font-size="100" letter-spacing="3.70" fill="#000">CO<tspan font-size="68" dy="17">2</tspan><tspan dy="-17"> (ppm)</tspan></text>
<text transform="matrix(0.31857 0 0 0.31857 249.16 52.48)" font-size="100" letter-spacing="3.95" fill="#111">Rural</text>
<text transform="matrix(0.18889 0 0 0.18889 127.94 47.93)" font-size="100" letter-spacing="10.59" fill="#000">(a)</text>
<text transform="matrix(0.20110 0 0 0.20110 115.20 96.08)" font-size="100" letter-spacing="1.49" fill="#1010a0">Airgradient S1 (out−of−box)</text>
<text transform="matrix(0.18750 0 0 0.18750 114.46 118.42)" font-size="100" letter-spacing="4.90" fill="#c81616">CEAS−Reference 1</text>
<text transform="matrix(0.20046 0 0 0.20143 566.10 47.70)" font-size="100" fill="#6a6a6a">Node</text>
<text transform="matrix(0.19053 0 0 0.21029 565.55 73.98)" font-size="100" fill="#6a6a6a">S1</text>
<text transform="matrix(0.19951 0 0 0.21458 654.00 47.69)" font-size="100" fill="#6a6a6a">rmse</text>
<text transform="matrix(0.20588 0 0 0.20588 653.55 73.99)" font-size="100" letter-spacing="0.66" fill="#6a6a6a">13.39</text>
<text transform="matrix(0.19778 0 0 0.19778 743.31 47.75)" font-size="100" letter-spacing="1.60" fill="#6a6a6a">slope</text>
<text transform="matrix(0.20303 0 0 0.20588 743.58 73.99)" font-size="100" fill="#6a6a6a">1.04</text>
<text transform="matrix(0.19437 0 0 0.19437 830.12 47.71)" font-size="100" letter-spacing="2.25" fill="#6a6a6a">offset</text>
<text transform="matrix(0.20588 0 0 0.20588 830.47 73.99)" font-size="100" letter-spacing="2.89" fill="#6a6a6a">−5.58</text>
<text transform="matrix(0.20000 0 0 0.20000 924.10 47.50)" font-size="100" letter-spacing="0.65" fill="#6a6a6a">pearson's r</text>
<text transform="matrix(0.20898 0 0 0.21029 923.46 74.28)" font-size="100" fill="#6a6a6a">0.99</text>
<text transform="matrix(0.22941 0 0 0.22941 53.01 670.04)" font-size="100" letter-spacing="0.21" fill="#000">400</text>
<text transform="matrix(0.22941 0 0 0.22941 53.01 610.04)" font-size="100" letter-spacing="0.20" fill="#000">500</text>
<text transform="matrix(0.22941 0 0 0.22941 53.01 550.04)" font-size="100" letter-spacing="0.21" fill="#000">600</text>
<text transform="matrix(0.22941 0 0 0.22941 53.01 490.04)" font-size="100" letter-spacing="0.20" fill="#000">700</text>
<text transform="matrix(0.22941 0 0 0.22941 53.01 430.04)" font-size="100" letter-spacing="0.21" fill="#000">800</text>
<text transform="matrix(0.21429 0 0 0.21429 282.84 716.39)" font-size="100" letter-spacing="3.64" fill="#000">Jul 17</text>
<text transform="matrix(0.21429 0 0 0.21429 670.89 716.49)" font-size="100" letter-spacing="3.07" fill="#000">Jul 24</text>
<text transform="matrix(0.21479 0 0 0.21479 1058.89 716.52)" font-size="100" letter-spacing="1.88" fill="#000">Jul 31</text>
<text transform="matrix(0.20667 0 0 0.20667 536.89 745.16)" font-size="100" letter-spacing="4.68" fill="#000">Date (2023)</text>
<text transform="matrix(0 -0.21444 0.21444 0 43.80 596.37)" font-size="100" letter-spacing="3.70" fill="#000">CO<tspan font-size="68" dy="17">2</tspan><tspan dy="-17"> (ppm)</tspan></text>
<text transform="matrix(0.33143 0 0 0.33143 245.84 433.87)" font-size="100" letter-spacing="0.07" fill="#111">Urban</text>
<text transform="matrix(0.19111 0 0 0.19111 127.24 428.19)" font-size="100" letter-spacing="11.55" fill="#000">(b)</text>
<text transform="matrix(0.20110 0 0 0.20110 115.20 476.78)" font-size="100" letter-spacing="1.56" fill="#259a25">Airgradient S2 (out−of−box)</text>
<text transform="matrix(0.18750 0 0 0.18750 114.46 499.12)" font-size="100" letter-spacing="5.26" fill="#111">CEAS−Reference 2</text>
<text transform="matrix(0.19857 0 0 0.19857 560.80 428.50)" font-size="100" letter-spacing="0.35" fill="#6a6a6a">Node</text>
<text transform="matrix(0.20294 0 0 0.20294 560.19 454.39)" font-size="100" letter-spacing="4.03" fill="#6a6a6a">S2</text>
<text transform="matrix(0.19756 0 0 0.21667 649.11 428.48)" font-size="100" fill="#6a6a6a">rmse</text>
<text transform="matrix(0.20588 0 0 0.20588 648.55 454.69)" font-size="100" letter-spacing="1.55" fill="#6a6a6a">11.88</text>
<text transform="matrix(0.19778 0 0 0.19778 738.11 428.45)" font-size="100" letter-spacing="1.60" fill="#6a6a6a">slope</text>
<text transform="matrix(0.20588 0 0 0.20588 738.05 454.69)" font-size="100" letter-spacing="0.06" fill="#6a6a6a">1.08</text>
<text transform="matrix(0.19577 0 0 0.19577 824.92 428.50)" font-size="100" letter-spacing="1.29" fill="#6a6a6a">offset</text>
<text transform="matrix(0.20588 0 0 0.20588 825.17 454.69)" font-size="100" letter-spacing="1.55" fill="#6a6a6a">−21.61</text>
<text transform="matrix(0.20000 0 0 0.20000 929.50 428.20)" font-size="100" letter-spacing="0.55" fill="#6a6a6a">pearson's r</text>
<text transform="matrix(0.20714 0 0 0.21029 928.87 454.98)" font-size="100" fill="#6a6a6a">0.96</text>
<text transform="matrix(0.22941 0 0 0.22941 1163.01 289.54)" font-size="100" letter-spacing="0.21" fill="#000">400</text>
<text transform="matrix(0.22941 0 0 0.22941 1219.29 335.34)" font-size="100" letter-spacing="0.21" fill="#000">400</text>
<text transform="matrix(0.22941 0 0 0.22941 1163.01 229.54)" font-size="100" letter-spacing="0.20" fill="#000">500</text>
<text transform="matrix(0.22941 0 0 0.22941 1289.60 335.34)" font-size="100" letter-spacing="0.20" fill="#000">500</text>
<text transform="matrix(0.22941 0 0 0.22941 1163.01 169.54)" font-size="100" letter-spacing="0.21" fill="#000">600</text>
<text transform="matrix(0.22941 0 0 0.22941 1360.36 335.34)" font-size="100" letter-spacing="0.21" fill="#000">600</text>
<text transform="matrix(0.22941 0 0 0.22941 1163.01 109.54)" font-size="100" letter-spacing="0.20" fill="#000">700</text>
<text transform="matrix(0.22941 0 0 0.22941 1430.67 335.34)" font-size="100" letter-spacing="0.20" fill="#000">700</text>
<text transform="matrix(0.22941 0 0 0.22941 1163.01 49.54)" font-size="100" letter-spacing="0.21" fill="#000">800</text>
<text transform="matrix(0.22941 0 0 0.22941 1501.66 335.34)" font-size="100" letter-spacing="0.21" fill="#000">800</text>
<text transform="matrix(0.22222 0 0 0.22222 1276.68 365.63)" font-size="100" letter-spacing="0.76" fill="#000">Airgradient S1 (ppm)</text>
<text transform="matrix(0 -0.20769 0.20769 0 1153.94 246.52)" font-size="100" letter-spacing="4.09" fill="#000">Reference 1 (ppm)</text>
<text transform="matrix(0.18352 0 0 0.18352 1395.08 245.55)" font-size="100" letter-spacing="5.63" fill="#1212a8">S1 (OLS fit)</text>
<text transform="matrix(0.19143 0 0 0.19143 1395.67 268.31)" font-size="100" letter-spacing="3.06" fill="#000">1:1 line</text>
<text transform="matrix(0.22941 0 0 0.22941 1163.01 670.24)" font-size="100" letter-spacing="0.21" fill="#000">400</text>
<text transform="matrix(0.22941 0 0 0.22941 1219.29 716.04)" font-size="100" letter-spacing="0.21" fill="#000">400</text>
<text transform="matrix(0.22941 0 0 0.22941 1163.01 610.24)" font-size="100" letter-spacing="0.20" fill="#000">500</text>
<text transform="matrix(0.22941 0 0 0.22941 1289.60 716.04)" font-size="100" letter-spacing="0.20" fill="#000">500</text>
<text transform="matrix(0.22941 0 0 0.22941 1163.01 550.24)" font-size="100" letter-spacing="0.21" fill="#000">600</text>
<text transform="matrix(0.22941 0 0 0.22941 1360.36 716.04)" font-size="100" letter-spacing="0.21" fill="#000">600</text>
<text transform="matrix(0.22941 0 0 0.22941 1163.01 490.24)" font-size="100" letter-spacing="0.20" fill="#000">700</text>
<text transform="matrix(0.22941 0 0 0.22941 1430.67 716.04)" font-size="100" letter-spacing="0.20" fill="#000">700</text>
<text transform="matrix(0.22941 0 0 0.22941 1163.01 430.24)" font-size="100" letter-spacing="0.21" fill="#000">800</text>
<text transform="matrix(0.22941 0 0 0.22941 1501.66 716.04)" font-size="100" letter-spacing="0.21" fill="#000">800</text>
<text transform="matrix(0.22222 0 0 0.22222 1276.68 746.33)" font-size="100" letter-spacing="0.76" fill="#000">Airgradient S2 (ppm)</text>
<text transform="matrix(0 -0.20769 0.20769 0 1153.94 627.22)" font-size="100" letter-spacing="4.09" fill="#000">Reference 2 (ppm)</text>
<text transform="matrix(0.18352 0 0 0.18352 1395.08 626.25)" font-size="100" letter-spacing="5.63" fill="#229a22">S2 (OLS fit)</text>
<text transform="matrix(0.19143 0 0 0.19143 1395.67 649.01)" font-size="100" letter-spacing="3.06" fill="#000">1:1 line</text>
</svg></body></html>
